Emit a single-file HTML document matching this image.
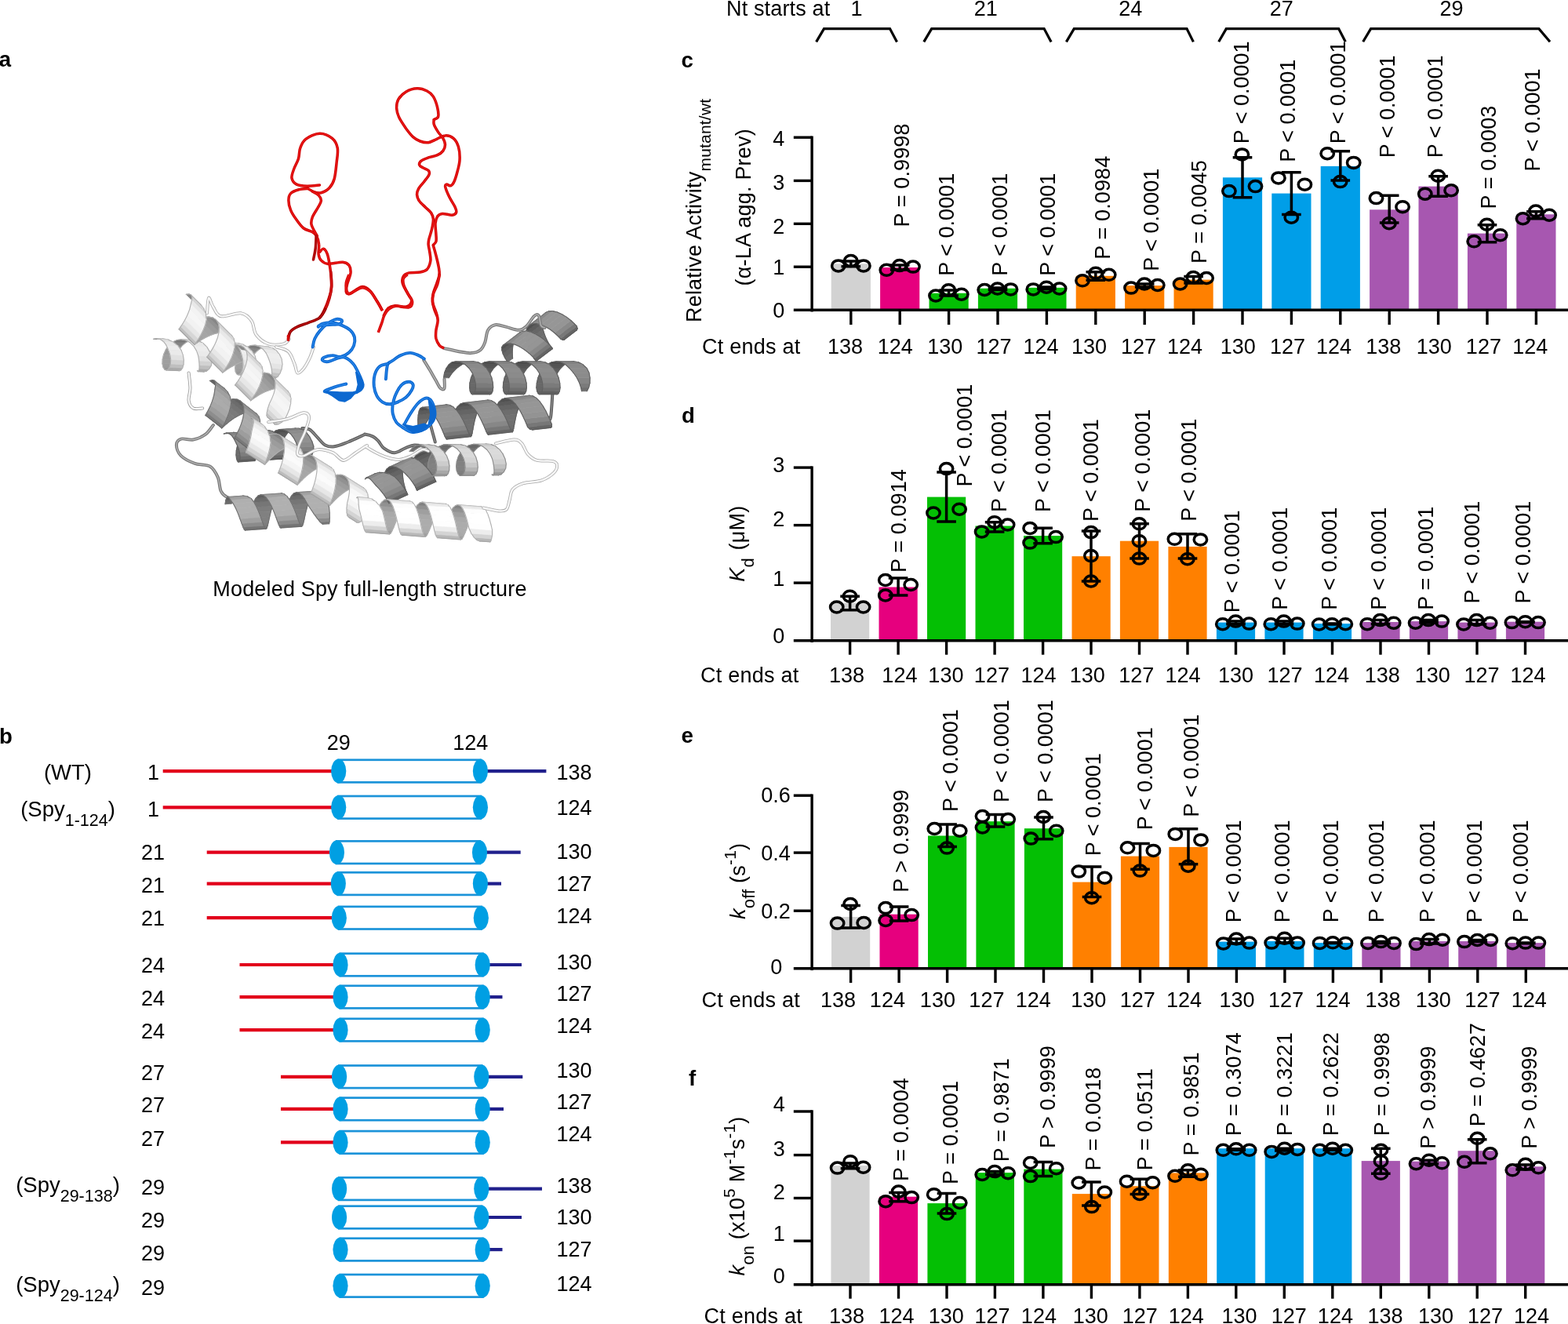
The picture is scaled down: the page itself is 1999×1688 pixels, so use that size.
<!DOCTYPE html>
<html lang="en">
<head>
<meta charset="utf-8">
<title>Spy truncation analysis</title>
<style>
html,body{margin:0;padding:0;background:#fff;}
body{width:1999px;height:1688px;overflow:hidden;}
svg{display:block;font-family:'Liberation Sans', sans-serif;fill:#000;}
</style>
</head>
<body>
<svg width="1999" height="1688" viewBox="0 0 1999 1688">
<rect width="1999" height="1688" fill="#fff"/>
<g id="protein">
<path d="M385.2 545.9C386.8 546.2 391.7 545.9 395.0 547.8C398.2 549.8 401.5 554.4 404.7 557.6C408.0 560.9 410.9 565.4 414.5 567.4C418.1 569.3 421.4 570.0 426.2 569.3C431.1 568.7 437.6 565.9 443.8 563.5C450.0 561.0 459.7 556.3 463.4 554.7C467.0 553.0 463.8 553.4 465.9 553.7C467.9 554.0 472.9 555.2 475.6 556.6C478.4 558.1 480.2 560.1 482.5 562.5C484.8 564.9 485.9 568.8 489.3 571.3C492.7 573.7 498.4 577.2 503.0 577.2C507.6 577.2 512.4 572.9 516.7 571.3C520.9 569.7 524.2 567.7 528.4 567.4C532.6 567.1 539.8 569.0 542.1 569.3" fill="none" stroke="#5e5e5e" stroke-width="4" stroke-linecap="round" stroke-linejoin="round"/>
<path d="M385.2 545.9C386.8 546.2 391.7 545.9 395.0 547.8C398.2 549.8 401.5 554.4 404.7 557.6C408.0 560.9 410.9 565.4 414.5 567.4C418.1 569.3 421.4 570.0 426.2 569.3C431.1 568.7 437.6 565.9 443.8 563.5C450.0 561.0 459.7 556.3 463.4 554.7C467.0 553.0 463.8 553.4 465.9 553.7C467.9 554.0 472.9 555.2 475.6 556.6C478.4 558.1 480.2 560.1 482.5 562.5C484.8 564.9 485.9 568.8 489.3 571.3C492.7 573.7 498.4 577.2 503.0 577.2C507.6 577.2 512.4 572.9 516.7 571.3C520.9 569.7 524.2 567.7 528.4 567.4C532.6 567.1 539.8 569.0 542.1 569.3" fill="none" stroke="#8c8c8c" stroke-width="1.36" stroke-linecap="round" stroke-linejoin="round"/>
<path d="M271.9 542.0C270.2 543.9 266.3 550.6 262.1 553.7C257.8 556.8 251.7 559.6 246.4 560.5C241.2 561.5 234.4 558.4 230.8 559.6C227.2 560.7 224.9 563.8 224.9 567.4C224.9 571.0 226.9 577.2 230.8 581.1C234.7 585.0 242.2 588.6 248.4 590.8C254.6 593.1 263.1 591.8 267.9 594.7C272.8 597.7 275.4 603.2 277.7 608.4C280.0 613.6 279.7 621.8 281.6 626.0C283.6 630.2 285.5 631.9 289.4 633.8C293.3 635.8 302.5 637.1 305.1 637.7" fill="none" stroke="#7c7c7c" stroke-width="4" stroke-linecap="round" stroke-linejoin="round"/>
<path d="M271.9 542.0C270.2 543.9 266.3 550.6 262.1 553.7C257.8 556.8 251.7 559.6 246.4 560.5C241.2 561.5 234.4 558.4 230.8 559.6C227.2 560.7 224.9 563.8 224.9 567.4C224.9 571.0 226.9 577.2 230.8 581.1C234.7 585.0 242.2 588.6 248.4 590.8C254.6 593.1 263.1 591.8 267.9 594.7C272.8 597.7 275.4 603.2 277.7 608.4C280.0 613.6 279.7 621.8 281.6 626.0C283.6 630.2 285.5 631.9 289.4 633.8C293.3 635.8 302.5 637.1 305.1 637.7" fill="none" stroke="#b4b4b4" stroke-width="1.36" stroke-linecap="round" stroke-linejoin="round"/>
<path d="M240.6 475.5C240.9 478.8 242.5 489.2 242.5 495.1C242.5 500.9 239.9 506.5 240.6 510.7C241.2 514.9 243.5 518.9 246.4 520.5C249.4 522.1 256.2 520.5 258.2 520.5" fill="none" stroke="#9a9a9a" stroke-width="4" stroke-linecap="round" stroke-linejoin="round"/>
<path d="M240.6 475.5C240.9 478.8 242.5 489.2 242.5 495.1C242.5 500.9 239.9 506.5 240.6 510.7C241.2 514.9 243.5 518.9 246.4 520.5C249.4 522.1 256.2 520.5 258.2 520.5" fill="none" stroke="#f6f6f6" stroke-width="2.40" stroke-linecap="round" stroke-linejoin="round"/>
<path d="M548.9 542.0C549.9 545.6 553.8 559.9 554.8 563.5" fill="none" stroke="#5e5e5e" stroke-width="4" stroke-linecap="round" stroke-linejoin="round"/>
<path d="M548.9 542.0C549.9 545.6 553.8 559.9 554.8 563.5" fill="none" stroke="#8c8c8c" stroke-width="1.36" stroke-linecap="round" stroke-linejoin="round"/>
<path d="M704.3 502.9C704.1 505.5 703.8 513.3 703.3 518.5C702.8 523.7 702.8 530.7 701.4 534.2C699.9 537.6 697.3 538.7 694.5 539.0C691.7 539.4 686.4 536.6 684.7 536.1" fill="none" stroke="#5e5e5e" stroke-width="4" stroke-linecap="round" stroke-linejoin="round"/>
<path d="M704.3 502.9C704.1 505.5 703.8 513.3 703.3 518.5C702.8 523.7 702.8 530.7 701.4 534.2C699.9 537.6 697.3 538.7 694.5 539.0C691.7 539.4 686.4 536.6 684.7 536.1" fill="none" stroke="#8c8c8c" stroke-width="1.36" stroke-linecap="round" stroke-linejoin="round"/>
<path d="M384.0 583.6L393.2 583.0L390.3 582.3L384.2 582.7Z" fill="#5b5b5b" stroke="#5b5b5b" stroke-width="0.7"/><path d="M384.0 583.6L384.2 582.7M393.2 583.0L390.3 582.3" stroke="#606060" stroke-width="1.1" fill="none" stroke-linecap="round"/>
<path d="M340.5 563.3L360.9 562.0L363.6 556.1L343.2 557.5Z" fill="#626262" stroke="#626262" stroke-width="0.7"/><path d="M340.5 563.3L343.2 557.5M360.9 562.0L363.6 556.1" stroke="#606060" stroke-width="1.1" fill="none" stroke-linecap="round"/>
<path d="M338.9 569.5L359.2 568.1L360.9 562.0L340.5 563.3Z" fill="#686868" stroke="#686868" stroke-width="0.7"/><path d="M338.9 569.5L340.5 563.3M359.2 568.1L360.9 562.0" stroke="#606060" stroke-width="1.1" fill="none" stroke-linecap="round"/>
<path d="M343.2 557.5L363.6 556.1L367.2 551.3L346.9 552.6Z" fill="#5a5a5a" stroke="#5a5a5a" stroke-width="0.7"/><path d="M343.2 557.5L346.9 552.6M363.6 556.1L367.2 551.3" stroke="#606060" stroke-width="1.1" fill="none" stroke-linecap="round"/>
<path d="M338.2 575.4L358.5 574.1L359.2 568.1L338.9 569.5Z" fill="#6b6b6b" stroke="#6b6b6b" stroke-width="0.7"/><path d="M338.2 575.4L338.9 569.5M358.5 574.1L359.2 568.1" stroke="#606060" stroke-width="1.1" fill="none" stroke-linecap="round"/>
<path d="M688.5 475.3L710.7 475.3L714.7 469.5L692.5 469.5Z" fill="#5d5d5d" stroke="#5d5d5d" stroke-width="0.7"/><path d="M688.5 475.3L692.5 469.5M710.7 475.3L714.7 469.5" stroke="#606060" stroke-width="1.1" fill="none" stroke-linecap="round"/>
<path d="M685.8 481.8L707.9 481.8L710.7 475.3L688.5 475.3Z" fill="#646464" stroke="#646464" stroke-width="0.7"/><path d="M685.8 481.8L688.5 475.3M707.9 481.8L710.7 475.3" stroke="#606060" stroke-width="1.1" fill="none" stroke-linecap="round"/>
<path d="M383.6 582.7L395.9 581.8L393.2 583.0L384.0 583.6Z" fill="#5c5c5c" stroke="#5c5c5c" stroke-width="0.7"/><path d="M383.6 582.7L384.0 583.6M395.9 581.8L393.2 583.0" stroke="#606060" stroke-width="1.1" fill="none" stroke-linecap="round"/>
<path d="M692.5 469.5L714.7 469.5L719.6 464.8L697.4 464.8Z" fill="#555555" stroke="#555555" stroke-width="0.7"/><path d="M692.5 469.5L697.4 464.8M714.7 469.5L719.6 464.8" stroke="#606060" stroke-width="1.1" fill="none" stroke-linecap="round"/>
<path d="M684.3 488.3L706.4 488.3L707.9 481.8L685.8 481.8Z" fill="#686868" stroke="#686868" stroke-width="0.7"/><path d="M684.3 488.3L685.8 481.8M706.4 488.3L707.9 481.8" stroke="#606060" stroke-width="1.1" fill="none" stroke-linecap="round"/>
<path d="M346.9 552.6L367.2 551.3L371.6 547.8L351.3 549.2Z" fill="#4f4f4f" stroke="#4f4f4f" stroke-width="0.7"/><path d="M346.9 552.6L351.3 549.2M367.2 551.3L371.6 547.8" stroke="#606060" stroke-width="1.1" fill="none" stroke-linecap="round"/>
<path d="M338.4 580.5L358.7 579.1L358.5 574.1L338.2 575.4Z" fill="#6b6b6b" stroke="#6b6b6b" stroke-width="0.7"/><path d="M338.4 580.5L338.2 575.4M358.7 579.1L358.5 574.1" stroke="#606060" stroke-width="1.1" fill="none" stroke-linecap="round"/>
<path d="M697.4 464.8L719.6 464.8L725.3 461.8L703.1 461.8Z" fill="#4c4c4c" stroke="#4c4c4c" stroke-width="0.7"/><path d="M697.4 464.8L703.1 461.8M719.6 464.8L725.3 461.8" stroke="#606060" stroke-width="1.1" fill="none" stroke-linecap="round"/>
<path d="M683.9 494.1L706.1 494.1L706.4 488.3L684.3 488.3Z" fill="#696969" stroke="#696969" stroke-width="0.7"/><path d="M683.9 494.1L684.3 488.3M706.1 494.1L706.4 488.3" stroke="#606060" stroke-width="1.1" fill="none" stroke-linecap="round"/>
<path d="M351.3 549.2L371.6 547.8L376.5 546.1L356.2 547.5Z" fill="#4a4a4a" stroke="#4a4a4a" stroke-width="0.7"/><path d="M351.3 549.2L356.2 547.5M371.6 547.8L376.5 546.1" stroke="#606060" stroke-width="1.1" fill="none" stroke-linecap="round"/>
<path d="M382.8 579.9L398.2 578.8L395.9 581.8L383.6 582.7Z" fill="#616161" stroke="#616161" stroke-width="0.7"/><path d="M382.8 579.9L383.6 582.7M398.2 578.8L395.9 581.8" stroke="#606060" stroke-width="1.1" fill="none" stroke-linecap="round"/>
<path d="M703.1 461.8L725.3 461.8L731.4 460.8L709.2 460.8Z" fill="#4a4a4a" stroke="#4a4a4a" stroke-width="0.7"/><path d="M703.1 461.8L709.2 460.8M725.3 461.8L731.4 460.8" stroke="#606060" stroke-width="1.1" fill="none" stroke-linecap="round"/>
<path d="M339.2 584.2L359.6 582.8L358.7 579.1L338.4 580.5Z" fill="#676767" stroke="#676767" stroke-width="0.7"/><path d="M339.2 584.2L338.4 580.5M359.6 582.8L358.7 579.1" stroke="#606060" stroke-width="1.1" fill="none" stroke-linecap="round"/>
<path d="M740.6 494.1L750.6 494.1L748.3 498.8L741.6 498.8Z" fill="#6e6e6e" stroke="#6e6e6e" stroke-width="0.7"/><path d="M740.6 494.1L741.6 498.8M750.6 494.1L748.3 498.8" stroke="#606060" stroke-width="1.1" fill="none" stroke-linecap="round"/>
<path d="M356.2 547.5L376.5 546.1L381.6 546.3L361.3 547.7Z" fill="#757575" stroke="#757575" stroke-width="0.7"/><path d="M356.2 547.5L361.3 547.7M376.5 546.1L381.6 546.3" stroke="#606060" stroke-width="1.1" fill="none" stroke-linecap="round"/>
<path d="M684.6 498.8L706.8 498.8L706.1 494.1L683.9 494.1Z" fill="#676767" stroke="#676767" stroke-width="0.7"/><path d="M684.6 498.8L683.9 494.1M706.8 498.8L706.1 494.1" stroke="#606060" stroke-width="1.1" fill="none" stroke-linecap="round"/>
<path d="M709.2 460.8L731.4 460.8L737.5 461.8L715.3 461.8Z" fill="#777777" stroke="#777777" stroke-width="0.7"/><path d="M709.2 460.8L715.3 461.8M731.4 460.8L737.5 461.8" stroke="#606060" stroke-width="1.1" fill="none" stroke-linecap="round"/>
<path d="M381.2 575.6L399.8 574.3L398.2 578.8L382.8 579.9Z" fill="#727272" stroke="#727272" stroke-width="0.7"/><path d="M381.2 575.6L382.8 579.9M399.8 574.3L398.2 578.8" stroke="#606060" stroke-width="1.1" fill="none" stroke-linecap="round"/>
<path d="M738.7 488.3L752.0 488.3L750.6 494.1L740.6 494.1Z" fill="#7b7b7b" stroke="#7b7b7b" stroke-width="0.7"/><path d="M738.7 488.3L740.6 494.1M752.0 488.3L750.6 494.1" stroke="#606060" stroke-width="1.1" fill="none" stroke-linecap="round"/>
<path d="M340.4 586.2L360.8 584.9L359.6 582.8L339.2 584.2Z" fill="#616161" stroke="#616161" stroke-width="0.7"/><path d="M340.4 586.2L339.2 584.2M360.8 584.9L359.6 582.8" stroke="#606060" stroke-width="1.1" fill="none" stroke-linecap="round"/>
<path d="M361.3 547.7L381.6 546.3L386.6 548.4L366.3 549.8Z" fill="#828282" stroke="#828282" stroke-width="0.7"/><path d="M361.3 547.7L366.3 549.8M381.6 546.3L386.6 548.4" stroke="#606060" stroke-width="1.1" fill="none" stroke-linecap="round"/>
<path d="M715.3 461.8L737.5 461.8L743.2 464.8L721.0 464.8Z" fill="#828282" stroke="#828282" stroke-width="0.7"/><path d="M715.3 461.8L721.0 464.8M737.5 461.8L743.2 464.8" stroke="#606060" stroke-width="1.1" fill="none" stroke-linecap="round"/>
<path d="M686.1 501.8L708.3 501.8L706.8 498.8L684.6 498.8Z" fill="#626262" stroke="#626262" stroke-width="0.7"/><path d="M686.1 501.8L684.6 498.8M708.3 501.8L706.8 498.8" stroke="#606060" stroke-width="1.1" fill="none" stroke-linecap="round"/>
<path d="M379.4 570.2L399.8 568.9L399.8 574.3L381.2 575.6Z" fill="#808080" stroke="#808080" stroke-width="0.7"/><path d="M379.4 570.2L381.2 575.6M399.8 568.9L399.8 574.3" stroke="#606060" stroke-width="1.1" fill="none" stroke-linecap="round"/>
<path d="M735.5 481.8L752.1 481.8L752.0 488.3L738.7 488.3Z" fill="#858585" stroke="#858585" stroke-width="0.7"/><path d="M735.5 481.8L738.7 488.3M752.1 481.8L752.0 488.3" stroke="#606060" stroke-width="1.1" fill="none" stroke-linecap="round"/>
<path d="M721.0 464.8L743.2 464.8L748.2 469.5L726.0 469.5Z" fill="#8a8a8a" stroke="#8a8a8a" stroke-width="0.7"/><path d="M721.0 464.8L726.0 469.5M743.2 464.8L748.2 469.5" stroke="#606060" stroke-width="1.1" fill="none" stroke-linecap="round"/>
<path d="M366.3 549.8L386.6 548.4L391.2 552.2L370.8 553.5Z" fill="#8c8c8c" stroke="#8c8c8c" stroke-width="0.7"/><path d="M366.3 549.8L370.8 553.5M386.6 548.4L391.2 552.2" stroke="#606060" stroke-width="1.1" fill="none" stroke-linecap="round"/>
<path d="M731.1 475.3L751.0 475.3L752.1 481.8L735.5 481.8Z" fill="#8b8b8b" stroke="#8b8b8b" stroke-width="0.7"/><path d="M731.1 475.3L735.5 481.8M751.0 475.3L752.1 481.8" stroke="#606060" stroke-width="1.1" fill="none" stroke-linecap="round"/>
<path d="M726.0 469.5L748.2 469.5L751.0 475.3L731.1 475.3Z" fill="#8d8d8d" stroke="#8d8d8d" stroke-width="0.7"/><path d="M726.0 469.5L731.1 475.3M748.2 469.5L751.0 475.3" stroke="#606060" stroke-width="1.1" fill="none" stroke-linecap="round"/>
<path d="M377.5 564.3L397.9 563.0L399.8 568.9L379.4 570.2Z" fill="#8b8b8b" stroke="#8b8b8b" stroke-width="0.7"/><path d="M377.5 564.3L379.4 570.2M397.9 563.0L399.8 568.9" stroke="#606060" stroke-width="1.1" fill="none" stroke-linecap="round"/>
<path d="M370.8 553.5L391.2 552.2L395.0 557.2L374.6 558.6Z" fill="#919191" stroke="#919191" stroke-width="0.7"/><path d="M370.8 553.5L374.6 558.6M391.2 552.2L395.0 557.2" stroke="#606060" stroke-width="1.1" fill="none" stroke-linecap="round"/>
<path d="M374.6 558.6L395.0 557.2L397.9 563.0L377.5 564.3Z" fill="#919191" stroke="#919191" stroke-width="0.7"/><path d="M374.6 558.6L377.5 564.3M395.0 557.2L397.9 563.0" stroke="#606060" stroke-width="1.1" fill="none" stroke-linecap="round"/>
<path d="M341.7 586.3L362.1 585.0L360.8 584.9L340.4 586.2Z" fill="#585858" stroke="#585858" stroke-width="0.7"/><path d="M341.7 586.3L340.4 586.2M362.1 585.0L360.8 584.9" stroke="#606060" stroke-width="1.1" fill="none" stroke-linecap="round"/>
<path d="M302.6 568.2L323.0 566.8L325.3 560.8L304.9 562.2Z" fill="#656565" stroke="#656565" stroke-width="0.7"/><path d="M302.6 568.2L304.9 562.2M323.0 566.8L325.3 560.8" stroke="#606060" stroke-width="1.1" fill="none" stroke-linecap="round"/>
<path d="M301.3 574.3L321.7 573.0L323.0 566.8L302.6 568.2Z" fill="#6a6a6a" stroke="#6a6a6a" stroke-width="0.7"/><path d="M301.3 574.3L302.6 568.2M321.7 573.0L323.0 566.8" stroke="#606060" stroke-width="1.1" fill="none" stroke-linecap="round"/>
<path d="M304.9 562.2L325.3 560.8L328.6 555.5L308.2 556.9Z" fill="#5d5d5d" stroke="#5d5d5d" stroke-width="0.7"/><path d="M304.9 562.2L308.2 556.9M325.3 560.8L328.6 555.5" stroke="#606060" stroke-width="1.1" fill="none" stroke-linecap="round"/>
<path d="M687.9 502.8L710.1 502.8L708.3 501.8L686.1 501.8Z" fill="#5b5b5b" stroke="#5b5b5b" stroke-width="0.7"/><path d="M687.9 502.8L686.1 501.8M710.1 502.8L708.3 501.8" stroke="#606060" stroke-width="1.1" fill="none" stroke-linecap="round"/>
<path d="M301.0 580.0L321.3 578.6L321.7 573.0L301.3 574.3Z" fill="#6c6c6c" stroke="#6c6c6c" stroke-width="0.7"/><path d="M301.0 580.0L301.3 574.3M321.3 578.6L321.7 573.0" stroke="#606060" stroke-width="1.1" fill="none" stroke-linecap="round"/>
<path d="M308.2 556.9L328.6 555.5L332.7 551.4L312.4 552.8Z" fill="#535353" stroke="#535353" stroke-width="0.7"/><path d="M308.2 556.9L312.4 552.8M328.6 555.5L332.7 551.4" stroke="#606060" stroke-width="1.1" fill="none" stroke-linecap="round"/>
<path d="M342.8 584.5L363.1 583.1L362.1 585.0L341.7 586.3Z" fill="#5c5c5c" stroke="#5c5c5c" stroke-width="0.7"/><path d="M342.8 584.5L341.7 586.3M363.1 583.1L362.1 585.0" stroke="#606060" stroke-width="1.1" fill="none" stroke-linecap="round"/>
<path d="M312.4 552.8L332.7 551.4L337.5 549.0L317.1 550.4Z" fill="#4a4a4a" stroke="#4a4a4a" stroke-width="0.7"/><path d="M312.4 552.8L317.1 550.4M332.7 551.4L337.5 549.0" stroke="#606060" stroke-width="1.1" fill="none" stroke-linecap="round"/>
<path d="M301.5 584.6L321.8 583.2L321.3 578.6L301.0 580.0Z" fill="#6a6a6a" stroke="#6a6a6a" stroke-width="0.7"/><path d="M301.5 584.6L301.0 580.0M321.8 583.2L321.3 578.6" stroke="#606060" stroke-width="1.1" fill="none" stroke-linecap="round"/>
<path d="M689.7 501.8L711.9 501.8L710.1 502.8L687.9 502.8Z" fill="#5c5c5c" stroke="#5c5c5c" stroke-width="0.7"/><path d="M689.7 501.8L687.9 502.8M711.9 501.8L710.1 502.8" stroke="#606060" stroke-width="1.1" fill="none" stroke-linecap="round"/>
<path d="M628.2 605.9L635.6 605.8L631.9 604.9L627.0 605.0Z" fill="#757575" stroke="#757575" stroke-width="0.7"/><path d="M628.2 605.9L627.0 605.0M635.6 605.8L631.9 604.9" stroke="#8c8c8c" stroke-width="1.1" fill="none" stroke-linecap="round"/>
<path d="M317.1 550.4L337.5 549.0L342.5 548.5L322.2 549.9Z" fill="#4a4a4a" stroke="#4a4a4a" stroke-width="0.7"/><path d="M317.1 550.4L322.2 549.9M337.5 549.0L342.5 548.5" stroke="#606060" stroke-width="1.1" fill="none" stroke-linecap="round"/>
<path d="M685.3 543.1L699.1 541.5L697.7 536.8L688.5 537.8Z" fill="#6d6d6d" stroke="#6d6d6d" stroke-width="0.7"/><path d="M685.3 543.1L688.5 537.8M699.1 541.5L697.7 536.8" stroke="#606060" stroke-width="1.1" fill="none" stroke-linecap="round"/>
<path d="M343.3 581.0L363.6 579.6L363.1 583.1L342.8 584.5Z" fill="#686868" stroke="#686868" stroke-width="0.7"/><path d="M343.3 581.0L342.8 584.5M363.6 579.6L363.1 583.1" stroke="#606060" stroke-width="1.1" fill="none" stroke-linecap="round"/>
<path d="M302.5 587.7L322.9 586.3L321.8 583.2L301.5 584.6Z" fill="#656565" stroke="#656565" stroke-width="0.7"/><path d="M302.5 587.7L301.5 584.6M322.9 586.3L321.8 583.2" stroke="#606060" stroke-width="1.1" fill="none" stroke-linecap="round"/>
<path d="M645.9 475.3L668.0 475.3L672.0 469.5L649.8 469.5Z" fill="#5d5d5d" stroke="#5d5d5d" stroke-width="0.7"/><path d="M645.9 475.3L649.8 469.5M668.0 475.3L672.0 469.5" stroke="#606060" stroke-width="1.1" fill="none" stroke-linecap="round"/>
<path d="M643.1 481.8L665.3 481.8L668.0 475.3L645.9 475.3Z" fill="#646464" stroke="#646464" stroke-width="0.7"/><path d="M643.1 481.8L645.9 475.3M665.3 481.8L668.0 475.3" stroke="#606060" stroke-width="1.1" fill="none" stroke-linecap="round"/>
<path d="M649.8 469.5L672.0 469.5L677.0 464.8L654.8 464.8Z" fill="#555555" stroke="#555555" stroke-width="0.7"/><path d="M649.8 469.5L654.8 464.8M672.0 469.5L677.0 464.8" stroke="#606060" stroke-width="1.1" fill="none" stroke-linecap="round"/>
<path d="M641.6 488.3L663.8 488.3L665.3 481.8L643.1 481.8Z" fill="#686868" stroke="#686868" stroke-width="0.7"/><path d="M641.6 488.3L643.1 481.8M663.8 488.3L665.3 481.8" stroke="#606060" stroke-width="1.1" fill="none" stroke-linecap="round"/>
<path d="M322.2 549.9L342.5 548.5L347.6 549.9L327.2 551.3Z" fill="#7e7e7e" stroke="#7e7e7e" stroke-width="0.7"/><path d="M322.2 549.9L327.2 551.3M342.5 548.5L347.6 549.9" stroke="#606060" stroke-width="1.1" fill="none" stroke-linecap="round"/>
<path d="M691.2 498.8L713.4 498.8L711.9 501.8L689.7 501.8Z" fill="#5f5f5f" stroke="#5f5f5f" stroke-width="0.7"/><path d="M691.2 498.8L689.7 501.8M713.4 498.8L711.9 501.8" stroke="#606060" stroke-width="1.1" fill="none" stroke-linecap="round"/>
<path d="M629.4 604.9L639.2 604.7L635.6 605.8L628.2 605.9Z" fill="#969696" stroke="#969696" stroke-width="0.7"/><path d="M629.4 604.9L628.2 605.9M639.2 604.7L635.6 605.8" stroke="#8c8c8c" stroke-width="1.1" fill="none" stroke-linecap="round"/>
<path d="M343.0 576.2L363.3 574.8L363.6 579.6L343.3 581.0Z" fill="#787878" stroke="#787878" stroke-width="0.7"/><path d="M343.0 576.2L343.3 581.0M363.3 574.8L363.6 579.6" stroke="#606060" stroke-width="1.1" fill="none" stroke-linecap="round"/>
<path d="M654.8 464.8L677.0 464.8L682.7 461.8L660.5 461.8Z" fill="#4c4c4c" stroke="#4c4c4c" stroke-width="0.7"/><path d="M654.8 464.8L660.5 461.8M677.0 464.8L682.7 461.8" stroke="#606060" stroke-width="1.1" fill="none" stroke-linecap="round"/>
<path d="M627.7 531.5L658.5 528.1L660.7 521.0L629.9 524.5Z" fill="#6d6d6d" stroke="#6d6d6d" stroke-width="0.7"/><path d="M627.7 531.5L629.9 524.5M658.5 528.1L660.7 521.0" stroke="#606060" stroke-width="1.1" fill="none" stroke-linecap="round"/>
<path d="M682.2 546.6L700.7 544.5L699.1 541.5L685.3 543.1Z" fill="#666666" stroke="#666666" stroke-width="0.7"/><path d="M682.2 546.6L685.3 543.1M700.7 544.5L699.1 541.5" stroke="#606060" stroke-width="1.1" fill="none" stroke-linecap="round"/>
<path d="M626.1 538.6L656.9 535.1L658.5 528.1L627.7 531.5Z" fill="#707070" stroke="#707070" stroke-width="0.7"/><path d="M626.1 538.6L627.7 531.5M656.9 535.1L658.5 528.1" stroke="#606060" stroke-width="1.1" fill="none" stroke-linecap="round"/>
<path d="M641.3 494.1L663.5 494.1L663.8 488.3L641.6 488.3Z" fill="#696969" stroke="#696969" stroke-width="0.7"/><path d="M641.3 494.1L641.6 488.3M663.5 494.1L663.8 488.3" stroke="#606060" stroke-width="1.1" fill="none" stroke-linecap="round"/>
<path d="M302.2 457.6L319.4 459.6L322.4 453.7L305.2 451.7Z" fill="#9a9a9a" stroke="#9a9a9a" stroke-width="0.7"/><path d="M302.2 457.6L305.2 451.7M319.4 459.6L322.4 453.7" stroke="#b0b0b0" stroke-width="1.1" fill="none" stroke-linecap="round"/>
<path d="M629.9 524.5L660.7 521.0L663.4 514.6L632.6 518.0Z" fill="#656565" stroke="#656565" stroke-width="0.7"/><path d="M629.9 524.5L632.6 518.0M660.7 521.0L663.4 514.6" stroke="#606060" stroke-width="1.1" fill="none" stroke-linecap="round"/>
<path d="M327.2 551.3L347.6 549.9L352.3 553.1L332.0 554.4Z" fill="#898989" stroke="#898989" stroke-width="0.7"/><path d="M327.2 551.3L332.0 554.4M347.6 549.9L352.3 553.1" stroke="#606060" stroke-width="1.1" fill="none" stroke-linecap="round"/>
<path d="M305.2 451.7L322.4 453.7L326.5 448.6L309.3 446.5Z" fill="#929292" stroke="#929292" stroke-width="0.7"/><path d="M305.2 451.7L309.3 446.5M322.4 453.7L326.5 448.6" stroke="#b0b0b0" stroke-width="1.1" fill="none" stroke-linecap="round"/>
<path d="M303.8 589.0L324.2 587.6L322.9 586.3L302.5 587.7Z" fill="#5d5d5d" stroke="#5d5d5d" stroke-width="0.7"/><path d="M303.8 589.0L302.5 587.7M324.2 587.6L322.9 586.3" stroke="#606060" stroke-width="1.1" fill="none" stroke-linecap="round"/>
<path d="M300.4 463.6L317.6 465.6L319.4 459.6L302.2 457.6Z" fill="#9f9f9f" stroke="#9f9f9f" stroke-width="0.7"/><path d="M300.4 463.6L302.2 457.6M317.6 465.6L319.4 459.6" stroke="#b0b0b0" stroke-width="1.1" fill="none" stroke-linecap="round"/>
<path d="M341.7 570.5L362.0 569.1L363.3 574.8L343.0 576.2Z" fill="#858585" stroke="#858585" stroke-width="0.7"/><path d="M341.7 570.5L343.0 576.2M362.0 569.1L363.3 574.8" stroke="#606060" stroke-width="1.1" fill="none" stroke-linecap="round"/>
<path d="M364.3 650.6L390.9 648.9L392.9 641.9L366.3 643.7Z" fill="#7d7d7d" stroke="#7d7d7d" stroke-width="0.7"/><path d="M364.3 650.6L366.3 643.7M390.9 648.9L392.9 641.9" stroke="#707070" stroke-width="1.1" fill="none" stroke-linecap="round"/>
<path d="M660.5 461.8L682.7 461.8L688.8 460.8L666.6 460.8Z" fill="#4a4a4a" stroke="#4a4a4a" stroke-width="0.7"/><path d="M660.5 461.8L666.6 460.8M682.7 461.8L688.8 460.8" stroke="#606060" stroke-width="1.1" fill="none" stroke-linecap="round"/>
<path d="M309.3 446.5L326.5 448.6L331.4 444.7L314.2 442.7Z" fill="#878787" stroke="#878787" stroke-width="0.7"/><path d="M309.3 446.5L314.2 442.7M326.5 448.6L331.4 444.7" stroke="#b0b0b0" stroke-width="1.1" fill="none" stroke-linecap="round"/>
<path d="M362.7 657.5L389.2 655.8L390.9 648.9L364.3 650.6Z" fill="#808080" stroke="#808080" stroke-width="0.7"/><path d="M362.7 657.5L364.3 650.6M389.2 655.8L390.9 648.9" stroke="#707070" stroke-width="1.1" fill="none" stroke-linecap="round"/>
<path d="M624.9 544.9L655.7 541.4L656.9 535.1L626.1 538.6Z" fill="#707070" stroke="#707070" stroke-width="0.7"/><path d="M624.9 544.9L626.1 538.6M655.7 541.4L656.9 535.1" stroke="#606060" stroke-width="1.1" fill="none" stroke-linecap="round"/>
<path d="M332.0 554.4L352.3 553.1L356.5 557.6L336.1 559.0Z" fill="#909090" stroke="#909090" stroke-width="0.7"/><path d="M332.0 554.4L336.1 559.0M352.3 553.1L356.5 557.6" stroke="#606060" stroke-width="1.1" fill="none" stroke-linecap="round"/>
<path d="M691.9 494.1L714.1 494.1L713.4 498.8L691.2 498.8Z" fill="#6e6e6e" stroke="#6e6e6e" stroke-width="0.7"/><path d="M691.9 494.1L691.2 498.8M714.1 494.1L713.4 498.8" stroke="#606060" stroke-width="1.1" fill="none" stroke-linecap="round"/>
<path d="M366.3 643.7L392.9 641.9L395.3 635.6L368.7 637.4Z" fill="#767676" stroke="#767676" stroke-width="0.7"/><path d="M366.3 643.7L368.7 637.4M392.9 641.9L395.3 635.6" stroke="#707070" stroke-width="1.1" fill="none" stroke-linecap="round"/>
<path d="M632.6 518.0L663.4 514.6L666.7 509.3L635.9 512.7Z" fill="#5b5b5b" stroke="#5b5b5b" stroke-width="0.7"/><path d="M632.6 518.0L635.9 512.7M663.4 514.6L666.7 509.3" stroke="#606060" stroke-width="1.1" fill="none" stroke-linecap="round"/>
<path d="M339.4 564.6L359.7 563.2L362.0 569.1L341.7 570.5Z" fill="#8e8e8e" stroke="#8e8e8e" stroke-width="0.7"/><path d="M339.4 564.6L341.7 570.5M359.7 563.2L362.0 569.1" stroke="#606060" stroke-width="1.1" fill="none" stroke-linecap="round"/>
<path d="M630.1 601.9L642.3 601.7L639.2 604.7L629.4 604.9Z" fill="#989898" stroke="#989898" stroke-width="0.7"/><path d="M630.1 601.9L629.4 604.9M642.3 601.7L639.2 604.7" stroke="#8c8c8c" stroke-width="1.1" fill="none" stroke-linecap="round"/>
<path d="M584.3 582.1L600.5 581.8L603.9 575.9L587.7 576.1Z" fill="#787878" stroke="#787878" stroke-width="0.7"/><path d="M584.3 582.1L587.7 576.1M600.5 581.8L603.9 575.9" stroke="#8c8c8c" stroke-width="1.1" fill="none" stroke-linecap="round"/>
<path d="M336.1 559.0L356.5 557.6L359.7 563.2L339.4 564.6Z" fill="#929292" stroke="#929292" stroke-width="0.7"/><path d="M336.1 559.0L339.4 564.6M356.5 557.6L359.7 563.2" stroke="#606060" stroke-width="1.1" fill="none" stroke-linecap="round"/>
<path d="M642.0 498.8L664.2 498.8L663.5 494.1L641.3 494.1Z" fill="#676767" stroke="#676767" stroke-width="0.7"/><path d="M642.0 498.8L641.3 494.1M664.2 498.8L663.5 494.1" stroke="#606060" stroke-width="1.1" fill="none" stroke-linecap="round"/>
<path d="M299.7 469.1L317.0 471.1L317.6 465.6L300.4 463.6Z" fill="#a0a0a0" stroke="#a0a0a0" stroke-width="0.7"/><path d="M299.7 469.1L300.4 463.6M317.0 471.1L317.6 465.6" stroke="#b0b0b0" stroke-width="1.1" fill="none" stroke-linecap="round"/>
<path d="M582.3 588.4L598.5 588.2L600.5 581.8L584.3 582.1Z" fill="#7e7e7e" stroke="#7e7e7e" stroke-width="0.7"/><path d="M582.3 588.4L584.3 582.1M598.5 588.2L600.5 581.8" stroke="#8c8c8c" stroke-width="1.1" fill="none" stroke-linecap="round"/>
<path d="M587.7 576.1L603.9 575.9L608.5 571.0L592.3 571.2Z" fill="#707070" stroke="#707070" stroke-width="0.7"/><path d="M587.7 576.1L592.3 571.2M603.9 575.9L608.5 571.0" stroke="#8c8c8c" stroke-width="1.1" fill="none" stroke-linecap="round"/>
<path d="M361.3 663.8L387.9 662.0L389.2 655.8L362.7 657.5Z" fill="#808080" stroke="#808080" stroke-width="0.7"/><path d="M361.3 663.8L362.7 657.5M387.9 662.0L389.2 655.8" stroke="#707070" stroke-width="1.1" fill="none" stroke-linecap="round"/>
<path d="M314.2 442.7L331.4 444.7L336.9 442.5L319.6 440.5Z" fill="#7a7a7a" stroke="#7a7a7a" stroke-width="0.7"/><path d="M314.2 442.7L319.6 440.5M331.4 444.7L336.9 442.5" stroke="#b0b0b0" stroke-width="1.1" fill="none" stroke-linecap="round"/>
<path d="M346.5 479.1L354.3 480.0L350.9 482.4L345.8 481.8Z" fill="#acacac" stroke="#acacac" stroke-width="0.7"/><path d="M346.5 479.1L345.8 481.8M354.3 480.0L350.9 482.4" stroke="#b0b0b0" stroke-width="1.1" fill="none" stroke-linecap="round"/>
<path d="M666.6 460.8L688.8 460.8L694.9 461.8L672.7 461.8Z" fill="#777777" stroke="#777777" stroke-width="0.7"/><path d="M666.6 460.8L672.7 461.8M688.8 460.8L694.9 461.8" stroke="#606060" stroke-width="1.1" fill="none" stroke-linecap="round"/>
<path d="M679.1 548.0L702.2 545.4L700.7 544.5L682.2 546.6Z" fill="#5c5c5c" stroke="#5c5c5c" stroke-width="0.7"/><path d="M679.1 548.0L682.2 546.6M702.2 545.4L700.7 544.5" stroke="#606060" stroke-width="1.1" fill="none" stroke-linecap="round"/>
<path d="M592.3 571.2L608.5 571.0L614.0 567.6L597.8 567.8Z" fill="#676767" stroke="#676767" stroke-width="0.7"/><path d="M592.3 571.2L597.8 567.8M608.5 571.0L614.0 567.6" stroke="#8c8c8c" stroke-width="1.1" fill="none" stroke-linecap="round"/>
<path d="M581.6 594.6L597.8 594.4L598.5 588.2L582.3 588.4Z" fill="#818181" stroke="#818181" stroke-width="0.7"/><path d="M581.6 594.6L582.3 588.4M597.8 594.4L598.5 588.2" stroke="#8c8c8c" stroke-width="1.1" fill="none" stroke-linecap="round"/>
<path d="M305.0 588.3L325.4 587.0L324.2 587.6L303.8 589.0Z" fill="#5c5c5c" stroke="#5c5c5c" stroke-width="0.7"/><path d="M305.0 588.3L303.8 589.0M325.4 587.0L324.2 587.6" stroke="#606060" stroke-width="1.1" fill="none" stroke-linecap="round"/>
<path d="M624.0 549.9L654.8 546.4L655.7 541.4L624.9 544.9Z" fill="#6d6d6d" stroke="#6d6d6d" stroke-width="0.7"/><path d="M624.0 549.9L624.9 544.9M654.8 546.4L655.7 541.4" stroke="#606060" stroke-width="1.1" fill="none" stroke-linecap="round"/>
<path d="M368.7 637.4L395.3 635.6L398.0 630.6L371.5 632.3Z" fill="#6b6b6b" stroke="#6b6b6b" stroke-width="0.7"/><path d="M368.7 637.4L371.5 632.3M395.3 635.6L398.0 630.6" stroke="#707070" stroke-width="1.1" fill="none" stroke-linecap="round"/>
<path d="M691.6 488.3L713.7 488.3L714.1 494.1L691.9 494.1Z" fill="#7b7b7b" stroke="#7b7b7b" stroke-width="0.7"/><path d="M691.6 488.3L691.9 494.1M713.7 488.3L714.1 494.1" stroke="#606060" stroke-width="1.1" fill="none" stroke-linecap="round"/>
<path d="M319.6 440.5L336.9 442.5L342.5 442.2L325.2 440.1Z" fill="#787878" stroke="#787878" stroke-width="0.7"/><path d="M319.6 440.5L325.2 440.1M336.9 442.5L342.5 442.2" stroke="#b0b0b0" stroke-width="1.1" fill="none" stroke-linecap="round"/>
<path d="M635.9 512.7L666.7 509.3L670.6 505.7L639.8 509.2Z" fill="#4f4f4f" stroke="#4f4f4f" stroke-width="0.7"/><path d="M635.9 512.7L639.8 509.2M666.7 509.3L670.6 505.7" stroke="#606060" stroke-width="1.1" fill="none" stroke-linecap="round"/>
<path d="M300.2 473.6L317.5 475.6L317.0 471.1L299.7 469.1Z" fill="#9d9d9d" stroke="#9d9d9d" stroke-width="0.7"/><path d="M300.2 473.6L299.7 469.1M317.5 475.6L317.0 471.1" stroke="#b0b0b0" stroke-width="1.1" fill="none" stroke-linecap="round"/>
<path d="M672.7 461.8L694.9 461.8L700.6 464.8L678.4 464.8Z" fill="#828282" stroke="#828282" stroke-width="0.7"/><path d="M672.7 461.8L678.4 464.8M694.9 461.8L700.6 464.8" stroke="#606060" stroke-width="1.1" fill="none" stroke-linecap="round"/>
<path d="M315.8 553.5L325.2 560.8L329.2 555.7L323.0 550.8Z" fill="#7c7c7c" stroke="#7c7c7c" stroke-width="0.7"/><path d="M315.8 553.5L323.0 550.8M325.2 560.8L329.2 555.7" stroke="#707070" stroke-width="1.1" fill="none" stroke-linecap="round"/>
<path d="M360.2 668.7L386.7 667.0L387.9 662.0L361.3 663.8Z" fill="#7e7e7e" stroke="#7e7e7e" stroke-width="0.7"/><path d="M360.2 668.7L361.3 663.8M386.7 667.0L387.9 662.0" stroke="#707070" stroke-width="1.1" fill="none" stroke-linecap="round"/>
<path d="M597.8 567.8L614.0 567.6L620.0 566.1L603.8 566.3Z" fill="#646464" stroke="#646464" stroke-width="0.7"/><path d="M597.8 567.8L603.8 566.3M614.0 567.6L620.0 566.1" stroke="#8c8c8c" stroke-width="1.1" fill="none" stroke-linecap="round"/>
<path d="M629.9 597.3L644.7 597.1L642.3 601.7L630.1 601.9Z" fill="#aeaeae" stroke="#aeaeae" stroke-width="0.7"/><path d="M629.9 597.3L630.1 601.9M644.7 597.1L642.3 601.7" stroke="#8c8c8c" stroke-width="1.1" fill="none" stroke-linecap="round"/>
<path d="M720.0 427.7L729.4 420.6L725.3 417.8L719.1 422.6Z" fill="#6e6e6e" stroke="#6e6e6e" stroke-width="0.7"/><path d="M720.0 427.7L719.1 422.6M729.4 420.6L725.3 417.8" stroke="#606060" stroke-width="1.1" fill="none" stroke-linecap="round"/>
<path d="M318.8 653.6L345.4 651.9L347.4 644.9L320.8 646.7Z" fill="#7d7d7d" stroke="#7d7d7d" stroke-width="0.7"/><path d="M318.8 653.6L320.8 646.7M345.4 651.9L347.4 644.9" stroke="#707070" stroke-width="1.1" fill="none" stroke-linecap="round"/>
<path d="M317.2 660.5L343.7 658.8L345.4 651.9L318.8 653.6Z" fill="#808080" stroke="#808080" stroke-width="0.7"/><path d="M317.2 660.5L318.8 653.6M343.7 658.8L345.4 651.9" stroke="#707070" stroke-width="1.1" fill="none" stroke-linecap="round"/>
<path d="M582.2 600.0L598.4 599.7L597.8 594.4L581.6 594.6Z" fill="#828282" stroke="#828282" stroke-width="0.7"/><path d="M582.2 600.0L581.6 594.6M598.4 599.7L597.8 594.4" stroke="#8c8c8c" stroke-width="1.1" fill="none" stroke-linecap="round"/>
<path d="M643.4 501.8L665.6 501.8L664.2 498.8L642.0 498.8Z" fill="#626262" stroke="#626262" stroke-width="0.7"/><path d="M643.4 501.8L642.0 498.8M665.6 501.8L664.2 498.8" stroke="#606060" stroke-width="1.1" fill="none" stroke-linecap="round"/>
<path d="M346.7 474.6L357.1 475.8L354.3 480.0L346.5 479.1Z" fill="#c2c2c2" stroke="#c2c2c2" stroke-width="0.7"/><path d="M346.7 474.6L346.5 479.1M357.1 475.8L354.3 480.0" stroke="#b0b0b0" stroke-width="1.1" fill="none" stroke-linecap="round"/>
<path d="M690.1 481.8L712.2 481.8L713.7 488.3L691.6 488.3Z" fill="#858585" stroke="#858585" stroke-width="0.7"/><path d="M690.1 481.8L691.6 488.3M712.2 481.8L713.7 488.3" stroke="#606060" stroke-width="1.1" fill="none" stroke-linecap="round"/>
<path d="M320.8 646.7L347.4 644.9L349.8 638.6L323.2 640.4Z" fill="#767676" stroke="#767676" stroke-width="0.7"/><path d="M320.8 646.7L323.2 640.4M347.4 644.9L349.8 638.6" stroke="#707070" stroke-width="1.1" fill="none" stroke-linecap="round"/>
<path d="M252.4 473.7L259.9 474.0L256.5 472.9L251.5 472.7Z" fill="#8e8e8e" stroke="#8e8e8e" stroke-width="0.7"/><path d="M252.4 473.7L251.5 472.7M259.9 474.0L256.5 472.9" stroke="#b0b0b0" stroke-width="1.1" fill="none" stroke-linecap="round"/>
<path d="M678.4 464.8L700.6 464.8L705.5 469.5L683.3 469.5Z" fill="#8a8a8a" stroke="#8a8a8a" stroke-width="0.7"/><path d="M678.4 464.8L683.3 469.5M700.6 464.8L705.5 469.5" stroke="#606060" stroke-width="1.1" fill="none" stroke-linecap="round"/>
<path d="M309.6 556.0L322.1 565.8L325.2 560.8L315.8 553.5Z" fill="#7a7a7a" stroke="#7a7a7a" stroke-width="0.7"/><path d="M309.6 556.0L315.8 553.5M322.1 565.8L325.2 560.8" stroke="#707070" stroke-width="1.1" fill="none" stroke-linecap="round"/>
<path d="M325.2 440.1L342.5 442.2L347.8 443.8L330.6 441.7Z" fill="#cecece" stroke="#cecece" stroke-width="0.7"/><path d="M325.2 440.1L330.6 441.7M342.5 442.2L347.8 443.8" stroke="#b0b0b0" stroke-width="1.1" fill="none" stroke-linecap="round"/>
<path d="M603.8 566.3L620.0 566.1L626.2 566.6L610.0 566.8Z" fill="#bababa" stroke="#bababa" stroke-width="0.7"/><path d="M603.8 566.3L610.0 566.8M620.0 566.1L626.2 566.6" stroke="#8c8c8c" stroke-width="1.1" fill="none" stroke-linecap="round"/>
<path d="M371.5 632.3L398.0 630.6L401.1 627.2L374.6 629.0Z" fill="#5e5e5e" stroke="#5e5e5e" stroke-width="0.7"/><path d="M371.5 632.3L374.6 629.0M398.0 630.6L401.1 627.2" stroke="#707070" stroke-width="1.1" fill="none" stroke-linecap="round"/>
<path d="M315.8 666.8L342.4 665.0L343.7 658.8L317.2 660.5Z" fill="#808080" stroke="#808080" stroke-width="0.7"/><path d="M315.8 666.8L317.2 660.5M342.4 665.0L343.7 658.8" stroke="#707070" stroke-width="1.1" fill="none" stroke-linecap="round"/>
<path d="M687.3 475.3L709.5 475.3L712.2 481.8L690.1 481.8Z" fill="#8b8b8b" stroke="#8b8b8b" stroke-width="0.7"/><path d="M687.3 475.3L690.1 481.8M709.5 475.3L712.2 481.8" stroke="#606060" stroke-width="1.1" fill="none" stroke-linecap="round"/>
<path d="M683.3 469.5L705.5 469.5L709.5 475.3L687.3 475.3Z" fill="#8d8d8d" stroke="#8d8d8d" stroke-width="0.7"/><path d="M683.3 469.5L687.3 475.3M705.5 469.5L709.5 475.3" stroke="#606060" stroke-width="1.1" fill="none" stroke-linecap="round"/>
<path d="M574.9 537.4L605.7 534.0L607.9 526.9L577.1 530.3Z" fill="#6d6d6d" stroke="#6d6d6d" stroke-width="0.7"/><path d="M574.9 537.4L577.1 530.3M605.7 534.0L607.9 526.9" stroke="#606060" stroke-width="1.1" fill="none" stroke-linecap="round"/>
<path d="M305.9 585.9L326.3 584.5L325.4 587.0L305.0 588.3Z" fill="#5d5d5d" stroke="#5d5d5d" stroke-width="0.7"/><path d="M305.9 585.9L305.0 588.3M326.3 584.5L325.4 587.0" stroke="#606060" stroke-width="1.1" fill="none" stroke-linecap="round"/>
<path d="M623.3 553.1L654.0 549.7L654.8 546.4L624.0 549.9Z" fill="#666666" stroke="#666666" stroke-width="0.7"/><path d="M623.3 553.1L624.0 549.9M654.0 549.7L654.8 546.4" stroke="#606060" stroke-width="1.1" fill="none" stroke-linecap="round"/>
<path d="M675.7 547.3L703.4 544.2L702.2 545.4L679.1 548.0Z" fill="#5c5c5c" stroke="#5c5c5c" stroke-width="0.7"/><path d="M675.7 547.3L679.1 548.0M703.4 544.2L702.2 545.4" stroke="#606060" stroke-width="1.1" fill="none" stroke-linecap="round"/>
<path d="M629.1 591.5L645.3 591.3L644.7 597.1L629.9 597.3Z" fill="#c1c1c1" stroke="#c1c1c1" stroke-width="0.7"/><path d="M629.1 591.5L629.9 597.3M645.3 591.3L644.7 597.1" stroke="#8c8c8c" stroke-width="1.1" fill="none" stroke-linecap="round"/>
<path d="M573.3 544.4L604.1 541.0L605.7 534.0L574.9 537.4Z" fill="#707070" stroke="#707070" stroke-width="0.7"/><path d="M573.3 544.4L574.9 537.4M604.1 541.0L605.7 534.0" stroke="#606060" stroke-width="1.1" fill="none" stroke-linecap="round"/>
<path d="M639.8 509.2L670.6 505.7L674.8 504.2L644.0 507.6Z" fill="#4a4a4a" stroke="#4a4a4a" stroke-width="0.7"/><path d="M639.8 509.2L644.0 507.6M670.6 505.7L674.8 504.2" stroke="#606060" stroke-width="1.1" fill="none" stroke-linecap="round"/>
<path d="M301.6 476.6L318.8 478.7L317.5 475.6L300.2 473.6Z" fill="#979797" stroke="#979797" stroke-width="0.7"/><path d="M301.6 476.6L300.2 473.6M318.8 478.7L317.5 475.6" stroke="#b0b0b0" stroke-width="1.1" fill="none" stroke-linecap="round"/>
<path d="M577.1 530.3L607.9 526.9L610.6 520.4L579.8 523.8Z" fill="#656565" stroke="#656565" stroke-width="0.7"/><path d="M577.1 530.3L579.8 523.8M607.9 526.9L610.6 520.4" stroke="#606060" stroke-width="1.1" fill="none" stroke-linecap="round"/>
<path d="M323.2 640.4L349.8 638.6L352.5 633.6L326.0 635.3Z" fill="#6b6b6b" stroke="#6b6b6b" stroke-width="0.7"/><path d="M323.2 640.4L326.0 635.3M349.8 638.6L352.5 633.6" stroke="#707070" stroke-width="1.1" fill="none" stroke-linecap="round"/>
<path d="M285.2 553.1L291.3 552.7L297.8 551.4L288.6 552.0Z" fill="#4a4a4a" stroke="#4a4a4a" stroke-width="0.7"/><path d="M285.2 553.1L288.6 552.0M291.3 552.7L297.8 551.4" stroke="#606060" stroke-width="1.1" fill="none" stroke-linecap="round"/>
<path d="M610.0 566.8L626.2 566.6L632.0 569.1L615.8 569.3Z" fill="#cbcbcb" stroke="#cbcbcb" stroke-width="0.7"/><path d="M610.0 566.8L615.8 569.3M626.2 566.6L632.0 569.1" stroke="#8c8c8c" stroke-width="1.1" fill="none" stroke-linecap="round"/>
<path d="M359.1 671.9L385.7 670.2L386.7 667.0L360.2 668.7Z" fill="#767676" stroke="#767676" stroke-width="0.7"/><path d="M359.1 671.9L360.2 668.7M385.7 670.2L386.7 667.0" stroke="#707070" stroke-width="1.1" fill="none" stroke-linecap="round"/>
<path d="M330.6 441.7L347.8 443.8L352.6 447.2L335.3 445.2Z" fill="#dedede" stroke="#dedede" stroke-width="0.7"/><path d="M330.6 441.7L335.3 445.2M347.8 443.8L352.6 447.2" stroke="#b0b0b0" stroke-width="1.1" fill="none" stroke-linecap="round"/>
<path d="M346.1 468.9L359.1 470.5L357.1 475.8L346.7 474.6Z" fill="#d5d5d5" stroke="#d5d5d5" stroke-width="0.7"/><path d="M346.1 468.9L346.7 474.6M359.1 470.5L357.1 475.8" stroke="#b0b0b0" stroke-width="1.1" fill="none" stroke-linecap="round"/>
<path d="M583.8 603.9L599.9 603.7L598.4 599.7L582.2 600.0Z" fill="#7f7f7f" stroke="#7f7f7f" stroke-width="0.7"/><path d="M583.8 603.9L582.2 600.0M599.9 603.7L598.4 599.7" stroke="#8c8c8c" stroke-width="1.1" fill="none" stroke-linecap="round"/>
<path d="M720.2 431.3L732.7 421.8L729.4 420.6L720.0 427.7Z" fill="#676767" stroke="#676767" stroke-width="0.7"/><path d="M720.2 431.3L720.0 427.7M732.7 421.8L729.4 420.6" stroke="#606060" stroke-width="1.1" fill="none" stroke-linecap="round"/>
<path d="M304.5 557.9L320.1 570.2L322.1 565.8L309.6 556.0Z" fill="#767676" stroke="#767676" stroke-width="0.7"/><path d="M304.5 557.9L309.6 556.0M320.1 570.2L322.1 565.8" stroke="#707070" stroke-width="1.1" fill="none" stroke-linecap="round"/>
<path d="M572.1 550.7L602.9 547.3L604.1 541.0L573.3 544.4Z" fill="#707070" stroke="#707070" stroke-width="0.7"/><path d="M572.1 550.7L573.3 544.4M602.9 547.3L604.1 541.0" stroke="#606060" stroke-width="1.1" fill="none" stroke-linecap="round"/>
<path d="M627.7 585.2L643.9 585.0L645.3 591.3L629.1 591.5Z" fill="#d0d0d0" stroke="#d0d0d0" stroke-width="0.7"/><path d="M627.7 585.2L629.1 591.5M643.9 585.0L645.3 591.3" stroke="#8c8c8c" stroke-width="1.1" fill="none" stroke-linecap="round"/>
<path d="M314.7 671.7L341.2 670.0L342.4 665.0L315.8 666.8Z" fill="#7e7e7e" stroke="#7e7e7e" stroke-width="0.7"/><path d="M314.7 671.7L315.8 666.8M341.2 670.0L342.4 665.0" stroke="#707070" stroke-width="1.1" fill="none" stroke-linecap="round"/>
<path d="M645.2 502.8L667.4 502.8L665.6 501.8L643.4 501.8Z" fill="#5b5b5b" stroke="#5b5b5b" stroke-width="0.7"/><path d="M645.2 502.8L643.4 501.8M667.4 502.8L665.6 501.8" stroke="#606060" stroke-width="1.1" fill="none" stroke-linecap="round"/>
<path d="M615.8 569.3L632.0 569.1L637.1 573.3L620.9 573.5Z" fill="#d6d6d6" stroke="#d6d6d6" stroke-width="0.7"/><path d="M615.8 569.3L620.9 573.5M632.0 569.1L637.1 573.3" stroke="#8c8c8c" stroke-width="1.1" fill="none" stroke-linecap="round"/>
<path d="M579.8 523.8L610.6 520.4L613.9 515.2L583.1 518.6Z" fill="#5b5b5b" stroke="#5b5b5b" stroke-width="0.7"/><path d="M579.8 523.8L583.1 518.6M610.6 520.4L613.9 515.2" stroke="#606060" stroke-width="1.1" fill="none" stroke-linecap="round"/>
<path d="M673.3 442.1L694.1 426.2L692.1 419.5L671.3 435.4Z" fill="#6d6d6d" stroke="#6d6d6d" stroke-width="0.7"/><path d="M673.3 442.1L671.3 435.4M694.1 426.2L692.1 419.5" stroke="#606060" stroke-width="1.1" fill="none" stroke-linecap="round"/>
<path d="M253.5 472.8L263.4 473.2L259.9 474.0L252.4 473.7Z" fill="#a8a8a8" stroke="#a8a8a8" stroke-width="0.7"/><path d="M253.5 472.8L252.4 473.7M263.4 473.2L259.9 474.0" stroke="#b0b0b0" stroke-width="1.1" fill="none" stroke-linecap="round"/>
<path d="M335.3 445.2L352.6 447.2L356.5 452.1L339.2 450.1Z" fill="#eaeaea" stroke="#eaeaea" stroke-width="0.7"/><path d="M335.3 445.2L339.2 450.1M352.6 447.2L356.5 452.1" stroke="#b0b0b0" stroke-width="1.1" fill="none" stroke-linecap="round"/>
<path d="M344.4 462.5L360.0 464.3L359.1 470.5L346.1 468.9Z" fill="#e4e4e4" stroke="#e4e4e4" stroke-width="0.7"/><path d="M344.4 462.5L346.1 468.9M360.0 464.3L359.1 470.5" stroke="#b0b0b0" stroke-width="1.1" fill="none" stroke-linecap="round"/>
<path d="M624.9 579.0L641.1 578.8L643.9 585.0L627.7 585.2Z" fill="#d9d9d9" stroke="#d9d9d9" stroke-width="0.7"/><path d="M624.9 579.0L627.7 585.2M641.1 578.8L643.9 585.0" stroke="#8c8c8c" stroke-width="1.1" fill="none" stroke-linecap="round"/>
<path d="M374.6 629.0L401.1 627.2L404.5 625.9L377.9 627.7Z" fill="#585858" stroke="#585858" stroke-width="0.7"/><path d="M374.6 629.0L377.9 627.7M401.1 627.2L404.5 625.9" stroke="#707070" stroke-width="1.1" fill="none" stroke-linecap="round"/>
<path d="M620.9 573.5L637.1 573.3L641.1 578.8L624.9 579.0Z" fill="#dbdbdb" stroke="#dbdbdb" stroke-width="0.7"/><path d="M620.9 573.5L624.9 579.0M637.1 573.3L641.1 578.8" stroke="#8c8c8c" stroke-width="1.1" fill="none" stroke-linecap="round"/>
<path d="M675.9 448.3L696.7 432.4L694.1 426.2L673.3 442.1Z" fill="#707070" stroke="#707070" stroke-width="0.7"/><path d="M675.9 448.3L673.3 442.1M696.7 432.4L694.1 426.2" stroke="#606060" stroke-width="1.1" fill="none" stroke-linecap="round"/>
<path d="M306.1 581.8L326.5 580.4L326.3 584.5L305.9 585.9Z" fill="#6e6e6e" stroke="#6e6e6e" stroke-width="0.7"/><path d="M306.1 581.8L305.9 585.9M326.5 580.4L326.3 584.5" stroke="#606060" stroke-width="1.1" fill="none" stroke-linecap="round"/>
<path d="M318.2 479.7L338.0 499.5L344.7 497.0L324.8 477.2Z" fill="#a3a3a3" stroke="#a3a3a3" stroke-width="0.7"/><path d="M318.2 479.7L324.8 477.2M338.0 499.5L344.7 497.0" stroke="#b0b0b0" stroke-width="1.1" fill="none" stroke-linecap="round"/>
<path d="M671.3 435.4L692.1 419.5L691.1 412.9L670.3 428.9Z" fill="#666666" stroke="#666666" stroke-width="0.7"/><path d="M671.3 435.4L670.3 428.9M692.1 419.5L691.1 412.9" stroke="#606060" stroke-width="1.1" fill="none" stroke-linecap="round"/>
<path d="M525.8 604.9L549.8 593.8L549.2 587.0L525.2 598.0Z" fill="#6d6d6d" stroke="#6d6d6d" stroke-width="0.7"/><path d="M525.8 604.9L525.2 598.0M549.8 593.8L549.2 587.0" stroke="#606060" stroke-width="1.1" fill="none" stroke-linecap="round"/>
<path d="M288.6 552.0L297.8 551.4L304.5 551.9L292.2 552.7Z" fill="#787878" stroke="#787878" stroke-width="0.7"/><path d="M288.6 552.0L292.2 552.7M297.8 551.4L304.5 551.9" stroke="#606060" stroke-width="1.1" fill="none" stroke-linecap="round"/>
<path d="M339.2 450.1L356.5 452.1L359.2 458.0L342.0 456.0Z" fill="#eeeeee" stroke="#eeeeee" stroke-width="0.7"/><path d="M339.2 450.1L342.0 456.0M356.5 452.1L359.2 458.0" stroke="#b0b0b0" stroke-width="1.1" fill="none" stroke-linecap="round"/>
<path d="M342.0 456.0L359.2 458.0L360.0 464.3L344.4 462.5Z" fill="#ececec" stroke="#ececec" stroke-width="0.7"/><path d="M342.0 456.0L344.4 462.5M359.2 458.0L360.0 464.3" stroke="#b0b0b0" stroke-width="1.1" fill="none" stroke-linecap="round"/>
<path d="M527.0 611.5L551.0 600.4L549.8 593.8L525.8 604.9Z" fill="#707070" stroke="#707070" stroke-width="0.7"/><path d="M527.0 611.5L525.8 604.9M551.0 600.4L549.8 593.8" stroke="#606060" stroke-width="1.1" fill="none" stroke-linecap="round"/>
<path d="M324.8 477.2L344.7 497.0L351.3 495.3L331.5 475.6Z" fill="#9c9c9c" stroke="#9c9c9c" stroke-width="0.7"/><path d="M324.8 477.2L331.5 475.6M344.7 497.0L351.3 495.3" stroke="#b0b0b0" stroke-width="1.1" fill="none" stroke-linecap="round"/>
<path d="M312.0 482.8L331.9 502.6L338.0 499.5L318.2 479.7Z" fill="#a5a5a5" stroke="#a5a5a5" stroke-width="0.7"/><path d="M312.0 482.8L318.2 479.7M331.9 502.6L338.0 499.5" stroke="#b0b0b0" stroke-width="1.1" fill="none" stroke-linecap="round"/>
<path d="M644.0 507.6L674.8 504.2L679.2 504.8L648.4 508.2Z" fill="#7a7a7a" stroke="#7a7a7a" stroke-width="0.7"/><path d="M644.0 507.6L648.4 508.2M674.8 504.2L679.2 504.8" stroke="#606060" stroke-width="1.1" fill="none" stroke-linecap="round"/>
<path d="M525.2 598.0L549.2 587.0L549.4 580.4L525.4 591.5Z" fill="#656565" stroke="#656565" stroke-width="0.7"/><path d="M525.2 598.0L525.4 591.5M549.2 587.0L549.4 580.4" stroke="#606060" stroke-width="1.1" fill="none" stroke-linecap="round"/>
<path d="M326.0 635.3L352.5 633.6L355.6 630.2L329.1 632.0Z" fill="#5e5e5e" stroke="#5e5e5e" stroke-width="0.7"/><path d="M326.0 635.3L329.1 632.0M352.5 633.6L355.6 630.2" stroke="#707070" stroke-width="1.1" fill="none" stroke-linecap="round"/>
<path d="M622.4 554.3L653.2 550.8L654.0 549.7L623.3 553.1Z" fill="#5c5c5c" stroke="#5c5c5c" stroke-width="0.7"/><path d="M622.4 554.3L623.3 553.1M653.2 550.8L654.0 549.7" stroke="#606060" stroke-width="1.1" fill="none" stroke-linecap="round"/>
<path d="M303.5 477.8L320.8 479.9L318.8 478.7L301.6 476.6Z" fill="#8e8e8e" stroke="#8e8e8e" stroke-width="0.7"/><path d="M303.5 477.8L301.6 476.6M320.8 479.9L318.8 478.7" stroke="#b0b0b0" stroke-width="1.1" fill="none" stroke-linecap="round"/>
<path d="M341.0 532.0L349.9 540.9L349.3 538.9L343.4 533.0Z" fill="#868686" stroke="#868686" stroke-width="0.7"/><path d="M341.0 532.0L343.4 533.0M349.9 540.9L349.3 538.9" stroke="#b0b0b0" stroke-width="1.1" fill="none" stroke-linecap="round"/>
<path d="M672.7 544.5L703.5 541.0L703.4 544.2L675.7 547.3Z" fill="#656565" stroke="#656565" stroke-width="0.7"/><path d="M672.7 544.5L675.7 547.3M703.5 541.0L703.4 544.2" stroke="#606060" stroke-width="1.1" fill="none" stroke-linecap="round"/>
<path d="M586.0 606.1L602.2 605.9L599.9 603.7L583.8 603.9Z" fill="#7a7a7a" stroke="#7a7a7a" stroke-width="0.7"/><path d="M586.0 606.1L583.8 603.9M602.2 605.9L599.9 603.7" stroke="#8c8c8c" stroke-width="1.1" fill="none" stroke-linecap="round"/>
<path d="M571.2 555.7L602.0 552.3L602.9 547.3L572.1 550.7Z" fill="#6d6d6d" stroke="#6d6d6d" stroke-width="0.7"/><path d="M571.2 555.7L572.1 550.7M602.0 552.3L602.9 547.3" stroke="#606060" stroke-width="1.1" fill="none" stroke-linecap="round"/>
<path d="M678.6 453.5L699.4 437.6L696.7 432.4L675.9 448.3Z" fill="#707070" stroke="#707070" stroke-width="0.7"/><path d="M678.6 453.5L675.9 448.3M699.4 437.6L696.7 432.4" stroke="#606060" stroke-width="1.1" fill="none" stroke-linecap="round"/>
<path d="M670.3 428.9L691.1 412.9L691.2 407.0L670.4 422.9Z" fill="#5c5c5c" stroke="#5c5c5c" stroke-width="0.7"/><path d="M670.3 428.9L670.4 422.9M691.1 412.9L691.2 407.0" stroke="#606060" stroke-width="1.1" fill="none" stroke-linecap="round"/>
<path d="M358.0 673.1L384.6 671.3L385.7 670.2L359.1 671.9Z" fill="#6b6b6b" stroke="#6b6b6b" stroke-width="0.7"/><path d="M358.0 673.1L359.1 671.9M384.6 671.3L385.7 670.2" stroke="#707070" stroke-width="1.1" fill="none" stroke-linecap="round"/>
<path d="M300.7 558.8L319.5 573.5L320.1 570.2L304.5 557.9Z" fill="#6e6e6e" stroke="#6e6e6e" stroke-width="0.7"/><path d="M300.7 558.8L304.5 557.9M319.5 573.5L320.1 570.2" stroke="#707070" stroke-width="1.1" fill="none" stroke-linecap="round"/>
<path d="M719.5 433.2L735.1 421.3L732.7 421.8L720.2 431.3Z" fill="#5d5d5d" stroke="#5d5d5d" stroke-width="0.7"/><path d="M719.5 433.2L720.2 431.3M735.1 421.3L732.7 421.8" stroke="#606060" stroke-width="1.1" fill="none" stroke-linecap="round"/>
<path d="M528.5 617.2L552.6 606.1L551.0 600.4L527.0 611.5Z" fill="#707070" stroke="#707070" stroke-width="0.7"/><path d="M528.5 617.2L527.0 611.5M552.6 606.1L551.0 600.4" stroke="#606060" stroke-width="1.1" fill="none" stroke-linecap="round"/>
<path d="M331.5 475.6L351.3 495.3L357.6 495.0L337.7 475.2Z" fill="#929292" stroke="#929292" stroke-width="0.7"/><path d="M331.5 475.6L337.7 475.2M351.3 495.3L357.6 495.0" stroke="#b0b0b0" stroke-width="1.1" fill="none" stroke-linecap="round"/>
<path d="M583.1 518.6L613.9 515.2L617.8 511.6L587.0 515.0Z" fill="#4f4f4f" stroke="#4f4f4f" stroke-width="0.7"/><path d="M583.1 518.6L587.0 515.0M613.9 515.2L617.8 511.6" stroke="#606060" stroke-width="1.1" fill="none" stroke-linecap="round"/>
<path d="M211.3 445.8L227.9 446.5L231.8 441.1L215.2 440.4Z" fill="#909090" stroke="#909090" stroke-width="0.7"/><path d="M211.3 445.8L215.2 440.4M227.9 446.5L231.8 441.1" stroke="#b0b0b0" stroke-width="1.1" fill="none" stroke-linecap="round"/>
<path d="M208.6 451.9L225.2 452.6L227.9 446.5L211.3 445.8Z" fill="#999999" stroke="#999999" stroke-width="0.7"/><path d="M208.6 451.9L211.3 445.8M225.2 452.6L227.9 446.5" stroke="#b0b0b0" stroke-width="1.1" fill="none" stroke-linecap="round"/>
<path d="M306.9 485.9L326.8 505.7L331.9 502.6L312.0 482.8Z" fill="#a3a3a3" stroke="#a3a3a3" stroke-width="0.7"/><path d="M306.9 485.9L312.0 482.8M326.8 505.7L331.9 502.6" stroke="#b0b0b0" stroke-width="1.1" fill="none" stroke-linecap="round"/>
<path d="M292.2 552.7L304.5 551.9L311.0 554.3L295.5 555.4Z" fill="#858585" stroke="#858585" stroke-width="0.7"/><path d="M292.2 552.7L295.5 555.4M304.5 551.9L311.0 554.3" stroke="#606060" stroke-width="1.1" fill="none" stroke-linecap="round"/>
<path d="M287.0 642.8L295.0 642.2L299.7 637.0L287.8 637.8Z" fill="#6b6b6b" stroke="#6b6b6b" stroke-width="0.7"/><path d="M287.0 642.8L287.8 637.8M295.0 642.2L299.7 637.0" stroke="#707070" stroke-width="1.1" fill="none" stroke-linecap="round"/>
<path d="M313.6 674.9L340.2 673.2L341.2 670.0L314.7 671.7Z" fill="#767676" stroke="#767676" stroke-width="0.7"/><path d="M313.6 674.9L314.7 671.7M340.2 673.2L341.2 670.0" stroke="#707070" stroke-width="1.1" fill="none" stroke-linecap="round"/>
<path d="M525.4 591.5L549.4 580.4L550.7 574.7L526.6 585.8Z" fill="#5b5b5b" stroke="#5b5b5b" stroke-width="0.7"/><path d="M525.4 591.5L526.6 585.8M549.4 580.4L550.7 574.7" stroke="#606060" stroke-width="1.1" fill="none" stroke-linecap="round"/>
<path d="M305.4 576.5L325.8 575.2L326.5 580.4L306.1 581.8Z" fill="#7d7d7d" stroke="#7d7d7d" stroke-width="0.7"/><path d="M305.4 576.5L306.1 581.8M325.8 575.2L326.5 580.4" stroke="#606060" stroke-width="1.1" fill="none" stroke-linecap="round"/>
<path d="M412.1 614.4L436.2 629.5L442.0 625.5L417.9 610.4Z" fill="#a4a4a4" stroke="#a4a4a4" stroke-width="0.7"/><path d="M412.1 614.4L417.9 610.4M436.2 629.5L442.0 625.5" stroke="#b0b0b0" stroke-width="1.1" fill="none" stroke-linecap="round"/>
<path d="M215.2 440.4L231.8 441.1L236.7 436.8L220.1 436.1Z" fill="#858585" stroke="#858585" stroke-width="0.7"/><path d="M215.2 440.4L220.1 436.1M231.8 441.1L236.7 436.8" stroke="#b0b0b0" stroke-width="1.1" fill="none" stroke-linecap="round"/>
<path d="M254.2 470.0L266.6 470.5L263.4 473.2L253.5 472.8Z" fill="#aaaaaa" stroke="#aaaaaa" stroke-width="0.7"/><path d="M254.2 470.0L253.5 472.8M266.6 470.5L263.4 473.2" stroke="#b0b0b0" stroke-width="1.1" fill="none" stroke-linecap="round"/>
<path d="M647.1 501.8L669.3 501.8L667.4 502.8L645.2 502.8Z" fill="#5c5c5c" stroke="#5c5c5c" stroke-width="0.7"/><path d="M647.1 501.8L645.2 502.8M669.3 501.8L667.4 502.8" stroke="#606060" stroke-width="1.1" fill="none" stroke-linecap="round"/>
<path d="M207.2 458.0L223.8 458.7L225.2 452.6L208.6 451.9Z" fill="#9e9e9e" stroke="#9e9e9e" stroke-width="0.7"/><path d="M207.2 458.0L208.6 451.9M223.8 458.7L225.2 452.6" stroke="#b0b0b0" stroke-width="1.1" fill="none" stroke-linecap="round"/>
<path d="M406.9 618.8L430.9 633.9L436.2 629.5L412.1 614.4Z" fill="#a7a7a7" stroke="#a7a7a7" stroke-width="0.7"/><path d="M406.9 618.8L412.1 614.4M430.9 633.9L436.2 629.5" stroke="#b0b0b0" stroke-width="1.1" fill="none" stroke-linecap="round"/>
<path d="M278.7 516.1L299.5 532.4L305.6 529.0L284.8 512.7Z" fill="#7a7a7a" stroke="#7a7a7a" stroke-width="0.7"/><path d="M278.7 516.1L284.8 512.7M299.5 532.4L305.6 529.0" stroke="#707070" stroke-width="1.1" fill="none" stroke-linecap="round"/>
<path d="M417.9 610.4L442.0 625.5L448.0 622.4L423.9 607.3Z" fill="#9c9c9c" stroke="#9c9c9c" stroke-width="0.7"/><path d="M417.9 610.4L423.9 607.3M442.0 625.5L448.0 622.4" stroke="#b0b0b0" stroke-width="1.1" fill="none" stroke-linecap="round"/>
<path d="M377.9 627.7L404.5 625.9L407.9 626.8L381.4 628.5Z" fill="#8d8d8d" stroke="#8d8d8d" stroke-width="0.7"/><path d="M377.9 627.7L381.4 628.5M404.5 625.9L407.9 626.8" stroke="#707070" stroke-width="1.1" fill="none" stroke-linecap="round"/>
<path d="M273.1 520.0L293.9 536.3L299.5 532.4L278.7 516.1Z" fill="#7c7c7c" stroke="#7c7c7c" stroke-width="0.7"/><path d="M273.1 520.0L278.7 516.1M293.9 536.3L299.5 532.4" stroke="#707070" stroke-width="1.1" fill="none" stroke-linecap="round"/>
<path d="M295.5 555.4L311.0 554.3L316.9 558.3L298.3 559.5Z" fill="#8e8e8e" stroke="#8e8e8e" stroke-width="0.7"/><path d="M295.5 555.4L298.3 559.5M311.0 554.3L316.9 558.3" stroke="#606060" stroke-width="1.1" fill="none" stroke-linecap="round"/>
<path d="M681.1 457.5L701.9 441.6L699.4 437.6L678.6 453.5Z" fill="#6e6e6e" stroke="#6e6e6e" stroke-width="0.7"/><path d="M681.1 457.5L678.6 453.5M701.9 441.6L699.4 437.6" stroke="#606060" stroke-width="1.1" fill="none" stroke-linecap="round"/>
<path d="M648.4 508.2L679.2 504.8L683.7 507.4L653.0 510.8Z" fill="#898989" stroke="#898989" stroke-width="0.7"/><path d="M648.4 508.2L653.0 510.8M679.2 504.8L683.7 507.4" stroke="#606060" stroke-width="1.1" fill="none" stroke-linecap="round"/>
<path d="M284.8 512.7L305.6 529.0L311.9 526.4L291.0 510.1Z" fill="#747474" stroke="#747474" stroke-width="0.7"/><path d="M284.8 512.7L291.0 510.1M305.6 529.0L311.9 526.4" stroke="#707070" stroke-width="1.1" fill="none" stroke-linecap="round"/>
<path d="M670.4 422.9L691.2 407.0L692.7 402.1L671.9 418.0Z" fill="#505050" stroke="#505050" stroke-width="0.7"/><path d="M670.4 422.9L671.9 418.0M691.2 407.0L692.7 402.1" stroke="#606060" stroke-width="1.1" fill="none" stroke-linecap="round"/>
<path d="M220.1 436.1L236.7 436.8L242.2 434.2L225.6 433.5Z" fill="#797979" stroke="#797979" stroke-width="0.7"/><path d="M220.1 436.1L225.6 433.5M236.7 436.8L242.2 434.2" stroke="#b0b0b0" stroke-width="1.1" fill="none" stroke-linecap="round"/>
<path d="M303.8 570.7L324.1 569.3L325.8 575.2L305.4 576.5Z" fill="#898989" stroke="#898989" stroke-width="0.7"/><path d="M303.8 570.7L305.4 576.5M324.1 569.3L325.8 575.2" stroke="#606060" stroke-width="1.1" fill="none" stroke-linecap="round"/>
<path d="M329.1 632.0L355.6 630.2L359.0 628.9L332.4 630.7Z" fill="#585858" stroke="#585858" stroke-width="0.7"/><path d="M329.1 632.0L332.4 630.7M355.6 630.2L359.0 628.9" stroke="#707070" stroke-width="1.1" fill="none" stroke-linecap="round"/>
<path d="M337.7 475.2L357.6 495.0L362.9 496.1L343.1 476.3Z" fill="#868686" stroke="#868686" stroke-width="0.7"/><path d="M337.7 475.2L343.1 476.3M357.6 495.0L362.9 496.1" stroke="#b0b0b0" stroke-width="1.1" fill="none" stroke-linecap="round"/>
<path d="M530.0 621.6L554.1 610.6L552.6 606.1L528.5 617.2Z" fill="#6e6e6e" stroke="#6e6e6e" stroke-width="0.7"/><path d="M530.0 621.6L528.5 617.2M554.1 610.6L552.6 606.1" stroke="#606060" stroke-width="1.1" fill="none" stroke-linecap="round"/>
<path d="M305.7 477.1L323.0 479.1L320.8 479.9L303.5 477.8Z" fill="#a8a8a8" stroke="#a8a8a8" stroke-width="0.7"/><path d="M305.7 477.1L303.5 477.8M323.0 479.1L320.8 479.9" stroke="#b0b0b0" stroke-width="1.1" fill="none" stroke-linecap="round"/>
<path d="M670.8 539.8L701.5 536.4L703.5 541.0L672.7 544.5Z" fill="#777777" stroke="#777777" stroke-width="0.7"/><path d="M670.8 539.8L672.7 544.5M701.5 536.4L703.5 541.0" stroke="#606060" stroke-width="1.1" fill="none" stroke-linecap="round"/>
<path d="M532.9 542.0L542.1 541.0L546.6 533.7L532.7 535.2Z" fill="#6d6d6d" stroke="#6d6d6d" stroke-width="0.7"/><path d="M532.9 542.0L532.7 535.2M542.1 541.0L546.6 533.7" stroke="#606060" stroke-width="1.1" fill="none" stroke-linecap="round"/>
<path d="M303.0 488.6L322.9 508.4L326.8 505.7L306.9 485.9Z" fill="#9c9c9c" stroke="#9c9c9c" stroke-width="0.7"/><path d="M303.0 488.6L306.9 485.9M322.9 508.4L326.8 505.7" stroke="#b0b0b0" stroke-width="1.1" fill="none" stroke-linecap="round"/>
<path d="M207.0 463.6L223.6 464.3L223.8 458.7L207.2 458.0Z" fill="#9f9f9f" stroke="#9f9f9f" stroke-width="0.7"/><path d="M207.0 463.6L207.2 458.0M223.6 464.3L223.8 458.7" stroke="#b0b0b0" stroke-width="1.1" fill="none" stroke-linecap="round"/>
<path d="M570.5 558.9L601.2 555.5L602.0 552.3L571.2 555.7Z" fill="#666666" stroke="#666666" stroke-width="0.7"/><path d="M570.5 558.9L571.2 555.7M601.2 555.5L602.0 552.3" stroke="#606060" stroke-width="1.1" fill="none" stroke-linecap="round"/>
<path d="M402.5 622.9L426.5 638.1L430.9 633.9L406.9 618.8Z" fill="#a6a6a6" stroke="#a6a6a6" stroke-width="0.7"/><path d="M402.5 622.9L406.9 618.8M426.5 638.1L430.9 633.9" stroke="#b0b0b0" stroke-width="1.1" fill="none" stroke-linecap="round"/>
<path d="M298.3 559.5L316.9 558.3L321.4 563.5L301.1 564.9Z" fill="#929292" stroke="#929292" stroke-width="0.7"/><path d="M298.3 559.5L301.1 564.9M316.9 558.3L321.4 563.5" stroke="#606060" stroke-width="1.1" fill="none" stroke-linecap="round"/>
<path d="M526.6 585.8L550.7 574.7L551.7 570.9L530.1 580.9Z" fill="#4f4f4f" stroke="#4f4f4f" stroke-width="0.7"/><path d="M526.6 585.8L530.1 580.9M550.7 574.7L551.7 570.9" stroke="#606060" stroke-width="1.1" fill="none" stroke-linecap="round"/>
<path d="M588.5 606.3L604.6 606.1L602.2 605.9L586.0 606.1Z" fill="#727272" stroke="#727272" stroke-width="0.7"/><path d="M588.5 606.3L586.0 606.1M604.6 606.1L602.2 605.9" stroke="#8c8c8c" stroke-width="1.1" fill="none" stroke-linecap="round"/>
<path d="M444.4 659.5L455.2 666.3L454.2 664.5L447.0 659.9Z" fill="#8a8a8a" stroke="#8a8a8a" stroke-width="0.7"/><path d="M444.4 659.5L447.0 659.9M455.2 666.3L454.2 664.5" stroke="#b0b0b0" stroke-width="1.1" fill="none" stroke-linecap="round"/>
<path d="M301.1 564.9L321.4 563.5L324.1 569.3L303.8 570.7Z" fill="#909090" stroke="#909090" stroke-width="0.7"/><path d="M301.1 564.9L303.8 570.7M321.4 563.5L324.1 569.3" stroke="#606060" stroke-width="1.1" fill="none" stroke-linecap="round"/>
<path d="M423.9 607.3L448.0 622.4L453.8 620.5L429.7 605.4Z" fill="#919191" stroke="#919191" stroke-width="0.7"/><path d="M423.9 607.3L429.7 605.4M448.0 622.4L453.8 620.5" stroke="#b0b0b0" stroke-width="1.1" fill="none" stroke-linecap="round"/>
<path d="M340.0 529.7L352.0 541.5L349.9 540.9L341.0 532.0Z" fill="#a8a8a8" stroke="#a8a8a8" stroke-width="0.7"/><path d="M340.0 529.7L341.0 532.0M352.0 541.5L349.9 540.9" stroke="#b0b0b0" stroke-width="1.1" fill="none" stroke-linecap="round"/>
<path d="M621.4 553.3L652.2 549.9L653.2 550.8L622.4 554.3Z" fill="#5c5c5c" stroke="#5c5c5c" stroke-width="0.7"/><path d="M621.4 553.3L622.4 554.3M652.2 549.9L653.2 550.8" stroke="#606060" stroke-width="1.1" fill="none" stroke-linecap="round"/>
<path d="M287.8 637.8L299.7 637.0L304.8 633.6L288.9 634.6Z" fill="#5e5e5e" stroke="#5e5e5e" stroke-width="0.7"/><path d="M287.8 637.8L288.9 634.6M299.7 637.0L304.8 633.6" stroke="#707070" stroke-width="1.1" fill="none" stroke-linecap="round"/>
<path d="M587.0 515.0L617.8 511.6L622.0 510.0L591.2 513.5Z" fill="#4a4a4a" stroke="#4a4a4a" stroke-width="0.7"/><path d="M587.0 515.0L591.2 513.5M617.8 511.6L622.0 510.0" stroke="#606060" stroke-width="1.1" fill="none" stroke-linecap="round"/>
<path d="M408.2 665.6L420.1 664.8L419.6 667.9L411.6 668.5Z" fill="#747474" stroke="#747474" stroke-width="0.7"/><path d="M408.2 665.6L411.6 668.5M420.1 664.8L419.6 667.9" stroke="#707070" stroke-width="1.1" fill="none" stroke-linecap="round"/>
<path d="M268.4 523.7L289.2 540.1L293.9 536.3L273.1 520.0Z" fill="#7a7a7a" stroke="#7a7a7a" stroke-width="0.7"/><path d="M268.4 523.7L273.1 520.0M289.2 540.1L293.9 536.3" stroke="#707070" stroke-width="1.1" fill="none" stroke-linecap="round"/>
<path d="M603.2 475.3L625.4 475.3L629.3 469.5L607.1 469.5Z" fill="#5d5d5d" stroke="#5d5d5d" stroke-width="0.7"/><path d="M603.2 475.3L607.1 469.5M625.4 475.3L629.3 469.5" stroke="#606060" stroke-width="1.1" fill="none" stroke-linecap="round"/>
<path d="M600.4 481.8L622.6 481.8L625.4 475.3L603.2 475.3Z" fill="#646464" stroke="#646464" stroke-width="0.7"/><path d="M600.4 481.8L603.2 475.3M622.6 481.8L625.4 475.3" stroke="#606060" stroke-width="1.1" fill="none" stroke-linecap="round"/>
<path d="M532.7 535.2L546.6 533.7L551.6 527.0L533.2 529.0Z" fill="#656565" stroke="#656565" stroke-width="0.7"/><path d="M532.7 535.2L533.2 529.0M546.6 533.7L551.6 527.0" stroke="#606060" stroke-width="1.1" fill="none" stroke-linecap="round"/>
<path d="M291.0 510.1L311.9 526.4L317.8 525.2L296.9 508.8Z" fill="#6c6c6c" stroke="#6c6c6c" stroke-width="0.7"/><path d="M291.0 510.1L296.9 508.8M311.9 526.4L317.8 525.2" stroke="#707070" stroke-width="1.1" fill="none" stroke-linecap="round"/>
<path d="M298.9 558.6L319.7 574.9L319.5 573.5L300.7 558.8Z" fill="#646464" stroke="#646464" stroke-width="0.7"/><path d="M298.9 558.6L300.7 558.8M319.7 574.9L319.5 573.5" stroke="#707070" stroke-width="1.1" fill="none" stroke-linecap="round"/>
<path d="M225.6 433.5L242.2 434.2L248.1 433.5L231.5 432.8Z" fill="#787878" stroke="#787878" stroke-width="0.7"/><path d="M225.6 433.5L231.5 432.8M242.2 434.2L248.1 433.5" stroke="#b0b0b0" stroke-width="1.1" fill="none" stroke-linecap="round"/>
<path d="M717.4 433.5L736.2 419.1L735.1 421.3L719.5 433.2Z" fill="#5c5c5c" stroke="#5c5c5c" stroke-width="0.7"/><path d="M717.4 433.5L719.5 433.2M736.2 419.1L735.1 421.3" stroke="#606060" stroke-width="1.1" fill="none" stroke-linecap="round"/>
<path d="M356.8 672.1L383.4 670.3L384.6 671.3L358.0 673.1Z" fill="#686868" stroke="#686868" stroke-width="0.7"/><path d="M356.8 672.1L358.0 673.1M383.4 670.3L384.6 671.3" stroke="#707070" stroke-width="1.1" fill="none" stroke-linecap="round"/>
<path d="M254.2 465.5L269.2 466.1L266.6 470.5L254.2 470.0Z" fill="#bfbfbf" stroke="#bfbfbf" stroke-width="0.7"/><path d="M254.2 465.5L254.2 470.0M269.2 466.1L266.6 470.5" stroke="#b0b0b0" stroke-width="1.1" fill="none" stroke-linecap="round"/>
<path d="M607.1 469.5L629.3 469.5L634.3 464.8L612.1 464.8Z" fill="#555555" stroke="#555555" stroke-width="0.7"/><path d="M607.1 469.5L612.1 464.8M629.3 469.5L634.3 464.8" stroke="#606060" stroke-width="1.1" fill="none" stroke-linecap="round"/>
<path d="M312.5 676.1L339.1 674.3L340.2 673.2L313.6 674.9Z" fill="#6b6b6b" stroke="#6b6b6b" stroke-width="0.7"/><path d="M312.5 676.1L313.6 674.9M339.1 674.3L340.2 673.2" stroke="#707070" stroke-width="1.1" fill="none" stroke-linecap="round"/>
<path d="M598.9 488.3L621.1 488.3L622.6 481.8L600.4 481.8Z" fill="#686868" stroke="#686868" stroke-width="0.7"/><path d="M598.9 488.3L600.4 481.8M621.1 488.3L622.6 481.8" stroke="#606060" stroke-width="1.1" fill="none" stroke-linecap="round"/>
<path d="M653.0 510.8L683.7 507.4L688.1 511.8L657.3 515.2Z" fill="#949494" stroke="#949494" stroke-width="0.7"/><path d="M653.0 510.8L657.3 515.2M683.7 507.4L688.1 511.8" stroke="#606060" stroke-width="1.1" fill="none" stroke-linecap="round"/>
<path d="M648.5 498.8L670.7 498.8L669.3 501.8L647.1 501.8Z" fill="#5f5f5f" stroke="#5f5f5f" stroke-width="0.7"/><path d="M648.5 498.8L647.1 501.8M670.7 498.8L669.3 501.8" stroke="#606060" stroke-width="1.1" fill="none" stroke-linecap="round"/>
<path d="M381.4 628.5L407.9 626.8L411.4 629.7L384.9 631.4Z" fill="#a1a1a1" stroke="#a1a1a1" stroke-width="0.7"/><path d="M381.4 628.5L384.9 631.4M407.9 626.8L411.4 629.7" stroke="#707070" stroke-width="1.1" fill="none" stroke-linecap="round"/>
<path d="M671.9 418.0L692.7 402.1L695.5 398.6L674.7 414.5Z" fill="#4a4a4a" stroke="#4a4a4a" stroke-width="0.7"/><path d="M671.9 418.0L674.7 414.5M692.7 402.1L695.5 398.6" stroke="#606060" stroke-width="1.1" fill="none" stroke-linecap="round"/>
<path d="M343.1 476.3L362.9 496.1L367.1 498.8L347.2 479.0Z" fill="#787878" stroke="#787878" stroke-width="0.7"/><path d="M343.1 476.3L347.2 479.0M362.9 496.1L367.1 498.8" stroke="#b0b0b0" stroke-width="1.1" fill="none" stroke-linecap="round"/>
<path d="M682.9 459.9L703.7 444.0L701.9 441.6L681.1 457.5Z" fill="#676767" stroke="#676767" stroke-width="0.7"/><path d="M682.9 459.9L681.1 457.5M703.7 444.0L701.9 441.6" stroke="#606060" stroke-width="1.1" fill="none" stroke-linecap="round"/>
<path d="M668.2 533.9L699.0 530.5L701.5 536.4L670.8 539.8Z" fill="#878787" stroke="#878787" stroke-width="0.7"/><path d="M668.2 533.9L670.8 539.8M699.0 530.5L701.5 536.4" stroke="#606060" stroke-width="1.1" fill="none" stroke-linecap="round"/>
<path d="M207.9 468.0L224.5 468.7L223.6 464.3L207.0 463.6Z" fill="#9d9d9d" stroke="#9d9d9d" stroke-width="0.7"/><path d="M207.9 468.0L207.0 463.6M224.5 468.7L223.6 464.3" stroke="#b0b0b0" stroke-width="1.1" fill="none" stroke-linecap="round"/>
<path d="M533.2 529.0L551.6 527.0L557.3 521.4L534.2 524.0Z" fill="#5b5b5b" stroke="#5b5b5b" stroke-width="0.7"/><path d="M533.2 529.0L534.2 524.0M551.6 527.0L557.3 521.4" stroke="#606060" stroke-width="1.1" fill="none" stroke-linecap="round"/>
<path d="M429.7 605.4L453.8 620.5L459.0 620.3L435.0 605.2Z" fill="#838383" stroke="#838383" stroke-width="0.7"/><path d="M429.7 605.4L435.0 605.2M453.8 620.5L459.0 620.3" stroke="#b0b0b0" stroke-width="1.1" fill="none" stroke-linecap="round"/>
<path d="M399.2 626.4L423.3 641.5L426.5 638.1L402.5 622.9Z" fill="#a0a0a0" stroke="#a0a0a0" stroke-width="0.7"/><path d="M399.2 626.4L402.5 622.9M423.3 641.5L426.5 638.1" stroke="#b0b0b0" stroke-width="1.1" fill="none" stroke-linecap="round"/>
<path d="M231.5 432.8L248.1 433.5L253.9 434.7L237.3 434.0Z" fill="#cfcfcf" stroke="#cfcfcf" stroke-width="0.7"/><path d="M231.5 432.8L237.3 434.0M248.1 433.5L253.9 434.7" stroke="#b0b0b0" stroke-width="1.1" fill="none" stroke-linecap="round"/>
<path d="M612.1 464.8L634.3 464.8L640.0 461.8L617.8 461.8Z" fill="#4c4c4c" stroke="#4c4c4c" stroke-width="0.7"/><path d="M612.1 464.8L617.8 461.8M634.3 464.8L640.0 461.8" stroke="#606060" stroke-width="1.1" fill="none" stroke-linecap="round"/>
<path d="M531.2 624.4L555.3 613.3L554.1 610.6L530.0 621.6Z" fill="#676767" stroke="#676767" stroke-width="0.7"/><path d="M531.2 624.4L530.0 621.6M555.3 613.3L554.1 610.6" stroke="#606060" stroke-width="1.1" fill="none" stroke-linecap="round"/>
<path d="M332.4 630.7L359.0 628.9L362.4 629.8L335.9 631.5Z" fill="#8d8d8d" stroke="#8d8d8d" stroke-width="0.7"/><path d="M332.4 630.7L335.9 631.5M359.0 628.9L362.4 629.8" stroke="#707070" stroke-width="1.1" fill="none" stroke-linecap="round"/>
<path d="M530.1 580.9L551.7 570.9L553.2 569.1L535.2 577.4Z" fill="#4a4a4a" stroke="#4a4a4a" stroke-width="0.7"/><path d="M530.1 580.9L535.2 577.4M551.7 570.9L553.2 569.1" stroke="#606060" stroke-width="1.1" fill="none" stroke-linecap="round"/>
<path d="M489.8 621.5L513.8 610.4L513.2 603.6L489.2 614.6Z" fill="#6d6d6d" stroke="#6d6d6d" stroke-width="0.7"/><path d="M489.8 621.5L489.2 614.6M513.8 610.4L513.2 603.6" stroke="#606060" stroke-width="1.1" fill="none" stroke-linecap="round"/>
<path d="M264.9 526.9L285.7 543.2L289.2 540.1L268.4 523.7Z" fill="#767676" stroke="#767676" stroke-width="0.7"/><path d="M264.9 526.9L268.4 523.7M285.7 543.2L289.2 540.1" stroke="#707070" stroke-width="1.1" fill="none" stroke-linecap="round"/>
<path d="M307.8 474.5L325.0 476.5L323.0 479.1L305.7 477.1Z" fill="#acacac" stroke="#acacac" stroke-width="0.7"/><path d="M307.8 474.5L305.7 477.1M325.0 476.5L323.0 479.1" stroke="#b0b0b0" stroke-width="1.1" fill="none" stroke-linecap="round"/>
<path d="M296.9 508.8L317.8 525.2L323.0 525.4L302.1 509.1Z" fill="#626262" stroke="#626262" stroke-width="0.7"/><path d="M296.9 508.8L302.1 509.1M317.8 525.2L323.0 525.4" stroke="#707070" stroke-width="1.1" fill="none" stroke-linecap="round"/>
<path d="M300.6 490.4L320.4 510.2L322.9 508.4L303.0 488.6Z" fill="#939393" stroke="#939393" stroke-width="0.7"/><path d="M300.6 490.4L303.0 488.6M320.4 510.2L322.9 508.4" stroke="#b0b0b0" stroke-width="1.1" fill="none" stroke-linecap="round"/>
<path d="M598.6 494.1L620.8 494.1L621.1 488.3L598.9 488.3Z" fill="#696969" stroke="#696969" stroke-width="0.7"/><path d="M598.6 494.1L598.9 488.3M620.8 494.1L621.1 488.3" stroke="#606060" stroke-width="1.1" fill="none" stroke-linecap="round"/>
<path d="M491.0 628.1L515.0 617.0L513.8 610.4L489.8 621.5Z" fill="#707070" stroke="#707070" stroke-width="0.7"/><path d="M491.0 628.1L489.8 621.5M515.0 617.0L513.8 610.4" stroke="#606060" stroke-width="1.1" fill="none" stroke-linecap="round"/>
<path d="M657.3 515.2L688.1 511.8L692.2 517.6L661.4 521.0Z" fill="#969696" stroke="#969696" stroke-width="0.7"/><path d="M657.3 515.2L661.4 521.0M688.1 511.8L692.2 517.6" stroke="#606060" stroke-width="1.1" fill="none" stroke-linecap="round"/>
<path d="M253.7 459.9L270.3 460.6L269.2 466.1L254.2 465.5Z" fill="#d2d2d2" stroke="#d2d2d2" stroke-width="0.7"/><path d="M253.7 459.9L254.2 465.5M270.3 460.6L269.2 466.1" stroke="#b0b0b0" stroke-width="1.1" fill="none" stroke-linecap="round"/>
<path d="M647.4 461.9L653.6 457.1L653.2 449.3L643.8 456.4Z" fill="#6d6d6d" stroke="#6d6d6d" stroke-width="0.7"/><path d="M647.4 461.9L643.8 456.4M653.6 457.1L653.2 449.3" stroke="#606060" stroke-width="1.1" fill="none" stroke-linecap="round"/>
<path d="M590.7 604.5L606.9 604.3L604.6 606.1L588.5 606.3Z" fill="#969696" stroke="#969696" stroke-width="0.7"/><path d="M590.7 604.5L588.5 606.3M606.9 604.3L604.6 606.1" stroke="#8c8c8c" stroke-width="1.1" fill="none" stroke-linecap="round"/>
<path d="M489.2 614.6L513.2 603.6L513.4 597.0L489.4 608.1Z" fill="#656565" stroke="#656565" stroke-width="0.7"/><path d="M489.2 614.6L489.4 608.1M513.2 603.6L513.4 597.0" stroke="#606060" stroke-width="1.1" fill="none" stroke-linecap="round"/>
<path d="M288.9 634.6L304.8 633.6L310.1 632.1L290.2 633.5Z" fill="#585858" stroke="#585858" stroke-width="0.7"/><path d="M288.9 634.6L290.2 633.5M304.8 633.6L310.1 632.1" stroke="#707070" stroke-width="1.1" fill="none" stroke-linecap="round"/>
<path d="M591.2 513.5L622.0 510.0L626.4 510.6L595.6 514.0Z" fill="#7a7a7a" stroke="#7a7a7a" stroke-width="0.7"/><path d="M591.2 513.5L595.6 514.0M622.0 510.0L626.4 510.6" stroke="#606060" stroke-width="1.1" fill="none" stroke-linecap="round"/>
<path d="M404.4 660.9L420.3 659.9L420.1 664.8L408.2 665.6Z" fill="#8b8b8b" stroke="#8b8b8b" stroke-width="0.7"/><path d="M404.4 660.9L408.2 665.6M420.3 659.9L420.1 664.8" stroke="#707070" stroke-width="1.1" fill="none" stroke-linecap="round"/>
<path d="M665.1 527.4L695.9 524.0L699.0 530.5L668.2 533.9Z" fill="#939393" stroke="#939393" stroke-width="0.7"/><path d="M665.1 527.4L668.2 533.9M695.9 524.0L699.0 530.5" stroke="#606060" stroke-width="1.1" fill="none" stroke-linecap="round"/>
<path d="M569.6 560.1L600.4 556.7L601.2 555.5L570.5 558.9Z" fill="#5c5c5c" stroke="#5c5c5c" stroke-width="0.7"/><path d="M569.6 560.1L570.5 558.9M600.4 556.7L601.2 555.5" stroke="#606060" stroke-width="1.1" fill="none" stroke-linecap="round"/>
<path d="M340.3 525.8L355.3 540.6L352.0 541.5L340.0 529.7Z" fill="#c0c0c0" stroke="#c0c0c0" stroke-width="0.7"/><path d="M340.3 525.8L340.0 529.7M355.3 540.6L352.0 541.5" stroke="#b0b0b0" stroke-width="1.1" fill="none" stroke-linecap="round"/>
<path d="M442.8 657.3L457.2 666.4L455.2 666.3L444.4 659.5Z" fill="#a8a8a8" stroke="#a8a8a8" stroke-width="0.7"/><path d="M442.8 657.3L444.4 659.5M457.2 666.4L455.2 666.3" stroke="#b0b0b0" stroke-width="1.1" fill="none" stroke-linecap="round"/>
<path d="M619.9 550.3L650.7 546.9L652.2 549.9L621.4 553.3Z" fill="#656565" stroke="#656565" stroke-width="0.7"/><path d="M619.9 550.3L621.4 553.3M650.7 546.9L652.2 549.9" stroke="#606060" stroke-width="1.1" fill="none" stroke-linecap="round"/>
<path d="M643.8 456.4L653.2 449.3L653.7 441.5L641.2 451.1Z" fill="#666666" stroke="#666666" stroke-width="0.7"/><path d="M643.8 456.4L641.2 451.1M653.2 449.3L653.7 441.5" stroke="#606060" stroke-width="1.1" fill="none" stroke-linecap="round"/>
<path d="M237.3 434.0L253.9 434.7L259.3 437.8L242.7 437.1Z" fill="#dedede" stroke="#dedede" stroke-width="0.7"/><path d="M237.3 434.0L242.7 437.1M253.9 434.7L259.3 437.8" stroke="#b0b0b0" stroke-width="1.1" fill="none" stroke-linecap="round"/>
<path d="M661.4 521.0L692.2 517.6L695.9 524.0L665.1 527.4Z" fill="#969696" stroke="#969696" stroke-width="0.7"/><path d="M661.4 521.0L665.1 527.4M692.2 517.6L695.9 524.0" stroke="#606060" stroke-width="1.1" fill="none" stroke-linecap="round"/>
<path d="M291.7 437.2L296.8 437.8L303.7 437.6L296.0 436.7Z" fill="#787878" stroke="#787878" stroke-width="0.7"/><path d="M291.7 437.2L296.0 436.7M296.8 437.8L303.7 437.6" stroke="#b0b0b0" stroke-width="1.1" fill="none" stroke-linecap="round"/>
<path d="M617.8 461.8L640.0 461.8L646.1 460.8L623.9 460.8Z" fill="#4a4a4a" stroke="#4a4a4a" stroke-width="0.7"/><path d="M617.8 461.8L623.9 460.8M640.0 461.8L646.1 460.8" stroke="#606060" stroke-width="1.1" fill="none" stroke-linecap="round"/>
<path d="M714.6 431.9L735.4 416.0L736.2 419.1L717.4 433.5Z" fill="#656565" stroke="#656565" stroke-width="0.7"/><path d="M714.6 431.9L717.4 433.5M735.4 416.0L736.2 419.1" stroke="#606060" stroke-width="1.1" fill="none" stroke-linecap="round"/>
<path d="M299.3 557.7L320.2 574.0L319.7 574.9L298.9 558.6Z" fill="#686868" stroke="#686868" stroke-width="0.7"/><path d="M299.3 557.7L298.9 558.6M320.2 574.0L319.7 574.9" stroke="#707070" stroke-width="1.1" fill="none" stroke-linecap="round"/>
<path d="M355.4 669.0L381.9 667.3L383.4 670.3L356.8 672.1Z" fill="#747474" stroke="#747474" stroke-width="0.7"/><path d="M355.4 669.0L356.8 672.1M381.9 667.3L383.4 670.3" stroke="#707070" stroke-width="1.1" fill="none" stroke-linecap="round"/>
<path d="M492.5 633.8L516.6 622.7L515.0 617.0L491.0 628.1Z" fill="#707070" stroke="#707070" stroke-width="0.7"/><path d="M492.5 633.8L491.0 628.1M516.6 622.7L515.0 617.0" stroke="#606060" stroke-width="1.1" fill="none" stroke-linecap="round"/>
<path d="M384.9 631.4L411.4 629.7L414.8 634.3L388.3 636.1Z" fill="#afafaf" stroke="#afafaf" stroke-width="0.7"/><path d="M384.9 631.4L388.3 636.1M411.4 629.7L414.8 634.3" stroke="#707070" stroke-width="1.1" fill="none" stroke-linecap="round"/>
<path d="M674.7 414.5L695.5 398.6L699.6 396.8L678.8 412.7Z" fill="#7a7a7a" stroke="#7a7a7a" stroke-width="0.7"/><path d="M674.7 414.5L678.8 412.7M695.5 398.6L699.6 396.8" stroke="#606060" stroke-width="1.1" fill="none" stroke-linecap="round"/>
<path d="M534.2 524.0L557.3 521.4L563.4 517.6L535.7 520.7Z" fill="#4f4f4f" stroke="#4f4f4f" stroke-width="0.7"/><path d="M534.2 524.0L535.7 520.7M557.3 521.4L563.4 517.6" stroke="#606060" stroke-width="1.1" fill="none" stroke-linecap="round"/>
<path d="M347.2 479.0L367.1 498.8L369.8 502.9L349.9 483.1Z" fill="#c1c1c1" stroke="#c1c1c1" stroke-width="0.7"/><path d="M347.2 479.0L349.9 483.1M367.1 498.8L369.8 502.9" stroke="#b0b0b0" stroke-width="1.1" fill="none" stroke-linecap="round"/>
<path d="M649.2 494.1L671.4 494.1L670.7 498.8L648.5 498.8Z" fill="#6e6e6e" stroke="#6e6e6e" stroke-width="0.7"/><path d="M649.2 494.1L648.5 498.8M671.4 494.1L670.7 498.8" stroke="#606060" stroke-width="1.1" fill="none" stroke-linecap="round"/>
<path d="M252.8 453.7L269.4 454.4L270.3 460.6L253.7 459.9Z" fill="#e1e1e1" stroke="#e1e1e1" stroke-width="0.7"/><path d="M252.8 453.7L253.7 459.9M269.4 454.4L270.3 460.6" stroke="#b0b0b0" stroke-width="1.1" fill="none" stroke-linecap="round"/>
<path d="M435.0 605.2L459.0 620.3L463.4 621.9L439.4 606.7Z" fill="#787878" stroke="#787878" stroke-width="0.7"/><path d="M435.0 605.2L439.4 606.7M459.0 620.3L463.4 621.9" stroke="#b0b0b0" stroke-width="1.1" fill="none" stroke-linecap="round"/>
<path d="M489.4 608.1L513.4 597.0L514.7 591.3L490.6 602.4Z" fill="#5b5b5b" stroke="#5b5b5b" stroke-width="0.7"/><path d="M489.4 608.1L490.6 602.4M513.4 597.0L514.7 591.3" stroke="#606060" stroke-width="1.1" fill="none" stroke-linecap="round"/>
<path d="M311.3 675.1L337.9 673.3L339.1 674.3L312.5 676.1Z" fill="#686868" stroke="#686868" stroke-width="0.7"/><path d="M311.3 675.1L312.5 676.1M337.9 673.3L339.1 674.3" stroke="#707070" stroke-width="1.1" fill="none" stroke-linecap="round"/>
<path d="M209.7 470.9L226.3 471.6L224.5 468.7L207.9 468.0Z" fill="#979797" stroke="#979797" stroke-width="0.7"/><path d="M209.7 470.9L207.9 468.0M226.3 471.6L224.5 468.7" stroke="#b0b0b0" stroke-width="1.1" fill="none" stroke-linecap="round"/>
<path d="M242.7 437.1L259.3 437.8L263.8 442.4L247.2 441.7Z" fill="#e9e9e9" stroke="#e9e9e9" stroke-width="0.7"/><path d="M242.7 437.1L247.2 441.7M259.3 437.8L263.8 442.4" stroke="#b0b0b0" stroke-width="1.1" fill="none" stroke-linecap="round"/>
<path d="M641.2 451.1L653.7 441.5L655.4 434.4L639.8 446.3Z" fill="#5c5c5c" stroke="#5c5c5c" stroke-width="0.7"/><path d="M641.2 451.1L639.8 446.3M653.7 441.5L655.4 434.4" stroke="#606060" stroke-width="1.1" fill="none" stroke-linecap="round"/>
<path d="M397.2 628.6L421.2 643.7L423.3 641.5L399.2 626.4Z" fill="#969696" stroke="#969696" stroke-width="0.7"/><path d="M397.2 628.6L399.2 626.4M421.2 643.7L423.3 641.5" stroke="#b0b0b0" stroke-width="1.1" fill="none" stroke-linecap="round"/>
<path d="M302.1 509.1L323.0 525.4L327.1 527.4L306.3 511.1Z" fill="#585858" stroke="#585858" stroke-width="0.7"/><path d="M302.1 509.1L306.3 511.1M323.0 525.4L327.1 527.4" stroke="#707070" stroke-width="1.1" fill="none" stroke-linecap="round"/>
<path d="M547.2 584.9L563.3 584.7L566.2 578.5L550.1 578.7Z" fill="#7b7b7b" stroke="#7b7b7b" stroke-width="0.7"/><path d="M547.2 584.9L550.1 578.7M563.3 584.7L566.2 578.5" stroke="#8c8c8c" stroke-width="1.1" fill="none" stroke-linecap="round"/>
<path d="M599.3 498.8L621.5 498.8L620.8 494.1L598.6 494.1Z" fill="#676767" stroke="#676767" stroke-width="0.7"/><path d="M599.3 498.8L598.6 494.1M621.5 498.8L620.8 494.1" stroke="#606060" stroke-width="1.1" fill="none" stroke-linecap="round"/>
<path d="M309.3 470.2L326.5 472.3L325.0 476.5L307.8 474.5Z" fill="#c2c2c2" stroke="#c2c2c2" stroke-width="0.7"/><path d="M309.3 470.2L307.8 474.5M326.5 472.3L325.0 476.5" stroke="#b0b0b0" stroke-width="1.1" fill="none" stroke-linecap="round"/>
<path d="M683.7 460.6L704.5 444.7L703.7 444.0L682.9 459.9Z" fill="#5d5d5d" stroke="#5d5d5d" stroke-width="0.7"/><path d="M683.7 460.6L682.9 459.9M704.5 444.7L703.7 444.0" stroke="#606060" stroke-width="1.1" fill="none" stroke-linecap="round"/>
<path d="M535.2 577.4L553.2 569.1L555.6 569.2L541.1 575.8Z" fill="#7a7a7a" stroke="#7a7a7a" stroke-width="0.7"/><path d="M535.2 577.4L541.1 575.8M553.2 569.1L555.6 569.2" stroke="#606060" stroke-width="1.1" fill="none" stroke-linecap="round"/>
<path d="M550.1 578.7L566.2 578.5L570.4 573.1L554.2 573.4Z" fill="#737373" stroke="#737373" stroke-width="0.7"/><path d="M550.1 578.7L554.2 573.4M566.2 578.5L570.4 573.1" stroke="#8c8c8c" stroke-width="1.1" fill="none" stroke-linecap="round"/>
<path d="M282.3 444.1L302.2 463.9L308.8 461.3L288.9 441.5Z" fill="#a3a3a3" stroke="#a3a3a3" stroke-width="0.7"/><path d="M282.3 444.1L288.9 441.5M302.2 463.9L308.8 461.3" stroke="#b0b0b0" stroke-width="1.1" fill="none" stroke-linecap="round"/>
<path d="M250.6 447.4L267.2 448.1L269.4 454.4L252.8 453.7Z" fill="#eaeaea" stroke="#eaeaea" stroke-width="0.7"/><path d="M250.6 447.4L252.8 453.7M267.2 448.1L269.4 454.4" stroke="#b0b0b0" stroke-width="1.1" fill="none" stroke-linecap="round"/>
<path d="M247.2 441.7L263.8 442.4L267.2 448.1L250.6 447.4Z" fill="#ededed" stroke="#ededed" stroke-width="0.7"/><path d="M247.2 441.7L250.6 447.4M263.8 442.4L267.2 448.1" stroke="#b0b0b0" stroke-width="1.1" fill="none" stroke-linecap="round"/>
<path d="M400.2 655.1L420.2 653.7L420.3 659.9L404.4 660.9Z" fill="#a0a0a0" stroke="#a0a0a0" stroke-width="0.7"/><path d="M400.2 655.1L404.4 660.9M420.2 653.7L420.3 659.9" stroke="#707070" stroke-width="1.1" fill="none" stroke-linecap="round"/>
<path d="M262.7 528.9L283.5 545.3L285.7 543.2L264.9 526.9Z" fill="#6e6e6e" stroke="#6e6e6e" stroke-width="0.7"/><path d="M262.7 528.9L264.9 526.9M283.5 545.3L285.7 543.2" stroke="#707070" stroke-width="1.1" fill="none" stroke-linecap="round"/>
<path d="M335.9 631.5L362.4 629.8L365.9 632.7L339.4 634.4Z" fill="#a1a1a1" stroke="#a1a1a1" stroke-width="0.7"/><path d="M335.9 631.5L339.4 634.4M362.4 629.8L365.9 632.7" stroke="#707070" stroke-width="1.1" fill="none" stroke-linecap="round"/>
<path d="M296.0 436.7L303.7 437.6L310.4 439.4L300.0 438.1Z" fill="#cecece" stroke="#cecece" stroke-width="0.7"/><path d="M296.0 436.7L300.0 438.1M303.7 437.6L310.4 439.4" stroke="#b0b0b0" stroke-width="1.1" fill="none" stroke-linecap="round"/>
<path d="M531.8 625.3L555.8 614.2L555.3 613.3L531.2 624.4Z" fill="#5d5d5d" stroke="#5d5d5d" stroke-width="0.7"/><path d="M531.8 625.3L531.2 624.4M555.8 614.2L555.3 613.3" stroke="#606060" stroke-width="1.1" fill="none" stroke-linecap="round"/>
<path d="M623.9 460.8L646.1 460.8L652.2 461.8L630.0 461.8Z" fill="#777777" stroke="#777777" stroke-width="0.7"/><path d="M623.9 460.8L630.0 461.8M646.1 460.8L652.2 461.8" stroke="#606060" stroke-width="1.1" fill="none" stroke-linecap="round"/>
<path d="M545.6 591.3L561.8 591.1L563.3 584.7L547.2 584.9Z" fill="#808080" stroke="#808080" stroke-width="0.7"/><path d="M545.6 591.3L547.2 584.9M561.8 591.1L563.3 584.7" stroke="#8c8c8c" stroke-width="1.1" fill="none" stroke-linecap="round"/>
<path d="M288.9 441.5L308.8 461.3L315.5 459.7L295.6 439.9Z" fill="#9c9c9c" stroke="#9c9c9c" stroke-width="0.7"/><path d="M288.9 441.5L295.6 439.9M308.8 461.3L315.5 459.7" stroke="#b0b0b0" stroke-width="1.1" fill="none" stroke-linecap="round"/>
<path d="M276.2 447.2L296.1 467.0L302.2 463.9L282.3 444.1Z" fill="#a5a5a5" stroke="#a5a5a5" stroke-width="0.7"/><path d="M276.2 447.2L282.3 444.1M296.1 467.0L302.2 463.9" stroke="#b0b0b0" stroke-width="1.1" fill="none" stroke-linecap="round"/>
<path d="M388.3 636.1L414.8 634.3L418.0 640.3L391.5 642.0Z" fill="#b0b0b0" stroke="#b0b0b0" stroke-width="0.7"/><path d="M388.3 636.1L391.5 642.0M414.8 634.3L418.0 640.3" stroke="#707070" stroke-width="1.1" fill="none" stroke-linecap="round"/>
<path d="M554.2 573.4L570.4 573.1L575.6 569.1L559.4 569.4Z" fill="#6a6a6a" stroke="#6a6a6a" stroke-width="0.7"/><path d="M554.2 573.4L559.4 569.4M570.4 573.1L575.6 569.1" stroke="#8c8c8c" stroke-width="1.1" fill="none" stroke-linecap="round"/>
<path d="M595.6 514.0L626.4 510.6L630.9 513.3L600.2 516.7Z" fill="#898989" stroke="#898989" stroke-width="0.7"/><path d="M595.6 514.0L600.2 516.7M626.4 510.6L630.9 513.3" stroke="#606060" stroke-width="1.1" fill="none" stroke-linecap="round"/>
<path d="M592.4 600.8L608.6 600.6L606.9 604.3L590.7 604.5Z" fill="#a0a0a0" stroke="#a0a0a0" stroke-width="0.7"/><path d="M592.4 600.8L590.7 604.5M608.6 600.6L606.9 604.3" stroke="#8c8c8c" stroke-width="1.1" fill="none" stroke-linecap="round"/>
<path d="M299.7 491.0L319.6 510.8L320.4 510.2L300.6 490.4Z" fill="#868686" stroke="#868686" stroke-width="0.7"/><path d="M299.7 491.0L300.6 490.4M319.6 510.8L320.4 510.2" stroke="#b0b0b0" stroke-width="1.1" fill="none" stroke-linecap="round"/>
<path d="M494.0 638.2L518.1 627.2L516.6 622.7L492.5 633.8Z" fill="#6e6e6e" stroke="#6e6e6e" stroke-width="0.7"/><path d="M494.0 638.2L492.5 633.8M518.1 627.2L516.6 622.7" stroke="#606060" stroke-width="1.1" fill="none" stroke-linecap="round"/>
<path d="M290.2 633.5L310.1 632.1L315.6 632.9L291.7 634.4Z" fill="#8d8d8d" stroke="#8d8d8d" stroke-width="0.7"/><path d="M290.2 633.5L291.7 634.4M310.1 632.1L315.6 632.9" stroke="#707070" stroke-width="1.1" fill="none" stroke-linecap="round"/>
<path d="M341.5 520.4L359.4 538.2L355.3 540.6L340.3 525.8Z" fill="#d6d6d6" stroke="#d6d6d6" stroke-width="0.7"/><path d="M341.5 520.4L340.3 525.8M359.4 538.2L355.3 540.6" stroke="#b0b0b0" stroke-width="1.1" fill="none" stroke-linecap="round"/>
<path d="M370.7 588.3L394.7 603.5L400.5 599.4L376.5 584.3Z" fill="#a4a4a4" stroke="#a4a4a4" stroke-width="0.7"/><path d="M370.7 588.3L376.5 584.3M394.7 603.5L400.5 599.4" stroke="#b0b0b0" stroke-width="1.1" fill="none" stroke-linecap="round"/>
<path d="M618.0 545.6L648.7 542.2L650.7 546.9L619.9 550.3Z" fill="#777777" stroke="#777777" stroke-width="0.7"/><path d="M618.0 545.6L619.9 550.3M648.7 542.2L650.7 546.9" stroke="#606060" stroke-width="1.1" fill="none" stroke-linecap="round"/>
<path d="M395.7 648.5L419.6 647.0L420.2 653.7L400.2 655.1Z" fill="#aeaeae" stroke="#aeaeae" stroke-width="0.7"/><path d="M395.7 648.5L400.2 655.1M419.6 647.0L420.2 653.7" stroke="#707070" stroke-width="1.1" fill="none" stroke-linecap="round"/>
<path d="M490.6 602.4L514.7 591.3L516.9 587.0L492.9 598.1Z" fill="#4f4f4f" stroke="#4f4f4f" stroke-width="0.7"/><path d="M490.6 602.4L492.9 598.1M514.7 591.3L516.9 587.0" stroke="#606060" stroke-width="1.1" fill="none" stroke-linecap="round"/>
<path d="M648.9 488.3L671.1 488.3L671.4 494.1L649.2 494.1Z" fill="#7b7b7b" stroke="#7b7b7b" stroke-width="0.7"/><path d="M648.9 488.3L649.2 494.1M671.1 488.3L671.4 494.1" stroke="#606060" stroke-width="1.1" fill="none" stroke-linecap="round"/>
<path d="M678.8 412.7L699.6 396.8L704.8 396.6L684.0 412.5Z" fill="#8a8a8a" stroke="#8a8a8a" stroke-width="0.7"/><path d="M678.8 412.7L684.0 412.5M699.6 396.8L704.8 396.6" stroke="#606060" stroke-width="1.1" fill="none" stroke-linecap="round"/>
<path d="M391.5 642.0L418.0 640.3L419.6 647.0L395.7 648.5Z" fill="#b0b0b0" stroke="#b0b0b0" stroke-width="0.7"/><path d="M391.5 642.0L395.7 648.5M418.0 640.3L419.6 647.0" stroke="#707070" stroke-width="1.1" fill="none" stroke-linecap="round"/>
<path d="M349.9 483.1L369.8 502.9L371.0 508.3L351.1 488.5Z" fill="#d6d6d6" stroke="#d6d6d6" stroke-width="0.7"/><path d="M349.9 483.1L351.1 488.5M369.8 502.9L371.0 508.3" stroke="#b0b0b0" stroke-width="1.1" fill="none" stroke-linecap="round"/>
<path d="M442.1 653.3L460.2 664.7L457.2 666.4L442.8 657.3Z" fill="#bcbcbc" stroke="#bcbcbc" stroke-width="0.7"/><path d="M442.1 653.3L442.8 657.3M460.2 664.7L457.2 666.4" stroke="#b0b0b0" stroke-width="1.1" fill="none" stroke-linecap="round"/>
<path d="M568.3 664.5L597.9 666.8L600.9 660.2L571.2 657.9Z" fill="#a9a9a9" stroke="#a9a9a9" stroke-width="0.7"/><path d="M568.3 664.5L571.2 657.9M597.9 666.8L600.9 660.2" stroke="#b0b0b0" stroke-width="1.1" fill="none" stroke-linecap="round"/>
<path d="M365.4 592.7L389.4 607.8L394.7 603.5L370.7 588.3Z" fill="#a7a7a7" stroke="#a7a7a7" stroke-width="0.7"/><path d="M365.4 592.7L370.7 588.3M389.4 607.8L394.7 603.5" stroke="#b0b0b0" stroke-width="1.1" fill="none" stroke-linecap="round"/>
<path d="M711.4 428.5L732.2 412.6L735.4 416.0L714.6 431.9Z" fill="#787878" stroke="#787878" stroke-width="0.7"/><path d="M711.4 428.5L714.6 431.9M732.2 412.6L735.4 416.0" stroke="#606060" stroke-width="1.1" fill="none" stroke-linecap="round"/>
<path d="M376.5 584.3L400.5 599.4L406.5 596.3L382.5 581.2Z" fill="#9c9c9c" stroke="#9c9c9c" stroke-width="0.7"/><path d="M376.5 584.3L382.5 581.2M400.5 599.4L406.5 596.3" stroke="#b0b0b0" stroke-width="1.1" fill="none" stroke-linecap="round"/>
<path d="M565.6 671.1L595.3 673.4L597.9 666.8L568.3 664.5Z" fill="#acacac" stroke="#acacac" stroke-width="0.7"/><path d="M565.6 671.1L568.3 664.5M595.3 673.4L597.9 666.8" stroke="#b0b0b0" stroke-width="1.1" fill="none" stroke-linecap="round"/>
<path d="M568.6 559.1L599.4 555.7L600.4 556.7L569.6 560.1Z" fill="#5c5c5c" stroke="#5c5c5c" stroke-width="0.7"/><path d="M568.6 559.1L569.6 560.1M599.4 555.7L600.4 556.7" stroke="#606060" stroke-width="1.1" fill="none" stroke-linecap="round"/>
<path d="M295.6 439.9L315.5 459.7L321.7 459.3L301.9 439.6Z" fill="#929292" stroke="#929292" stroke-width="0.7"/><path d="M295.6 439.9L301.9 439.6M315.5 459.7L321.7 459.3" stroke="#b0b0b0" stroke-width="1.1" fill="none" stroke-linecap="round"/>
<path d="M353.6 664.3L380.1 662.5L381.9 667.3L355.4 669.0Z" fill="#8b8b8b" stroke="#8b8b8b" stroke-width="0.7"/><path d="M353.6 664.3L355.4 669.0M380.1 662.5L381.9 667.3" stroke="#707070" stroke-width="1.1" fill="none" stroke-linecap="round"/>
<path d="M639.8 446.3L655.4 434.4L658.4 428.3L639.7 442.6Z" fill="#505050" stroke="#505050" stroke-width="0.7"/><path d="M639.8 446.3L639.7 442.6M655.4 434.4L658.4 428.3" stroke="#606060" stroke-width="1.1" fill="none" stroke-linecap="round"/>
<path d="M545.4 597.2L561.6 597.0L561.8 591.1L545.6 591.3Z" fill="#828282" stroke="#828282" stroke-width="0.7"/><path d="M545.4 597.2L545.6 591.3M561.6 597.0L561.8 591.1" stroke="#8c8c8c" stroke-width="1.1" fill="none" stroke-linecap="round"/>
<path d="M559.4 569.4L575.6 569.1L581.5 566.9L565.3 567.1Z" fill="#646464" stroke="#646464" stroke-width="0.7"/><path d="M559.4 569.4L565.3 567.1M575.6 569.1L581.5 566.9" stroke="#8c8c8c" stroke-width="1.1" fill="none" stroke-linecap="round"/>
<path d="M535.7 520.7L563.4 517.6L569.2 515.9L538.4 519.3Z" fill="#4a4a4a" stroke="#4a4a4a" stroke-width="0.7"/><path d="M535.7 520.7L538.4 519.3M563.4 517.6L569.2 515.9" stroke="#606060" stroke-width="1.1" fill="none" stroke-linecap="round"/>
<path d="M271.0 450.3L290.9 470.1L296.1 467.0L276.2 447.2Z" fill="#a3a3a3" stroke="#a3a3a3" stroke-width="0.7"/><path d="M271.0 450.3L276.2 447.2M290.9 470.1L296.1 467.0" stroke="#b0b0b0" stroke-width="1.1" fill="none" stroke-linecap="round"/>
<path d="M300.0 438.1L310.4 439.4L316.4 442.9L303.5 441.4Z" fill="#dedede" stroke="#dedede" stroke-width="0.7"/><path d="M300.0 438.1L303.5 441.4M310.4 439.4L316.4 442.9" stroke="#b0b0b0" stroke-width="1.1" fill="none" stroke-linecap="round"/>
<path d="M439.4 606.7L463.4 621.9L466.7 625.1L442.7 610.0Z" fill="#c7c7c7" stroke="#c7c7c7" stroke-width="0.7"/><path d="M439.4 606.7L442.7 610.0M463.4 621.9L466.7 625.1" stroke="#b0b0b0" stroke-width="1.1" fill="none" stroke-linecap="round"/>
<path d="M310.0 464.7L327.2 466.7L326.5 472.3L309.3 470.2Z" fill="#d5d5d5" stroke="#d5d5d5" stroke-width="0.7"/><path d="M310.0 464.7L309.3 470.2M327.2 466.7L326.5 472.3" stroke="#b0b0b0" stroke-width="1.1" fill="none" stroke-linecap="round"/>
<path d="M630.0 461.8L652.2 461.8L657.9 464.8L635.7 464.8Z" fill="#828282" stroke="#828282" stroke-width="0.7"/><path d="M630.0 461.8L635.7 464.8M652.2 461.8L657.9 464.8" stroke="#606060" stroke-width="1.1" fill="none" stroke-linecap="round"/>
<path d="M300.8 555.0L321.7 571.4L320.2 574.0L299.3 557.7Z" fill="#7a7a7a" stroke="#7a7a7a" stroke-width="0.7"/><path d="M300.8 555.0L299.3 557.7M321.7 571.4L320.2 574.0" stroke="#707070" stroke-width="1.1" fill="none" stroke-linecap="round"/>
<path d="M211.9 472.0L228.5 472.7L226.3 471.6L209.7 470.9Z" fill="#8e8e8e" stroke="#8e8e8e" stroke-width="0.7"/><path d="M211.9 472.0L209.7 470.9M228.5 472.7L226.3 471.6" stroke="#b0b0b0" stroke-width="1.1" fill="none" stroke-linecap="round"/>
<path d="M571.2 657.9L600.9 660.2L604.0 654.3L574.3 652.0Z" fill="#9f9f9f" stroke="#9f9f9f" stroke-width="0.7"/><path d="M571.2 657.9L574.3 652.0M600.9 660.2L604.0 654.3" stroke="#b0b0b0" stroke-width="1.1" fill="none" stroke-linecap="round"/>
<path d="M306.3 511.1L327.1 527.4L330.0 531.0L309.2 514.6Z" fill="#7f7f7f" stroke="#7f7f7f" stroke-width="0.7"/><path d="M306.3 511.1L309.2 514.6M327.1 527.4L330.0 531.0" stroke="#707070" stroke-width="1.1" fill="none" stroke-linecap="round"/>
<path d="M541.1 575.8L555.6 569.2L558.5 571.1L547.7 576.1Z" fill="#8a8a8a" stroke="#8a8a8a" stroke-width="0.7"/><path d="M541.1 575.8L547.7 576.1M555.6 569.2L558.5 571.1" stroke="#606060" stroke-width="1.1" fill="none" stroke-linecap="round"/>
<path d="M309.9 672.0L336.4 670.3L337.9 673.3L311.3 675.1Z" fill="#747474" stroke="#747474" stroke-width="0.7"/><path d="M309.9 672.0L311.3 675.1M336.4 670.3L337.9 673.3" stroke="#707070" stroke-width="1.1" fill="none" stroke-linecap="round"/>
<path d="M339.4 634.4L365.9 632.7L369.3 637.3L342.8 639.1Z" fill="#afafaf" stroke="#afafaf" stroke-width="0.7"/><path d="M339.4 634.4L342.8 639.1M365.9 632.7L369.3 637.3" stroke="#707070" stroke-width="1.1" fill="none" stroke-linecap="round"/>
<path d="M600.7 501.8L622.9 501.8L621.5 498.8L599.3 498.8Z" fill="#626262" stroke="#626262" stroke-width="0.7"/><path d="M600.7 501.8L599.3 498.8M622.9 501.8L621.5 498.8" stroke="#606060" stroke-width="1.1" fill="none" stroke-linecap="round"/>
<path d="M563.2 677.1L592.9 679.4L595.3 673.4L565.6 671.1Z" fill="#acacac" stroke="#acacac" stroke-width="0.7"/><path d="M563.2 677.1L565.6 671.1M592.9 679.4L595.3 673.4" stroke="#b0b0b0" stroke-width="1.1" fill="none" stroke-linecap="round"/>
<path d="M361.0 596.9L385.1 612.0L389.4 607.8L365.4 592.7Z" fill="#a6a6a6" stroke="#a6a6a6" stroke-width="0.7"/><path d="M361.0 596.9L365.4 592.7M385.1 612.0L389.4 607.8" stroke="#b0b0b0" stroke-width="1.1" fill="none" stroke-linecap="round"/>
<path d="M600.2 516.7L630.9 513.3L635.3 517.7L604.5 521.1Z" fill="#949494" stroke="#949494" stroke-width="0.7"/><path d="M600.2 516.7L604.5 521.1M630.9 513.3L635.3 517.7" stroke="#606060" stroke-width="1.1" fill="none" stroke-linecap="round"/>
<path d="M396.3 629.3L420.3 644.4L421.2 643.7L397.2 628.6Z" fill="#8a8a8a" stroke="#8a8a8a" stroke-width="0.7"/><path d="M396.3 629.3L397.2 628.6M420.3 644.4L421.2 643.7" stroke="#b0b0b0" stroke-width="1.1" fill="none" stroke-linecap="round"/>
<path d="M382.5 581.2L406.5 596.3L412.3 594.5L388.3 579.4Z" fill="#919191" stroke="#919191" stroke-width="0.7"/><path d="M382.5 581.2L388.3 579.4M406.5 596.3L412.3 594.5" stroke="#b0b0b0" stroke-width="1.1" fill="none" stroke-linecap="round"/>
<path d="M647.4 481.8L669.6 481.8L671.1 488.3L648.9 488.3Z" fill="#858585" stroke="#858585" stroke-width="0.7"/><path d="M647.4 481.8L648.9 488.3M669.6 481.8L671.1 488.3" stroke="#606060" stroke-width="1.1" fill="none" stroke-linecap="round"/>
<path d="M303.5 441.4L316.4 442.9L321.6 448.0L306.1 446.2Z" fill="#eaeaea" stroke="#eaeaea" stroke-width="0.7"/><path d="M303.5 441.4L306.1 446.2M316.4 442.9L321.6 448.0" stroke="#b0b0b0" stroke-width="1.1" fill="none" stroke-linecap="round"/>
<path d="M635.7 464.8L657.9 464.8L662.9 469.5L640.7 469.5Z" fill="#8a8a8a" stroke="#8a8a8a" stroke-width="0.7"/><path d="M635.7 464.8L640.7 469.5M657.9 464.8L662.9 469.5" stroke="#606060" stroke-width="1.1" fill="none" stroke-linecap="round"/>
<path d="M565.3 567.1L581.5 566.9L587.6 566.7L571.4 566.9Z" fill="#646464" stroke="#646464" stroke-width="0.7"/><path d="M565.3 567.1L571.4 566.9M581.5 566.9L587.6 566.7" stroke="#8c8c8c" stroke-width="1.1" fill="none" stroke-linecap="round"/>
<path d="M593.1 595.7L609.2 595.5L608.6 600.6L592.4 600.8Z" fill="#b5b5b5" stroke="#b5b5b5" stroke-width="0.7"/><path d="M593.1 595.7L592.4 600.8M609.2 595.5L608.6 600.6" stroke="#8c8c8c" stroke-width="1.1" fill="none" stroke-linecap="round"/>
<path d="M683.2 459.6L704.0 443.7L704.5 444.7L683.7 460.6Z" fill="#5c5c5c" stroke="#5c5c5c" stroke-width="0.7"/><path d="M683.2 459.6L683.7 460.6M704.0 443.7L704.5 444.7" stroke="#606060" stroke-width="1.1" fill="none" stroke-linecap="round"/>
<path d="M343.6 514.2L363.5 534.0L359.4 538.2L341.5 520.4Z" fill="#e7e7e7" stroke="#e7e7e7" stroke-width="0.7"/><path d="M343.6 514.2L341.5 520.4M363.5 534.0L359.4 538.2" stroke="#b0b0b0" stroke-width="1.1" fill="none" stroke-linecap="round"/>
<path d="M309.6 458.4L326.8 460.4L327.2 466.7L310.0 464.7Z" fill="#e4e4e4" stroke="#e4e4e4" stroke-width="0.7"/><path d="M309.6 458.4L310.0 464.7M326.8 460.4L327.2 466.7" stroke="#b0b0b0" stroke-width="1.1" fill="none" stroke-linecap="round"/>
<path d="M261.9 529.6L282.7 545.9L283.5 545.3L262.7 528.9Z" fill="#646464" stroke="#646464" stroke-width="0.7"/><path d="M261.9 529.6L262.7 528.9M282.7 545.9L283.5 545.3" stroke="#707070" stroke-width="1.1" fill="none" stroke-linecap="round"/>
<path d="M351.1 488.5L371.0 508.3L370.6 514.5L350.8 494.7Z" fill="#e8e8e8" stroke="#e8e8e8" stroke-width="0.7"/><path d="M351.1 488.5L350.8 494.7M371.0 508.3L370.6 514.5" stroke="#b0b0b0" stroke-width="1.1" fill="none" stroke-linecap="round"/>
<path d="M684.0 412.5L704.8 396.6L710.5 398.0L689.7 413.9Z" fill="#959595" stroke="#959595" stroke-width="0.7"/><path d="M684.0 412.5L689.7 413.9M704.8 396.6L710.5 398.0" stroke="#606060" stroke-width="1.1" fill="none" stroke-linecap="round"/>
<path d="M615.4 539.7L646.2 536.3L648.7 542.2L618.0 545.6Z" fill="#878787" stroke="#878787" stroke-width="0.7"/><path d="M615.4 539.7L618.0 545.6M646.2 536.3L648.7 542.2" stroke="#606060" stroke-width="1.1" fill="none" stroke-linecap="round"/>
<path d="M531.5 624.3L555.5 613.2L555.8 614.2L531.8 625.3Z" fill="#5c5c5c" stroke="#5c5c5c" stroke-width="0.7"/><path d="M531.5 624.3L531.8 625.3M555.5 613.2L555.8 614.2" stroke="#606060" stroke-width="1.1" fill="none" stroke-linecap="round"/>
<path d="M301.9 439.6L321.7 459.3L327.1 460.5L307.2 440.7Z" fill="#868686" stroke="#868686" stroke-width="0.7"/><path d="M301.9 439.6L307.2 440.7M321.7 459.3L327.1 460.5" stroke="#b0b0b0" stroke-width="1.1" fill="none" stroke-linecap="round"/>
<path d="M707.0 424.5L727.8 408.5L732.2 412.6L711.4 428.5Z" fill="#898989" stroke="#898989" stroke-width="0.7"/><path d="M707.0 424.5L711.4 428.5M727.8 408.5L732.2 412.6" stroke="#606060" stroke-width="1.1" fill="none" stroke-linecap="round"/>
<path d="M546.4 602.1L562.6 601.9L561.6 597.0L545.4 597.2Z" fill="#818181" stroke="#818181" stroke-width="0.7"/><path d="M546.4 602.1L545.4 597.2M562.6 601.9L561.6 597.0" stroke="#8c8c8c" stroke-width="1.1" fill="none" stroke-linecap="round"/>
<path d="M495.2 641.0L519.3 629.9L518.1 627.2L494.0 638.2Z" fill="#676767" stroke="#676767" stroke-width="0.7"/><path d="M495.2 641.0L494.0 638.2M519.3 629.9L518.1 627.2" stroke="#606060" stroke-width="1.1" fill="none" stroke-linecap="round"/>
<path d="M644.6 475.3L666.8 475.3L669.6 481.8L647.4 481.8Z" fill="#8b8b8b" stroke="#8b8b8b" stroke-width="0.7"/><path d="M644.6 475.3L647.4 481.8M666.8 475.3L669.6 481.8" stroke="#606060" stroke-width="1.1" fill="none" stroke-linecap="round"/>
<path d="M351.4 658.3L378.0 656.5L380.1 662.5L353.6 664.3Z" fill="#a0a0a0" stroke="#a0a0a0" stroke-width="0.7"/><path d="M351.4 658.3L353.6 664.3M378.0 656.5L380.1 662.5" stroke="#707070" stroke-width="1.1" fill="none" stroke-linecap="round"/>
<path d="M640.7 469.5L662.9 469.5L666.8 475.3L644.6 475.3Z" fill="#8d8d8d" stroke="#8d8d8d" stroke-width="0.7"/><path d="M640.7 469.5L644.6 475.3M662.9 469.5L666.8 475.3" stroke="#606060" stroke-width="1.1" fill="none" stroke-linecap="round"/>
<path d="M306.1 446.2L321.6 448.0L325.2 454.0L308.0 452.0Z" fill="#eeeeee" stroke="#eeeeee" stroke-width="0.7"/><path d="M306.1 446.2L308.0 452.0M321.6 448.0L325.2 454.0" stroke="#b0b0b0" stroke-width="1.1" fill="none" stroke-linecap="round"/>
<path d="M492.9 598.1L516.9 587.0L520.2 584.3L496.2 595.4Z" fill="#4a4a4a" stroke="#4a4a4a" stroke-width="0.7"/><path d="M492.9 598.1L496.2 595.4M516.9 587.0L520.2 584.3" stroke="#606060" stroke-width="1.1" fill="none" stroke-linecap="round"/>
<path d="M291.7 634.4L315.6 632.9L320.4 635.7L293.9 637.4Z" fill="#a1a1a1" stroke="#a1a1a1" stroke-width="0.7"/><path d="M291.7 634.4L293.9 637.4M315.6 632.9L320.4 635.7" stroke="#707070" stroke-width="1.1" fill="none" stroke-linecap="round"/>
<path d="M308.0 452.0L325.2 454.0L326.8 460.4L309.6 458.4Z" fill="#ececec" stroke="#ececec" stroke-width="0.7"/><path d="M308.0 452.0L309.6 458.4M325.2 454.0L326.8 460.4" stroke="#b0b0b0" stroke-width="1.1" fill="none" stroke-linecap="round"/>
<path d="M267.1 453.0L287.0 472.8L290.9 470.1L271.0 450.3Z" fill="#9c9c9c" stroke="#9c9c9c" stroke-width="0.7"/><path d="M267.1 453.0L271.0 450.3M287.0 472.8L290.9 470.1" stroke="#b0b0b0" stroke-width="1.1" fill="none" stroke-linecap="round"/>
<path d="M639.7 442.6L658.4 428.3L662.3 424.0L641.5 439.9Z" fill="#4a4a4a" stroke="#4a4a4a" stroke-width="0.7"/><path d="M639.7 442.6L641.5 439.9M658.4 428.3L662.3 424.0" stroke="#606060" stroke-width="1.1" fill="none" stroke-linecap="round"/>
<path d="M574.3 652.0L604.0 654.3L607.2 649.7L577.5 647.3Z" fill="#919191" stroke="#919191" stroke-width="0.7"/><path d="M574.3 652.0L577.5 647.3M604.0 654.3L607.2 649.7" stroke="#b0b0b0" stroke-width="1.1" fill="none" stroke-linecap="round"/>
<path d="M522.8 660.9L552.4 663.2L555.4 656.7L525.7 654.4Z" fill="#a9a9a9" stroke="#a9a9a9" stroke-width="0.7"/><path d="M522.8 660.9L525.7 654.4M552.4 663.2L555.4 656.7" stroke="#b0b0b0" stroke-width="1.1" fill="none" stroke-linecap="round"/>
<path d="M300.2 490.1L320.1 509.9L319.6 510.8L299.7 491.0Z" fill="#a8a8a8" stroke="#a8a8a8" stroke-width="0.7"/><path d="M300.2 490.1L299.7 491.0M320.1 509.9L319.6 510.8" stroke="#b0b0b0" stroke-width="1.1" fill="none" stroke-linecap="round"/>
<path d="M442.0 647.8L463.6 661.4L460.2 664.7L442.1 653.3Z" fill="#d4d4d4" stroke="#d4d4d4" stroke-width="0.7"/><path d="M442.0 647.8L442.1 653.3M463.6 661.4L460.2 664.7" stroke="#b0b0b0" stroke-width="1.1" fill="none" stroke-linecap="round"/>
<path d="M442.7 610.0L466.7 625.1L468.8 630.0L444.8 614.9Z" fill="#dddddd" stroke="#dddddd" stroke-width="0.7"/><path d="M442.7 610.0L444.8 614.9M466.7 625.1L468.8 630.0" stroke="#b0b0b0" stroke-width="1.1" fill="none" stroke-linecap="round"/>
<path d="M520.1 667.6L549.8 669.9L552.4 663.2L522.8 660.9Z" fill="#acacac" stroke="#acacac" stroke-width="0.7"/><path d="M520.1 667.6L522.8 660.9M549.8 669.9L552.4 663.2" stroke="#b0b0b0" stroke-width="1.1" fill="none" stroke-linecap="round"/>
<path d="M342.8 639.1L369.3 637.3L372.5 643.3L346.0 645.0Z" fill="#b0b0b0" stroke="#b0b0b0" stroke-width="0.7"/><path d="M342.8 639.1L346.0 645.0M369.3 637.3L372.5 643.3" stroke="#707070" stroke-width="1.1" fill="none" stroke-linecap="round"/>
<path d="M604.5 521.1L635.3 517.7L639.4 523.4L608.6 526.8Z" fill="#969696" stroke="#969696" stroke-width="0.7"/><path d="M604.5 521.1L608.6 526.8M635.3 517.7L639.4 523.4" stroke="#606060" stroke-width="1.1" fill="none" stroke-linecap="round"/>
<path d="M547.7 576.1L558.5 571.1L561.9 574.7L554.6 578.0Z" fill="#959595" stroke="#959595" stroke-width="0.7"/><path d="M547.7 576.1L554.6 578.0M558.5 571.1L561.9 574.7" stroke="#606060" stroke-width="1.1" fill="none" stroke-linecap="round"/>
<path d="M571.4 566.9L587.6 566.7L593.6 568.4L577.4 568.7Z" fill="#c5c5c5" stroke="#c5c5c5" stroke-width="0.7"/><path d="M571.4 566.9L577.4 568.7M587.6 566.7L593.6 568.4" stroke="#8c8c8c" stroke-width="1.1" fill="none" stroke-linecap="round"/>
<path d="M346.6 508.1L366.5 527.8L363.5 534.0L343.6 514.2Z" fill="#f2f2f2" stroke="#f2f2f2" stroke-width="0.7"/><path d="M346.6 508.1L343.6 514.2M366.5 527.8L363.5 534.0" stroke="#b0b0b0" stroke-width="1.1" fill="none" stroke-linecap="round"/>
<path d="M350.8 494.7L370.6 514.5L369.1 521.2L349.2 501.4Z" fill="#f3f3f3" stroke="#f3f3f3" stroke-width="0.7"/><path d="M350.8 494.7L349.2 501.4M370.6 514.5L369.1 521.2" stroke="#b0b0b0" stroke-width="1.1" fill="none" stroke-linecap="round"/>
<path d="M538.4 519.3L569.2 515.9L573.6 516.5L542.8 519.9Z" fill="#7a7a7a" stroke="#7a7a7a" stroke-width="0.7"/><path d="M538.4 519.3L542.8 519.9M569.2 515.9L573.6 516.5" stroke="#606060" stroke-width="1.1" fill="none" stroke-linecap="round"/>
<path d="M612.3 533.2L643.1 529.8L646.2 536.3L615.4 539.7Z" fill="#939393" stroke="#939393" stroke-width="0.7"/><path d="M612.3 533.2L615.4 539.7M643.1 529.8L646.2 536.3" stroke="#606060" stroke-width="1.1" fill="none" stroke-linecap="round"/>
<path d="M689.7 413.9L710.5 398.0L716.6 400.8L695.8 416.7Z" fill="#969696" stroke="#969696" stroke-width="0.7"/><path d="M689.7 413.9L695.8 416.7M710.5 398.0L716.6 400.8" stroke="#606060" stroke-width="1.1" fill="none" stroke-linecap="round"/>
<path d="M309.2 514.6L330.0 531.0L331.5 535.9L310.7 519.6Z" fill="#929292" stroke="#929292" stroke-width="0.7"/><path d="M309.2 514.6L310.7 519.6M330.0 531.0L331.5 535.9" stroke="#707070" stroke-width="1.1" fill="none" stroke-linecap="round"/>
<path d="M561.1 681.8L590.8 684.1L592.9 679.4L563.2 677.1Z" fill="#a9a9a9" stroke="#a9a9a9" stroke-width="0.7"/><path d="M561.1 681.8L563.2 677.1M590.8 684.1L592.9 679.4" stroke="#b0b0b0" stroke-width="1.1" fill="none" stroke-linecap="round"/>
<path d="M303.0 550.9L323.9 567.2L321.7 571.4L300.8 555.0Z" fill="#8d8d8d" stroke="#8d8d8d" stroke-width="0.7"/><path d="M303.0 550.9L300.8 555.0M323.9 567.2L321.7 571.4" stroke="#707070" stroke-width="1.1" fill="none" stroke-linecap="round"/>
<path d="M701.7 420.3L722.5 404.4L727.8 408.5L707.0 424.5Z" fill="#959595" stroke="#959595" stroke-width="0.7"/><path d="M701.7 420.3L707.0 424.5M722.5 404.4L727.8 408.5" stroke="#606060" stroke-width="1.1" fill="none" stroke-linecap="round"/>
<path d="M388.3 579.4L412.3 594.5L417.6 594.2L393.5 579.1Z" fill="#838383" stroke="#838383" stroke-width="0.7"/><path d="M388.3 579.4L393.5 579.1M412.3 594.5L417.6 594.2" stroke="#b0b0b0" stroke-width="1.1" fill="none" stroke-linecap="round"/>
<path d="M357.7 600.3L381.8 615.4L385.1 612.0L361.0 596.9Z" fill="#a0a0a0" stroke="#a0a0a0" stroke-width="0.7"/><path d="M357.7 600.3L361.0 596.9M381.8 615.4L385.1 612.0" stroke="#b0b0b0" stroke-width="1.1" fill="none" stroke-linecap="round"/>
<path d="M348.9 651.6L375.4 649.9L378.0 656.5L351.4 658.3Z" fill="#aeaeae" stroke="#aeaeae" stroke-width="0.7"/><path d="M348.9 651.6L351.4 658.3M375.4 649.9L378.0 656.5" stroke="#707070" stroke-width="1.1" fill="none" stroke-linecap="round"/>
<path d="M567.1 556.2L597.9 552.7L599.4 555.7L568.6 559.1Z" fill="#656565" stroke="#656565" stroke-width="0.7"/><path d="M567.1 556.2L568.6 559.1M597.9 552.7L599.4 555.7" stroke="#606060" stroke-width="1.1" fill="none" stroke-linecap="round"/>
<path d="M525.7 654.4L555.4 656.7L558.5 650.7L528.8 648.4Z" fill="#9f9f9f" stroke="#9f9f9f" stroke-width="0.7"/><path d="M525.7 654.4L528.8 648.4M555.4 656.7L558.5 650.7" stroke="#b0b0b0" stroke-width="1.1" fill="none" stroke-linecap="round"/>
<path d="M592.5 589.7L608.7 589.5L609.2 595.5L593.1 595.7Z" fill="#c7c7c7" stroke="#c7c7c7" stroke-width="0.7"/><path d="M592.5 589.7L593.1 595.7M608.7 589.5L609.2 595.5" stroke="#8c8c8c" stroke-width="1.1" fill="none" stroke-linecap="round"/>
<path d="M349.2 501.4L369.1 521.2L366.5 527.8L346.6 508.1Z" fill="#f6f6f6" stroke="#f6f6f6" stroke-width="0.7"/><path d="M349.2 501.4L346.6 508.1M369.1 521.2L366.5 527.8" stroke="#b0b0b0" stroke-width="1.1" fill="none" stroke-linecap="round"/>
<path d="M608.6 526.8L639.4 523.4L643.1 529.8L612.3 533.2Z" fill="#969696" stroke="#969696" stroke-width="0.7"/><path d="M608.6 526.8L612.3 533.2M639.4 523.4L643.1 529.8" stroke="#606060" stroke-width="1.1" fill="none" stroke-linecap="round"/>
<path d="M346.0 645.0L372.5 643.3L375.4 649.9L348.9 651.6Z" fill="#b0b0b0" stroke="#b0b0b0" stroke-width="0.7"/><path d="M346.0 645.0L348.9 651.6M372.5 643.3L375.4 649.9" stroke="#707070" stroke-width="1.1" fill="none" stroke-linecap="round"/>
<path d="M267.2 485.5L273.5 490.4L280.2 491.9L270.9 484.6Z" fill="#626262" stroke="#626262" stroke-width="0.7"/><path d="M267.2 485.5L270.9 484.6M273.5 490.4L280.2 491.9" stroke="#707070" stroke-width="1.1" fill="none" stroke-linecap="round"/>
<path d="M695.8 416.7L716.6 400.8L722.5 404.4L701.7 420.3Z" fill="#969696" stroke="#969696" stroke-width="0.7"/><path d="M695.8 416.7L701.7 420.3M716.6 400.8L722.5 404.4" stroke="#606060" stroke-width="1.1" fill="none" stroke-linecap="round"/>
<path d="M214.2 471.1L230.8 471.8L228.5 472.7L211.9 472.0Z" fill="#a8a8a8" stroke="#a8a8a8" stroke-width="0.7"/><path d="M214.2 471.1L211.9 472.0M230.8 471.8L228.5 472.7" stroke="#b0b0b0" stroke-width="1.1" fill="none" stroke-linecap="round"/>
<path d="M308.1 667.3L334.6 665.5L336.4 670.3L309.9 672.0Z" fill="#8b8b8b" stroke="#8b8b8b" stroke-width="0.7"/><path d="M308.1 667.3L309.9 672.0M334.6 665.5L336.4 670.3" stroke="#707070" stroke-width="1.1" fill="none" stroke-linecap="round"/>
<path d="M517.7 673.5L547.4 675.8L549.8 669.9L520.1 667.6Z" fill="#acacac" stroke="#acacac" stroke-width="0.7"/><path d="M517.7 673.5L520.1 667.6M547.4 675.8L549.8 669.9" stroke="#b0b0b0" stroke-width="1.1" fill="none" stroke-linecap="round"/>
<path d="M577.4 568.7L593.6 568.4L599.1 572.1L582.9 572.3Z" fill="#d2d2d2" stroke="#d2d2d2" stroke-width="0.7"/><path d="M577.4 568.7L582.9 572.3M593.6 568.4L599.1 572.1" stroke="#8c8c8c" stroke-width="1.1" fill="none" stroke-linecap="round"/>
<path d="M602.6 502.8L624.8 502.8L622.9 501.8L600.7 501.8Z" fill="#5b5b5b" stroke="#5b5b5b" stroke-width="0.7"/><path d="M602.6 502.8L600.7 501.8M624.8 502.8L622.9 501.8" stroke="#606060" stroke-width="1.1" fill="none" stroke-linecap="round"/>
<path d="M307.2 440.7L327.1 460.5L331.3 463.2L311.4 443.4Z" fill="#787878" stroke="#787878" stroke-width="0.7"/><path d="M307.2 440.7L311.4 443.4M327.1 460.5L331.3 463.2" stroke="#b0b0b0" stroke-width="1.1" fill="none" stroke-linecap="round"/>
<path d="M548.3 605.5L564.5 605.2L562.6 601.9L546.4 602.1Z" fill="#7d7d7d" stroke="#7d7d7d" stroke-width="0.7"/><path d="M548.3 605.5L546.4 602.1M564.5 605.2L562.6 601.9" stroke="#8c8c8c" stroke-width="1.1" fill="none" stroke-linecap="round"/>
<path d="M590.6 583.4L606.8 583.1L608.7 589.5L592.5 589.7Z" fill="#d4d4d4" stroke="#d4d4d4" stroke-width="0.7"/><path d="M590.6 583.4L592.5 589.7M606.8 583.1L608.7 589.5" stroke="#8c8c8c" stroke-width="1.1" fill="none" stroke-linecap="round"/>
<path d="M444.8 614.9L468.8 630.0L469.7 636.0L445.6 620.9Z" fill="#eeeeee" stroke="#eeeeee" stroke-width="0.7"/><path d="M444.8 614.9L445.6 620.9M468.8 630.0L469.7 636.0" stroke="#b0b0b0" stroke-width="1.1" fill="none" stroke-linecap="round"/>
<path d="M396.5 628.2L420.6 643.3L420.3 644.4L396.3 629.3Z" fill="#a8a8a8" stroke="#a8a8a8" stroke-width="0.7"/><path d="M396.5 628.2L396.3 629.3M420.6 643.3L420.3 644.4" stroke="#b0b0b0" stroke-width="1.1" fill="none" stroke-linecap="round"/>
<path d="M293.9 637.4L320.4 635.7L323.8 640.3L297.3 642.1Z" fill="#afafaf" stroke="#afafaf" stroke-width="0.7"/><path d="M293.9 637.4L297.3 642.1M320.4 635.7L323.8 640.3" stroke="#707070" stroke-width="1.1" fill="none" stroke-linecap="round"/>
<path d="M681.4 457.3L702.2 441.4L704.0 443.7L683.2 459.6Z" fill="#656565" stroke="#656565" stroke-width="0.7"/><path d="M681.4 457.3L683.2 459.6M702.2 441.4L704.0 443.7" stroke="#606060" stroke-width="1.1" fill="none" stroke-linecap="round"/>
<path d="M442.6 641.3L466.7 656.4L463.6 661.4L442.0 647.8Z" fill="#e7e7e7" stroke="#e7e7e7" stroke-width="0.7"/><path d="M442.6 641.3L442.0 647.8M466.7 656.4L463.6 661.4" stroke="#b0b0b0" stroke-width="1.1" fill="none" stroke-linecap="round"/>
<path d="M582.9 572.3L599.1 572.1L603.5 577.1L587.3 577.4Z" fill="#dadada" stroke="#dadada" stroke-width="0.7"/><path d="M582.9 572.3L587.3 577.4M599.1 572.1L603.5 577.1" stroke="#8c8c8c" stroke-width="1.1" fill="none" stroke-linecap="round"/>
<path d="M496.2 595.4L520.2 584.3L524.4 583.6L500.3 594.6Z" fill="#7a7a7a" stroke="#7a7a7a" stroke-width="0.7"/><path d="M496.2 595.4L500.3 594.6M520.2 584.3L524.4 583.6" stroke="#606060" stroke-width="1.1" fill="none" stroke-linecap="round"/>
<path d="M577.5 647.3L607.2 649.7L610.5 646.8L580.8 644.5Z" fill="#818181" stroke="#818181" stroke-width="0.7"/><path d="M577.5 647.3L580.8 644.5M607.2 649.7L610.5 646.8" stroke="#b0b0b0" stroke-width="1.1" fill="none" stroke-linecap="round"/>
<path d="M641.5 439.9L662.3 424.0L666.4 422.2L645.6 438.1Z" fill="#7a7a7a" stroke="#7a7a7a" stroke-width="0.7"/><path d="M641.5 439.9L645.6 438.1M662.3 424.0L666.4 422.2" stroke="#606060" stroke-width="1.1" fill="none" stroke-linecap="round"/>
<path d="M262.3 528.7L283.2 545.0L282.7 545.9L261.9 529.6Z" fill="#686868" stroke="#686868" stroke-width="0.7"/><path d="M262.3 528.7L261.9 529.6M283.2 545.0L282.7 545.9" stroke="#707070" stroke-width="1.1" fill="none" stroke-linecap="round"/>
<path d="M530.1 621.6L554.2 610.5L555.5 613.2L531.5 624.3Z" fill="#646464" stroke="#646464" stroke-width="0.7"/><path d="M530.1 621.6L531.5 624.3M554.2 610.5L555.5 613.2" stroke="#606060" stroke-width="1.1" fill="none" stroke-linecap="round"/>
<path d="M587.3 577.4L603.5 577.1L606.8 583.1L590.6 583.4Z" fill="#dadada" stroke="#dadada" stroke-width="0.7"/><path d="M587.3 577.4L590.6 583.4M603.5 577.1L606.8 583.1" stroke="#8c8c8c" stroke-width="1.1" fill="none" stroke-linecap="round"/>
<path d="M310.7 519.6L331.5 535.9L331.7 542.0L310.9 525.6Z" fill="#a0a0a0" stroke="#a0a0a0" stroke-width="0.7"/><path d="M310.7 519.6L310.9 525.6M331.5 535.9L331.7 542.0" stroke="#707070" stroke-width="1.1" fill="none" stroke-linecap="round"/>
<path d="M528.8 648.4L558.5 650.7L561.7 646.1L532.0 643.8Z" fill="#919191" stroke="#919191" stroke-width="0.7"/><path d="M528.8 648.4L532.0 643.8M558.5 650.7L561.7 646.1" stroke="#b0b0b0" stroke-width="1.1" fill="none" stroke-linecap="round"/>
<path d="M264.7 454.8L284.6 474.6L287.0 472.8L267.1 453.0Z" fill="#939393" stroke="#939393" stroke-width="0.7"/><path d="M264.7 454.8L267.1 453.0M284.6 474.6L287.0 472.8" stroke="#b0b0b0" stroke-width="1.1" fill="none" stroke-linecap="round"/>
<path d="M495.8 641.9L519.8 630.8L519.3 629.9L495.2 641.0Z" fill="#5d5d5d" stroke="#5d5d5d" stroke-width="0.7"/><path d="M495.8 641.9L495.2 641.0M519.8 630.8L519.3 629.9" stroke="#606060" stroke-width="1.1" fill="none" stroke-linecap="round"/>
<path d="M477.3 657.4L506.9 659.7L509.9 653.1L480.2 650.8Z" fill="#a9a9a9" stroke="#a9a9a9" stroke-width="0.7"/><path d="M477.3 657.4L480.2 650.8M506.9 659.7L509.9 653.1" stroke="#b0b0b0" stroke-width="1.1" fill="none" stroke-linecap="round"/>
<path d="M305.6 545.4L326.4 561.7L323.9 567.2L303.0 550.9Z" fill="#9d9d9d" stroke="#9d9d9d" stroke-width="0.7"/><path d="M305.6 545.4L303.0 550.9M326.4 561.7L323.9 567.2" stroke="#707070" stroke-width="1.1" fill="none" stroke-linecap="round"/>
<path d="M474.6 664.0L504.3 666.3L506.9 659.7L477.3 657.4Z" fill="#acacac" stroke="#acacac" stroke-width="0.7"/><path d="M474.6 664.0L477.3 657.4M504.3 666.3L506.9 659.7" stroke="#b0b0b0" stroke-width="1.1" fill="none" stroke-linecap="round"/>
<path d="M542.8 519.9L573.6 516.5L578.1 519.1L547.4 522.5Z" fill="#898989" stroke="#898989" stroke-width="0.7"/><path d="M542.8 519.9L547.4 522.5M573.6 516.5L578.1 519.1" stroke="#606060" stroke-width="1.1" fill="none" stroke-linecap="round"/>
<path d="M393.5 579.1L417.6 594.2L422.0 595.8L397.9 580.7Z" fill="#787878" stroke="#787878" stroke-width="0.7"/><path d="M393.5 579.1L397.9 580.7M417.6 594.2L422.0 595.8" stroke="#b0b0b0" stroke-width="1.1" fill="none" stroke-linecap="round"/>
<path d="M302.0 487.7L321.9 507.4L320.1 509.9L300.2 490.1Z" fill="#c0c0c0" stroke="#c0c0c0" stroke-width="0.7"/><path d="M302.0 487.7L300.2 490.1M321.9 507.4L320.1 509.9" stroke="#b0b0b0" stroke-width="1.1" fill="none" stroke-linecap="round"/>
<path d="M305.9 661.3L332.5 659.5L334.6 665.5L308.1 667.3Z" fill="#a0a0a0" stroke="#a0a0a0" stroke-width="0.7"/><path d="M305.9 661.3L308.1 667.3M332.5 659.5L334.6 665.5" stroke="#707070" stroke-width="1.1" fill="none" stroke-linecap="round"/>
<path d="M515.6 678.2L545.3 680.5L547.4 675.8L517.7 673.5Z" fill="#a9a9a9" stroke="#a9a9a9" stroke-width="0.7"/><path d="M515.6 678.2L517.7 673.5M545.3 680.5L547.4 675.8" stroke="#b0b0b0" stroke-width="1.1" fill="none" stroke-linecap="round"/>
<path d="M559.4 684.8L589.1 687.1L590.8 684.1L561.1 681.8Z" fill="#9e9e9e" stroke="#9e9e9e" stroke-width="0.7"/><path d="M559.4 684.8L561.1 681.8M589.1 687.1L590.8 684.1" stroke="#b0b0b0" stroke-width="1.1" fill="none" stroke-linecap="round"/>
<path d="M270.9 484.6L280.2 491.9L286.0 495.1L273.5 485.3Z" fill="#585858" stroke="#585858" stroke-width="0.7"/><path d="M270.9 484.6L273.5 485.3M280.2 491.9L286.0 495.1" stroke="#707070" stroke-width="1.1" fill="none" stroke-linecap="round"/>
<path d="M445.6 620.9L469.7 636.0L469.4 642.8L445.4 627.7Z" fill="#f8f8f8" stroke="#f8f8f8" stroke-width="0.7"/><path d="M445.6 620.9L445.4 627.7M469.7 636.0L469.4 642.8" stroke="#b0b0b0" stroke-width="1.1" fill="none" stroke-linecap="round"/>
<path d="M480.2 650.8L509.9 653.1L513.0 647.2L483.3 644.9Z" fill="#9f9f9f" stroke="#9f9f9f" stroke-width="0.7"/><path d="M480.2 650.8L483.3 644.9M509.9 653.1L513.0 647.2" stroke="#b0b0b0" stroke-width="1.1" fill="none" stroke-linecap="round"/>
<path d="M444.3 634.6L468.3 649.8L466.7 656.4L442.6 641.3Z" fill="#f5f5f5" stroke="#f5f5f5" stroke-width="0.7"/><path d="M444.3 634.6L442.6 641.3M468.3 649.8L466.7 656.4" stroke="#b0b0b0" stroke-width="1.1" fill="none" stroke-linecap="round"/>
<path d="M355.7 602.5L379.7 617.6L381.8 615.4L357.7 600.3Z" fill="#969696" stroke="#969696" stroke-width="0.7"/><path d="M355.7 602.5L357.7 600.3M379.7 617.6L381.8 615.4" stroke="#b0b0b0" stroke-width="1.1" fill="none" stroke-linecap="round"/>
<path d="M565.2 551.5L595.9 548.1L597.9 552.7L567.1 556.2Z" fill="#777777" stroke="#777777" stroke-width="0.7"/><path d="M565.2 551.5L567.1 556.2M595.9 548.1L597.9 552.7" stroke="#606060" stroke-width="1.1" fill="none" stroke-linecap="round"/>
<path d="M297.3 642.1L323.8 640.3L327.0 646.3L300.5 648.0Z" fill="#b0b0b0" stroke="#b0b0b0" stroke-width="0.7"/><path d="M297.3 642.1L300.5 648.0M323.8 640.3L327.0 646.3" stroke="#707070" stroke-width="1.1" fill="none" stroke-linecap="round"/>
<path d="M472.2 670.0L501.9 672.3L504.3 666.3L474.6 664.0Z" fill="#acacac" stroke="#acacac" stroke-width="0.7"/><path d="M472.2 670.0L474.6 664.0M501.9 672.3L504.3 666.3" stroke="#b0b0b0" stroke-width="1.1" fill="none" stroke-linecap="round"/>
<path d="M611.5 689.9L624.9 690.9L624.2 689.8L615.3 689.1Z" fill="#909090" stroke="#909090" stroke-width="0.7"/><path d="M611.5 689.9L615.3 689.1M624.9 690.9L624.2 689.8" stroke="#b0b0b0" stroke-width="1.1" fill="none" stroke-linecap="round"/>
<path d="M310.9 525.6L331.7 542.0L330.7 548.6L309.9 532.3Z" fill="#a9a9a9" stroke="#a9a9a9" stroke-width="0.7"/><path d="M310.9 525.6L309.9 532.3M331.7 542.0L330.7 548.6" stroke="#707070" stroke-width="1.1" fill="none" stroke-linecap="round"/>
<path d="M445.4 627.7L469.4 642.8L468.3 649.8L444.3 634.6Z" fill="#fbfbfb" stroke="#fbfbfb" stroke-width="0.7"/><path d="M445.4 627.7L444.3 634.6M469.4 642.8L468.3 649.8" stroke="#b0b0b0" stroke-width="1.1" fill="none" stroke-linecap="round"/>
<path d="M216.1 468.4L232.7 469.1L230.8 471.8L214.2 471.1Z" fill="#aaaaaa" stroke="#aaaaaa" stroke-width="0.7"/><path d="M216.1 468.4L214.2 471.1M232.7 469.1L230.8 471.8" stroke="#b0b0b0" stroke-width="1.1" fill="none" stroke-linecap="round"/>
<path d="M308.0 539.1L328.8 555.4L326.4 561.7L305.6 545.4Z" fill="#a7a7a7" stroke="#a7a7a7" stroke-width="0.7"/><path d="M308.0 539.1L305.6 545.4M328.8 555.4L326.4 561.7" stroke="#707070" stroke-width="1.1" fill="none" stroke-linecap="round"/>
<path d="M311.4 443.4L331.3 463.2L334.0 467.3L314.1 447.5Z" fill="#c1c1c1" stroke="#c1c1c1" stroke-width="0.7"/><path d="M311.4 443.4L314.1 447.5M331.3 463.2L334.0 467.3" stroke="#b0b0b0" stroke-width="1.1" fill="none" stroke-linecap="round"/>
<path d="M309.9 532.3L330.7 548.6L328.8 555.4L308.0 539.1Z" fill="#ababab" stroke="#ababab" stroke-width="0.7"/><path d="M309.9 532.3L308.0 539.1M330.7 548.6L328.8 555.4" stroke="#707070" stroke-width="1.1" fill="none" stroke-linecap="round"/>
<path d="M303.4 654.6L329.9 652.9L332.5 659.5L305.9 661.3Z" fill="#aeaeae" stroke="#aeaeae" stroke-width="0.7"/><path d="M303.4 654.6L305.9 661.3M329.9 652.9L332.5 659.5" stroke="#707070" stroke-width="1.1" fill="none" stroke-linecap="round"/>
<path d="M300.5 648.0L327.0 646.3L329.9 652.9L303.4 654.6Z" fill="#b0b0b0" stroke="#b0b0b0" stroke-width="0.7"/><path d="M300.5 648.0L303.4 654.6M327.0 646.3L329.9 652.9" stroke="#707070" stroke-width="1.1" fill="none" stroke-linecap="round"/>
<path d="M500.3 594.6L524.4 583.6L529.2 584.6L505.1 595.7Z" fill="#8a8a8a" stroke="#8a8a8a" stroke-width="0.7"/><path d="M500.3 594.6L505.1 595.7M524.4 583.6L529.2 584.6" stroke="#606060" stroke-width="1.1" fill="none" stroke-linecap="round"/>
<path d="M550.6 606.9L566.8 606.7L564.5 605.2L548.3 605.5Z" fill="#777777" stroke="#777777" stroke-width="0.7"/><path d="M550.6 606.9L548.3 605.5M566.8 606.7L564.5 605.2" stroke="#8c8c8c" stroke-width="1.1" fill="none" stroke-linecap="round"/>
<path d="M645.6 438.1L666.4 422.2L671.6 422.0L650.8 437.9Z" fill="#8a8a8a" stroke="#8a8a8a" stroke-width="0.7"/><path d="M645.6 438.1L650.8 437.9M666.4 422.2L671.6 422.0" stroke="#606060" stroke-width="1.1" fill="none" stroke-linecap="round"/>
<path d="M604.4 501.8L626.6 501.8L624.8 502.8L602.6 502.8Z" fill="#5c5c5c" stroke="#5c5c5c" stroke-width="0.7"/><path d="M604.4 501.8L602.6 502.8M626.6 501.8L624.8 502.8" stroke="#606060" stroke-width="1.1" fill="none" stroke-linecap="round"/>
<path d="M678.2 453.9L699.0 438.0L702.2 441.4L681.4 457.3Z" fill="#787878" stroke="#787878" stroke-width="0.7"/><path d="M678.2 453.9L681.4 457.3M699.0 438.0L702.2 441.4" stroke="#606060" stroke-width="1.1" fill="none" stroke-linecap="round"/>
<path d="M329.2 562.3L353.2 577.4L359.0 573.4L335.0 558.3Z" fill="#a4a4a4" stroke="#a4a4a4" stroke-width="0.7"/><path d="M329.2 562.3L335.0 558.3M353.2 577.4L359.0 573.4" stroke="#b0b0b0" stroke-width="1.1" fill="none" stroke-linecap="round"/>
<path d="M246.5 408.5L266.4 428.3L273.0 425.7L253.1 405.9Z" fill="#a3a3a3" stroke="#a3a3a3" stroke-width="0.7"/><path d="M246.5 408.5L253.1 405.9M266.4 428.3L273.0 425.7" stroke="#b0b0b0" stroke-width="1.1" fill="none" stroke-linecap="round"/>
<path d="M532.0 643.8L561.7 646.1L565.0 643.2L535.3 640.9Z" fill="#818181" stroke="#818181" stroke-width="0.7"/><path d="M532.0 643.8L535.3 640.9M561.7 646.1L565.0 643.2" stroke="#b0b0b0" stroke-width="1.1" fill="none" stroke-linecap="round"/>
<path d="M527.8 617.6L551.8 606.5L554.2 610.5L530.1 621.6Z" fill="#777777" stroke="#777777" stroke-width="0.7"/><path d="M527.8 617.6L530.1 621.6M551.8 606.5L554.2 610.5" stroke="#606060" stroke-width="1.1" fill="none" stroke-linecap="round"/>
<path d="M483.3 644.9L513.0 647.2L516.2 642.6L486.5 640.3Z" fill="#919191" stroke="#919191" stroke-width="0.7"/><path d="M483.3 644.9L486.5 640.3M513.0 647.2L516.2 642.6" stroke="#b0b0b0" stroke-width="1.1" fill="none" stroke-linecap="round"/>
<path d="M397.7 625.4L421.7 640.5L420.6 643.3L396.5 628.2Z" fill="#bcbcbc" stroke="#bcbcbc" stroke-width="0.7"/><path d="M397.7 625.4L396.5 628.2M421.7 640.5L420.6 643.3" stroke="#b0b0b0" stroke-width="1.1" fill="none" stroke-linecap="round"/>
<path d="M323.9 566.6L348.0 581.8L353.2 577.4L329.2 562.3Z" fill="#a7a7a7" stroke="#a7a7a7" stroke-width="0.7"/><path d="M323.9 566.6L329.2 562.3M348.0 581.8L353.2 577.4" stroke="#b0b0b0" stroke-width="1.1" fill="none" stroke-linecap="round"/>
<path d="M547.4 522.5L578.1 519.1L582.5 523.5L551.7 526.9Z" fill="#949494" stroke="#949494" stroke-width="0.7"/><path d="M547.4 522.5L551.7 526.9M578.1 519.1L582.5 523.5" stroke="#606060" stroke-width="1.1" fill="none" stroke-linecap="round"/>
<path d="M580.8 644.5L610.5 646.8L613.7 645.9L584.0 643.6Z" fill="#787878" stroke="#787878" stroke-width="0.7"/><path d="M580.8 644.5L584.0 643.6M610.5 646.8L613.7 645.9" stroke="#b0b0b0" stroke-width="1.1" fill="none" stroke-linecap="round"/>
<path d="M335.0 558.3L359.0 573.4L365.0 570.2L341.0 555.1Z" fill="#9c9c9c" stroke="#9c9c9c" stroke-width="0.7"/><path d="M335.0 558.3L341.0 555.1M359.0 573.4L365.0 570.2" stroke="#b0b0b0" stroke-width="1.1" fill="none" stroke-linecap="round"/>
<path d="M253.1 405.9L273.0 425.7L279.7 424.1L259.8 404.3Z" fill="#9c9c9c" stroke="#9c9c9c" stroke-width="0.7"/><path d="M253.1 405.9L259.8 404.3M273.0 425.7L279.7 424.1" stroke="#b0b0b0" stroke-width="1.1" fill="none" stroke-linecap="round"/>
<path d="M240.4 411.6L260.3 431.3L266.4 428.3L246.5 408.5Z" fill="#a5a5a5" stroke="#a5a5a5" stroke-width="0.7"/><path d="M240.4 411.6L246.5 408.5M260.3 431.3L266.4 428.3" stroke="#b0b0b0" stroke-width="1.1" fill="none" stroke-linecap="round"/>
<path d="M263.8 526.0L284.7 542.4L283.2 545.0L262.3 528.7Z" fill="#7a7a7a" stroke="#7a7a7a" stroke-width="0.7"/><path d="M263.8 526.0L262.3 528.7M284.7 542.4L283.2 545.0" stroke="#707070" stroke-width="1.1" fill="none" stroke-linecap="round"/>
<path d="M397.9 580.7L422.0 595.8L425.3 599.1L401.2 584.0Z" fill="#c7c7c7" stroke="#c7c7c7" stroke-width="0.7"/><path d="M397.9 580.7L401.2 584.0M422.0 595.8L425.3 599.1" stroke="#b0b0b0" stroke-width="1.1" fill="none" stroke-linecap="round"/>
<path d="M263.8 455.3L283.7 475.1L284.6 474.6L264.7 454.8Z" fill="#868686" stroke="#868686" stroke-width="0.7"/><path d="M263.8 455.3L264.7 454.8M283.7 475.1L284.6 474.6" stroke="#b0b0b0" stroke-width="1.1" fill="none" stroke-linecap="round"/>
<path d="M562.6 545.6L593.4 542.2L595.9 548.1L565.2 551.5Z" fill="#878787" stroke="#878787" stroke-width="0.7"/><path d="M562.6 545.6L565.2 551.5M593.4 542.2L595.9 548.1" stroke="#606060" stroke-width="1.1" fill="none" stroke-linecap="round"/>
<path d="M495.5 640.9L519.5 629.8L519.8 630.8L495.8 641.9Z" fill="#5c5c5c" stroke="#5c5c5c" stroke-width="0.7"/><path d="M495.5 640.9L495.8 641.9M519.5 629.8L519.8 630.8" stroke="#606060" stroke-width="1.1" fill="none" stroke-linecap="round"/>
<path d="M470.1 674.7L499.8 677.0L501.9 672.3L472.2 670.0Z" fill="#a9a9a9" stroke="#a9a9a9" stroke-width="0.7"/><path d="M470.1 674.7L472.2 670.0M499.8 677.0L501.9 672.3" stroke="#b0b0b0" stroke-width="1.1" fill="none" stroke-linecap="round"/>
<path d="M273.5 485.3L286.0 495.1L290.4 499.9L274.8 487.7Z" fill="#7f7f7f" stroke="#7f7f7f" stroke-width="0.7"/><path d="M273.5 485.3L274.8 487.7M286.0 495.1L290.4 499.9" stroke="#707070" stroke-width="1.1" fill="none" stroke-linecap="round"/>
<path d="M513.9 681.2L543.6 683.5L545.3 680.5L515.6 678.2Z" fill="#9e9e9e" stroke="#9e9e9e" stroke-width="0.7"/><path d="M513.9 681.2L515.6 678.2M543.6 683.5L545.3 680.5" stroke="#b0b0b0" stroke-width="1.1" fill="none" stroke-linecap="round"/>
<path d="M304.7 483.7L324.6 503.5L321.9 507.4L302.0 487.7Z" fill="#d6d6d6" stroke="#d6d6d6" stroke-width="0.7"/><path d="M304.7 483.7L302.0 487.7M324.6 503.5L321.9 507.4" stroke="#b0b0b0" stroke-width="1.1" fill="none" stroke-linecap="round"/>
<path d="M465.3 610.8L472.5 607.5L477.6 604.0L466.8 609.0Z" fill="#4a4a4a" stroke="#4a4a4a" stroke-width="0.7"/><path d="M465.3 610.8L466.8 609.0M472.5 607.5L477.6 604.0" stroke="#606060" stroke-width="1.1" fill="none" stroke-linecap="round"/>
<path d="M195.5 432.3L200.4 432.5L207.6 431.8L200.1 431.5Z" fill="#787878" stroke="#787878" stroke-width="0.7"/><path d="M195.5 432.3L200.1 431.5M200.4 432.5L207.6 431.8" stroke="#b0b0b0" stroke-width="1.1" fill="none" stroke-linecap="round"/>
<path d="M314.1 447.5L334.0 467.3L335.1 472.7L315.2 452.9Z" fill="#d6d6d6" stroke="#d6d6d6" stroke-width="0.7"/><path d="M314.1 447.5L315.2 452.9M334.0 467.3L335.1 472.7" stroke="#b0b0b0" stroke-width="1.1" fill="none" stroke-linecap="round"/>
<path d="M217.4 464.0L234.0 464.7L232.7 469.1L216.1 468.4Z" fill="#bfbfbf" stroke="#bfbfbf" stroke-width="0.7"/><path d="M217.4 464.0L216.1 468.4M234.0 464.7L232.7 469.1" stroke="#b0b0b0" stroke-width="1.1" fill="none" stroke-linecap="round"/>
<path d="M557.8 685.7L587.5 688.0L589.1 687.1L559.4 684.8Z" fill="#909090" stroke="#909090" stroke-width="0.7"/><path d="M557.8 685.7L559.4 684.8M587.5 688.0L589.1 687.1" stroke="#b0b0b0" stroke-width="1.1" fill="none" stroke-linecap="round"/>
<path d="M319.6 570.8L343.6 585.9L348.0 581.8L323.9 566.6Z" fill="#a6a6a6" stroke="#a6a6a6" stroke-width="0.7"/><path d="M319.6 570.8L323.9 566.6M343.6 585.9L348.0 581.8" stroke="#b0b0b0" stroke-width="1.1" fill="none" stroke-linecap="round"/>
<path d="M259.8 404.3L279.7 424.1L285.9 423.7L266.0 403.9Z" fill="#929292" stroke="#929292" stroke-width="0.7"/><path d="M259.8 404.3L266.0 403.9M279.7 424.1L285.9 423.7" stroke="#b0b0b0" stroke-width="1.1" fill="none" stroke-linecap="round"/>
<path d="M354.8 603.2L378.9 618.3L379.7 617.6L355.7 602.5Z" fill="#8a8a8a" stroke="#8a8a8a" stroke-width="0.7"/><path d="M354.8 603.2L355.7 602.5M378.9 618.3L379.7 617.6" stroke="#b0b0b0" stroke-width="1.1" fill="none" stroke-linecap="round"/>
<path d="M341.0 555.1L365.0 570.2L370.9 568.4L346.8 553.3Z" fill="#919191" stroke="#919191" stroke-width="0.7"/><path d="M341.0 555.1L346.8 553.3M365.0 570.2L370.9 568.4" stroke="#b0b0b0" stroke-width="1.1" fill="none" stroke-linecap="round"/>
<path d="M650.8 437.9L671.6 422.0L677.3 423.4L656.5 439.3Z" fill="#959595" stroke="#959595" stroke-width="0.7"/><path d="M650.8 437.9L656.5 439.3M671.6 422.0L677.3 423.4" stroke="#606060" stroke-width="1.1" fill="none" stroke-linecap="round"/>
<path d="M505.1 595.7L529.2 584.6L534.3 587.4L510.2 598.5Z" fill="#959595" stroke="#959595" stroke-width="0.7"/><path d="M505.1 595.7L510.2 598.5M529.2 584.6L534.3 587.4" stroke="#606060" stroke-width="1.1" fill="none" stroke-linecap="round"/>
<path d="M235.2 414.7L255.1 434.4L260.3 431.3L240.4 411.6Z" fill="#a3a3a3" stroke="#a3a3a3" stroke-width="0.7"/><path d="M235.2 414.7L240.4 411.6M255.1 434.4L260.3 431.3" stroke="#b0b0b0" stroke-width="1.1" fill="none" stroke-linecap="round"/>
<path d="M551.7 526.9L582.5 523.5L586.6 529.3L555.8 532.7Z" fill="#969696" stroke="#969696" stroke-width="0.7"/><path d="M551.7 526.9L555.8 532.7M582.5 523.5L586.6 529.3" stroke="#606060" stroke-width="1.1" fill="none" stroke-linecap="round"/>
<path d="M566.6 475.3L576.6 475.3L582.2 469.5L568.9 469.5Z" fill="#5d5d5d" stroke="#5d5d5d" stroke-width="0.7"/><path d="M566.6 475.3L568.9 469.5M576.6 475.3L582.2 469.5" stroke="#606060" stroke-width="1.1" fill="none" stroke-linecap="round"/>
<path d="M565.5 481.8L572.2 481.8L576.6 475.3L566.6 475.3Z" fill="#646464" stroke="#646464" stroke-width="0.7"/><path d="M565.5 481.8L566.6 475.3M572.2 481.8L576.6 475.3" stroke="#606060" stroke-width="1.1" fill="none" stroke-linecap="round"/>
<path d="M673.8 449.9L694.6 433.9L699.0 438.0L678.2 453.9Z" fill="#898989" stroke="#898989" stroke-width="0.7"/><path d="M673.8 449.9L678.2 453.9M694.6 433.9L699.0 438.0" stroke="#606060" stroke-width="1.1" fill="none" stroke-linecap="round"/>
<path d="M559.5 539.1L590.3 535.7L593.4 542.2L562.6 545.6Z" fill="#939393" stroke="#939393" stroke-width="0.7"/><path d="M559.5 539.1L562.6 545.6M590.3 535.7L593.4 542.2" stroke="#606060" stroke-width="1.1" fill="none" stroke-linecap="round"/>
<path d="M524.4 612.7L548.4 601.6L551.8 606.5L527.8 617.6Z" fill="#878787" stroke="#878787" stroke-width="0.7"/><path d="M524.4 612.7L527.8 617.6M548.4 601.6L551.8 606.5" stroke="#606060" stroke-width="1.1" fill="none" stroke-linecap="round"/>
<path d="M607.9 688.5L625.7 689.9L624.9 690.9L611.5 689.9Z" fill="#a8a8a8" stroke="#a8a8a8" stroke-width="0.7"/><path d="M607.9 688.5L611.5 689.9M625.7 689.9L624.9 690.9" stroke="#b0b0b0" stroke-width="1.1" fill="none" stroke-linecap="round"/>
<path d="M555.8 532.7L586.6 529.3L590.3 535.7L559.5 539.1Z" fill="#969696" stroke="#969696" stroke-width="0.7"/><path d="M555.8 532.7L559.5 539.1M586.6 529.3L590.3 535.7" stroke="#606060" stroke-width="1.1" fill="none" stroke-linecap="round"/>
<path d="M568.9 469.5L582.2 469.5L588.8 464.8L572.2 464.8Z" fill="#555555" stroke="#555555" stroke-width="0.7"/><path d="M568.9 469.5L572.2 464.8M582.2 469.5L588.8 464.8" stroke="#606060" stroke-width="1.1" fill="none" stroke-linecap="round"/>
<path d="M486.5 640.3L516.2 642.6L519.5 639.7L489.8 637.4Z" fill="#818181" stroke="#818181" stroke-width="0.7"/><path d="M486.5 640.3L489.8 637.4M516.2 642.6L519.5 639.7" stroke="#b0b0b0" stroke-width="1.1" fill="none" stroke-linecap="round"/>
<path d="M553.1 606.4L569.3 606.1L566.8 606.7L550.6 606.9Z" fill="#969696" stroke="#969696" stroke-width="0.7"/><path d="M553.1 606.4L550.6 606.9M569.3 606.1L566.8 606.7" stroke="#8c8c8c" stroke-width="1.1" fill="none" stroke-linecap="round"/>
<path d="M200.1 431.5L207.6 431.8L214.6 433.1L204.7 432.7Z" fill="#cfcfcf" stroke="#cfcfcf" stroke-width="0.7"/><path d="M200.1 431.5L204.7 432.7M207.6 431.8L214.6 433.1" stroke="#b0b0b0" stroke-width="1.1" fill="none" stroke-linecap="round"/>
<path d="M605.8 498.8L628.0 498.8L626.6 501.8L604.4 501.8Z" fill="#5f5f5f" stroke="#5f5f5f" stroke-width="0.7"/><path d="M605.8 498.8L604.4 501.8M628.0 498.8L626.6 501.8" stroke="#606060" stroke-width="1.1" fill="none" stroke-linecap="round"/>
<path d="M535.3 640.9L565.0 643.2L568.2 642.4L538.5 640.1Z" fill="#787878" stroke="#787878" stroke-width="0.7"/><path d="M535.3 640.9L538.5 640.1M565.0 643.2L568.2 642.4" stroke="#b0b0b0" stroke-width="1.1" fill="none" stroke-linecap="round"/>
<path d="M399.3 620.9L423.4 636.1L421.7 640.5L397.7 625.4Z" fill="#d4d4d4" stroke="#d4d4d4" stroke-width="0.7"/><path d="M399.3 620.9L397.7 625.4M423.4 636.1L421.7 640.5" stroke="#b0b0b0" stroke-width="1.1" fill="none" stroke-linecap="round"/>
<path d="M401.2 584.0L425.3 599.1L427.3 603.9L403.3 588.8Z" fill="#dddddd" stroke="#dddddd" stroke-width="0.7"/><path d="M401.2 584.0L403.3 588.8M425.3 599.1L427.3 603.9" stroke="#b0b0b0" stroke-width="1.1" fill="none" stroke-linecap="round"/>
<path d="M656.5 439.3L677.3 423.4L683.4 426.2L662.6 442.1Z" fill="#969696" stroke="#969696" stroke-width="0.7"/><path d="M656.5 439.3L662.6 442.1M677.3 423.4L683.4 426.2" stroke="#606060" stroke-width="1.1" fill="none" stroke-linecap="round"/>
<path d="M510.2 598.5L534.3 587.4L539.4 591.5L515.4 602.6Z" fill="#969696" stroke="#969696" stroke-width="0.7"/><path d="M510.2 598.5L515.4 602.6M534.3 587.4L539.4 591.5" stroke="#606060" stroke-width="1.1" fill="none" stroke-linecap="round"/>
<path d="M307.8 478.6L327.7 498.3L324.6 503.5L304.7 483.7Z" fill="#e7e7e7" stroke="#e7e7e7" stroke-width="0.7"/><path d="M307.8 478.6L304.7 483.7M327.7 498.3L324.6 503.5" stroke="#b0b0b0" stroke-width="1.1" fill="none" stroke-linecap="round"/>
<path d="M668.5 445.7L689.3 429.8L694.6 433.9L673.8 449.9Z" fill="#959595" stroke="#959595" stroke-width="0.7"/><path d="M668.5 445.7L673.8 449.9M689.3 429.8L694.6 433.9" stroke="#606060" stroke-width="1.1" fill="none" stroke-linecap="round"/>
<path d="M315.2 452.9L335.1 472.7L334.8 478.9L314.9 459.1Z" fill="#e8e8e8" stroke="#e8e8e8" stroke-width="0.7"/><path d="M315.2 452.9L314.9 459.1M335.1 472.7L334.8 478.9" stroke="#b0b0b0" stroke-width="1.1" fill="none" stroke-linecap="round"/>
<path d="M274.8 487.7L290.4 499.9L293.5 506.1L274.7 491.4Z" fill="#929292" stroke="#929292" stroke-width="0.7"/><path d="M274.8 487.7L274.7 491.4M290.4 499.9L293.5 506.1" stroke="#707070" stroke-width="1.1" fill="none" stroke-linecap="round"/>
<path d="M266.0 521.9L286.9 538.2L284.7 542.4L263.8 526.0Z" fill="#8d8d8d" stroke="#8d8d8d" stroke-width="0.7"/><path d="M266.0 521.9L263.8 526.0M286.9 538.2L284.7 542.4" stroke="#707070" stroke-width="1.1" fill="none" stroke-linecap="round"/>
<path d="M584.0 643.6L613.7 645.9L616.7 647.2L587.0 644.9Z" fill="#d3d3d3" stroke="#d3d3d3" stroke-width="0.7"/><path d="M584.0 643.6L587.0 644.9M613.7 645.9L616.7 647.2" stroke="#b0b0b0" stroke-width="1.1" fill="none" stroke-linecap="round"/>
<path d="M520.2 607.5L544.2 596.4L548.4 601.6L524.4 612.7Z" fill="#939393" stroke="#939393" stroke-width="0.7"/><path d="M520.2 607.5L524.4 612.7M544.2 596.4L548.4 601.6" stroke="#606060" stroke-width="1.1" fill="none" stroke-linecap="round"/>
<path d="M266.0 403.9L285.9 423.7L291.3 424.8L271.4 405.1Z" fill="#868686" stroke="#868686" stroke-width="0.7"/><path d="M266.0 403.9L271.4 405.1M285.9 423.7L291.3 424.8" stroke="#b0b0b0" stroke-width="1.1" fill="none" stroke-linecap="round"/>
<path d="M217.7 458.4L234.3 459.1L234.0 464.7L217.4 464.0Z" fill="#d2d2d2" stroke="#d2d2d2" stroke-width="0.7"/><path d="M217.7 458.4L217.4 464.0M234.3 459.1L234.0 464.7" stroke="#b0b0b0" stroke-width="1.1" fill="none" stroke-linecap="round"/>
<path d="M662.6 442.1L683.4 426.2L689.3 429.8L668.5 445.7Z" fill="#969696" stroke="#969696" stroke-width="0.7"/><path d="M662.6 442.1L668.5 445.7M683.4 426.2L689.3 429.8" stroke="#606060" stroke-width="1.1" fill="none" stroke-linecap="round"/>
<path d="M468.4 677.7L498.1 680.0L499.8 677.0L470.1 674.7Z" fill="#9e9e9e" stroke="#9e9e9e" stroke-width="0.7"/><path d="M468.4 677.7L470.1 674.7M498.1 680.0L499.8 677.0" stroke="#b0b0b0" stroke-width="1.1" fill="none" stroke-linecap="round"/>
<path d="M572.2 464.8L588.8 464.8L596.2 461.8L576.3 461.8Z" fill="#4c4c4c" stroke="#4c4c4c" stroke-width="0.7"/><path d="M572.2 464.8L576.3 461.8M588.8 464.8L596.2 461.8" stroke="#606060" stroke-width="1.1" fill="none" stroke-linecap="round"/>
<path d="M346.8 553.3L370.9 568.4L376.1 568.2L352.1 553.1Z" fill="#838383" stroke="#838383" stroke-width="0.7"/><path d="M346.8 553.3L352.1 553.1M370.9 568.4L376.1 568.2" stroke="#b0b0b0" stroke-width="1.1" fill="none" stroke-linecap="round"/>
<path d="M316.3 574.2L340.3 589.3L343.6 585.9L319.6 570.8Z" fill="#a0a0a0" stroke="#a0a0a0" stroke-width="0.7"/><path d="M316.3 574.2L319.6 570.8M340.3 589.3L343.6 585.9" stroke="#b0b0b0" stroke-width="1.1" fill="none" stroke-linecap="round"/>
<path d="M515.4 602.6L539.4 591.5L544.2 596.4L520.2 607.5Z" fill="#969696" stroke="#969696" stroke-width="0.7"/><path d="M515.4 602.6L520.2 607.5M539.4 591.5L544.2 596.4" stroke="#606060" stroke-width="1.1" fill="none" stroke-linecap="round"/>
<path d="M466.8 609.0L477.6 604.0L483.6 602.4L469.1 609.0Z" fill="#7a7a7a" stroke="#7a7a7a" stroke-width="0.7"/><path d="M466.8 609.0L469.1 609.0M477.6 604.0L483.6 602.4" stroke="#606060" stroke-width="1.1" fill="none" stroke-linecap="round"/>
<path d="M231.3 417.3L251.2 437.1L255.1 434.4L235.2 414.7Z" fill="#9c9c9c" stroke="#9c9c9c" stroke-width="0.7"/><path d="M231.3 417.3L235.2 414.7M251.2 437.1L255.1 434.4" stroke="#b0b0b0" stroke-width="1.1" fill="none" stroke-linecap="round"/>
<path d="M494.1 638.2L518.2 627.1L519.5 629.8L495.5 640.9Z" fill="#646464" stroke="#646464" stroke-width="0.7"/><path d="M494.1 638.2L495.5 640.9M518.2 627.1L519.5 629.8" stroke="#606060" stroke-width="1.1" fill="none" stroke-linecap="round"/>
<path d="M264.4 454.5L284.3 474.2L283.7 475.1L263.8 455.3Z" fill="#a8a8a8" stroke="#a8a8a8" stroke-width="0.7"/><path d="M264.4 454.5L263.8 455.3M284.3 474.2L283.7 475.1" stroke="#b0b0b0" stroke-width="1.1" fill="none" stroke-linecap="round"/>
<path d="M204.7 432.7L214.6 433.1L221.2 436.2L208.7 435.7Z" fill="#dedede" stroke="#dedede" stroke-width="0.7"/><path d="M204.7 432.7L208.7 435.7M214.6 433.1L221.2 436.2" stroke="#b0b0b0" stroke-width="1.1" fill="none" stroke-linecap="round"/>
<path d="M512.3 682.2L542.0 684.5L543.6 683.5L513.9 681.2Z" fill="#909090" stroke="#909090" stroke-width="0.7"/><path d="M512.3 682.2L513.9 681.2M542.0 684.5L543.6 683.5" stroke="#b0b0b0" stroke-width="1.1" fill="none" stroke-linecap="round"/>
<path d="M310.8 472.4L330.7 492.2L327.7 498.3L307.8 478.6Z" fill="#f2f2f2" stroke="#f2f2f2" stroke-width="0.7"/><path d="M310.8 472.4L307.8 478.6M330.7 492.2L327.7 498.3" stroke="#b0b0b0" stroke-width="1.1" fill="none" stroke-linecap="round"/>
<path d="M314.9 459.1L334.8 478.9L333.2 485.6L313.3 465.8Z" fill="#f3f3f3" stroke="#f3f3f3" stroke-width="0.7"/><path d="M314.9 459.1L313.3 465.8M334.8 478.9L333.2 485.6" stroke="#b0b0b0" stroke-width="1.1" fill="none" stroke-linecap="round"/>
<path d="M556.5 684.5L586.1 686.9L587.5 688.0L557.8 685.7Z" fill="#a8a8a8" stroke="#a8a8a8" stroke-width="0.7"/><path d="M556.5 684.5L557.8 685.7M586.1 686.9L587.5 688.0" stroke="#b0b0b0" stroke-width="1.1" fill="none" stroke-linecap="round"/>
<path d="M313.3 465.8L333.2 485.6L330.7 492.2L310.8 472.4Z" fill="#f6f6f6" stroke="#f6f6f6" stroke-width="0.7"/><path d="M313.3 465.8L310.8 472.4M333.2 485.6L330.7 492.2" stroke="#b0b0b0" stroke-width="1.1" fill="none" stroke-linecap="round"/>
<path d="M216.8 452.2L233.4 452.9L234.3 459.1L217.7 458.4Z" fill="#e1e1e1" stroke="#e1e1e1" stroke-width="0.7"/><path d="M216.8 452.2L217.7 458.4M233.4 452.9L234.3 459.1" stroke="#b0b0b0" stroke-width="1.1" fill="none" stroke-linecap="round"/>
<path d="M403.3 588.8L427.3 603.9L428.2 609.9L404.2 594.8Z" fill="#eeeeee" stroke="#eeeeee" stroke-width="0.7"/><path d="M403.3 588.8L404.2 594.8M427.3 603.9L428.2 609.9" stroke="#b0b0b0" stroke-width="1.1" fill="none" stroke-linecap="round"/>
<path d="M355.1 602.1L379.1 617.3L378.9 618.3L354.8 603.2Z" fill="#a8a8a8" stroke="#a8a8a8" stroke-width="0.7"/><path d="M355.1 602.1L354.8 603.2M379.1 617.3L378.9 618.3" stroke="#b0b0b0" stroke-width="1.1" fill="none" stroke-linecap="round"/>
<path d="M401.2 615.2L425.2 630.3L423.4 636.1L399.3 620.9Z" fill="#e7e7e7" stroke="#e7e7e7" stroke-width="0.7"/><path d="M401.2 615.2L399.3 620.9M425.2 630.3L423.4 636.1" stroke="#b0b0b0" stroke-width="1.1" fill="none" stroke-linecap="round"/>
<path d="M576.3 461.8L596.2 461.8L603.4 460.8L581.2 460.8Z" fill="#4a4a4a" stroke="#4a4a4a" stroke-width="0.7"/><path d="M576.3 461.8L581.2 460.8M596.2 461.8L603.4 460.8" stroke="#606060" stroke-width="1.1" fill="none" stroke-linecap="round"/>
<path d="M208.7 435.7L221.2 436.2L227.0 440.9L212.0 440.2Z" fill="#e9e9e9" stroke="#e9e9e9" stroke-width="0.7"/><path d="M208.7 435.7L212.0 440.2M221.2 436.2L227.0 440.9" stroke="#b0b0b0" stroke-width="1.1" fill="none" stroke-linecap="round"/>
<path d="M274.7 491.4L293.5 506.1L294.7 513.0L273.9 496.6Z" fill="#a0a0a0" stroke="#a0a0a0" stroke-width="0.7"/><path d="M274.7 491.4L273.9 496.6M293.5 506.1L294.7 513.0" stroke="#707070" stroke-width="1.1" fill="none" stroke-linecap="round"/>
<path d="M604.4 685.1L626.6 686.9L625.7 689.9L607.9 688.5Z" fill="#b8b8b8" stroke="#b8b8b8" stroke-width="0.7"/><path d="M604.4 685.1L607.9 688.5M626.6 686.9L625.7 689.9" stroke="#b0b0b0" stroke-width="1.1" fill="none" stroke-linecap="round"/>
<path d="M268.6 516.4L289.4 532.7L286.9 538.2L266.0 521.9Z" fill="#9d9d9d" stroke="#9d9d9d" stroke-width="0.7"/><path d="M268.6 516.4L266.0 521.9M289.4 532.7L286.9 538.2" stroke="#707070" stroke-width="1.1" fill="none" stroke-linecap="round"/>
<path d="M489.8 637.4L519.5 639.7L522.7 638.9L493.0 636.6Z" fill="#787878" stroke="#787878" stroke-width="0.7"/><path d="M489.8 637.4L493.0 636.6M519.5 639.7L522.7 638.9" stroke="#b0b0b0" stroke-width="1.1" fill="none" stroke-linecap="round"/>
<path d="M606.5 494.1L628.7 494.1L628.0 498.8L605.8 498.8Z" fill="#6e6e6e" stroke="#6e6e6e" stroke-width="0.7"/><path d="M606.5 494.1L605.8 498.8M628.7 494.1L628.0 498.8" stroke="#606060" stroke-width="1.1" fill="none" stroke-linecap="round"/>
<path d="M214.6 445.9L231.2 446.6L233.4 452.9L216.8 452.2Z" fill="#eaeaea" stroke="#eaeaea" stroke-width="0.7"/><path d="M214.6 445.9L216.8 452.2M231.2 446.6L233.4 452.9" stroke="#b0b0b0" stroke-width="1.1" fill="none" stroke-linecap="round"/>
<path d="M555.2 603.8L571.4 603.6L569.3 606.1L553.1 606.4Z" fill="#969696" stroke="#969696" stroke-width="0.7"/><path d="M555.2 603.8L553.1 606.4M571.4 603.6L569.3 606.1" stroke="#8c8c8c" stroke-width="1.1" fill="none" stroke-linecap="round"/>
<path d="M212.0 440.2L227.0 440.9L231.2 446.6L214.6 445.9Z" fill="#ededed" stroke="#ededed" stroke-width="0.7"/><path d="M212.0 440.2L214.6 445.9M227.0 440.9L231.2 446.6" stroke="#b0b0b0" stroke-width="1.1" fill="none" stroke-linecap="round"/>
<path d="M271.4 405.1L291.3 424.8L295.4 427.5L275.5 407.7Z" fill="#787878" stroke="#787878" stroke-width="0.7"/><path d="M271.4 405.1L275.5 407.7M291.3 424.8L295.4 427.5" stroke="#b0b0b0" stroke-width="1.1" fill="none" stroke-linecap="round"/>
<path d="M352.1 553.1L376.1 568.2L380.5 569.7L356.5 554.6Z" fill="#787878" stroke="#787878" stroke-width="0.7"/><path d="M352.1 553.1L356.5 554.6M376.1 568.2L380.5 569.7" stroke="#b0b0b0" stroke-width="1.1" fill="none" stroke-linecap="round"/>
<path d="M538.5 640.1L568.2 642.4L571.2 643.7L541.5 641.4Z" fill="#d3d3d3" stroke="#d3d3d3" stroke-width="0.7"/><path d="M538.5 640.1L541.5 641.4M568.2 642.4L571.2 643.7" stroke="#b0b0b0" stroke-width="1.1" fill="none" stroke-linecap="round"/>
<path d="M469.1 609.0L483.6 602.4L490.1 602.6L472.1 610.9Z" fill="#8a8a8a" stroke="#8a8a8a" stroke-width="0.7"/><path d="M469.1 609.0L472.1 610.9M483.6 602.4L490.1 602.6" stroke="#606060" stroke-width="1.1" fill="none" stroke-linecap="round"/>
<path d="M404.2 594.8L428.2 609.9L428.0 616.7L403.9 601.6Z" fill="#f8f8f8" stroke="#f8f8f8" stroke-width="0.7"/><path d="M404.2 594.8L403.9 601.6M428.2 609.9L428.0 616.7" stroke="#b0b0b0" stroke-width="1.1" fill="none" stroke-linecap="round"/>
<path d="M587.0 644.9L616.7 647.2L619.5 650.6L589.8 648.3Z" fill="#ebebeb" stroke="#ebebeb" stroke-width="0.7"/><path d="M587.0 644.9L589.8 648.3M616.7 647.2L619.5 650.6" stroke="#b0b0b0" stroke-width="1.1" fill="none" stroke-linecap="round"/>
<path d="M402.8 608.6L426.9 623.7L425.2 630.3L401.2 615.2Z" fill="#f5f5f5" stroke="#f5f5f5" stroke-width="0.7"/><path d="M402.8 608.6L401.2 615.2M426.9 623.7L425.2 630.3" stroke="#b0b0b0" stroke-width="1.1" fill="none" stroke-linecap="round"/>
<path d="M314.2 576.5L338.3 591.6L340.3 589.3L316.3 574.2Z" fill="#969696" stroke="#969696" stroke-width="0.7"/><path d="M314.2 576.5L316.3 574.2M338.3 591.6L340.3 589.3" stroke="#b0b0b0" stroke-width="1.1" fill="none" stroke-linecap="round"/>
<path d="M273.9 496.6L294.7 513.0L293.7 519.6L272.9 503.3Z" fill="#a9a9a9" stroke="#a9a9a9" stroke-width="0.7"/><path d="M273.9 496.6L272.9 503.3M294.7 513.0L293.7 519.6" stroke="#707070" stroke-width="1.1" fill="none" stroke-linecap="round"/>
<path d="M491.8 634.2L515.8 623.1L518.2 627.1L494.1 638.2Z" fill="#777777" stroke="#777777" stroke-width="0.7"/><path d="M491.8 634.2L494.1 638.2M515.8 623.1L518.2 627.1" stroke="#606060" stroke-width="1.1" fill="none" stroke-linecap="round"/>
<path d="M228.9 419.1L248.8 438.9L251.2 437.1L231.3 417.3Z" fill="#939393" stroke="#939393" stroke-width="0.7"/><path d="M228.9 419.1L231.3 417.3M248.8 438.9L251.2 437.1" stroke="#b0b0b0" stroke-width="1.1" fill="none" stroke-linecap="round"/>
<path d="M271.0 510.1L291.8 526.4L289.4 532.7L268.6 516.4Z" fill="#a7a7a7" stroke="#a7a7a7" stroke-width="0.7"/><path d="M271.0 510.1L268.6 516.4M291.8 526.4L289.4 532.7" stroke="#707070" stroke-width="1.1" fill="none" stroke-linecap="round"/>
<path d="M466.8 678.7L496.5 681.0L498.1 680.0L468.4 677.7Z" fill="#909090" stroke="#909090" stroke-width="0.7"/><path d="M466.8 678.7L468.4 677.7M496.5 681.0L498.1 680.0" stroke="#b0b0b0" stroke-width="1.1" fill="none" stroke-linecap="round"/>
<path d="M403.9 601.6L428.0 616.7L426.9 623.7L402.8 608.6Z" fill="#fbfbfb" stroke="#fbfbfb" stroke-width="0.7"/><path d="M403.9 601.6L402.8 608.6M428.0 616.7L426.9 623.7" stroke="#b0b0b0" stroke-width="1.1" fill="none" stroke-linecap="round"/>
<path d="M581.2 460.8L603.4 460.8L609.5 461.8L587.3 461.8Z" fill="#777777" stroke="#777777" stroke-width="0.7"/><path d="M581.2 460.8L587.3 461.8M603.4 460.8L609.5 461.8" stroke="#606060" stroke-width="1.1" fill="none" stroke-linecap="round"/>
<path d="M522.0 575.6L526.8 575.6L532.9 571.0L525.6 571.1Z" fill="#6e6e6e" stroke="#6e6e6e" stroke-width="0.7"/><path d="M522.0 575.6L525.6 571.1M526.8 575.6L532.9 571.0" stroke="#8c8c8c" stroke-width="1.1" fill="none" stroke-linecap="round"/>
<path d="M272.9 503.3L293.7 519.6L291.8 526.4L271.0 510.1Z" fill="#ababab" stroke="#ababab" stroke-width="0.7"/><path d="M272.9 503.3L271.0 510.1M293.7 519.6L291.8 526.4" stroke="#707070" stroke-width="1.1" fill="none" stroke-linecap="round"/>
<path d="M266.2 452.0L286.1 471.8L284.3 474.2L264.4 454.5Z" fill="#c0c0c0" stroke="#c0c0c0" stroke-width="0.7"/><path d="M266.2 452.0L264.4 454.5M286.1 471.8L284.3 474.2" stroke="#b0b0b0" stroke-width="1.1" fill="none" stroke-linecap="round"/>
<path d="M511.0 681.0L540.6 683.3L542.0 684.5L512.3 682.2Z" fill="#a8a8a8" stroke="#a8a8a8" stroke-width="0.7"/><path d="M511.0 681.0L512.3 682.2M540.6 683.3L542.0 684.5" stroke="#b0b0b0" stroke-width="1.1" fill="none" stroke-linecap="round"/>
<path d="M606.2 488.3L628.4 488.3L628.7 494.1L606.5 494.1Z" fill="#7b7b7b" stroke="#7b7b7b" stroke-width="0.7"/><path d="M606.2 488.3L606.5 494.1M628.4 488.3L628.7 494.1" stroke="#606060" stroke-width="1.1" fill="none" stroke-linecap="round"/>
<path d="M525.6 571.1L532.9 571.0L539.8 568.0L530.0 568.2Z" fill="#646464" stroke="#646464" stroke-width="0.7"/><path d="M525.6 571.1L530.0 568.2M532.9 571.0L539.8 568.0" stroke="#8c8c8c" stroke-width="1.1" fill="none" stroke-linecap="round"/>
<path d="M555.2 681.3L584.9 683.6L586.1 686.9L556.5 684.5Z" fill="#b8b8b8" stroke="#b8b8b8" stroke-width="0.7"/><path d="M555.2 681.3L556.5 684.5M584.9 683.6L586.1 686.9" stroke="#b0b0b0" stroke-width="1.1" fill="none" stroke-linecap="round"/>
<path d="M600.8 680.0L627.6 682.0L626.6 686.9L604.4 685.1Z" fill="#d4d4d4" stroke="#d4d4d4" stroke-width="0.7"/><path d="M600.8 680.0L604.4 685.1M627.6 682.0L626.6 686.9" stroke="#b0b0b0" stroke-width="1.1" fill="none" stroke-linecap="round"/>
<path d="M356.2 599.3L380.2 614.4L379.1 617.3L355.1 602.1Z" fill="#bcbcbc" stroke="#bcbcbc" stroke-width="0.7"/><path d="M356.2 599.3L355.1 602.1M380.2 614.4L379.1 617.3" stroke="#b0b0b0" stroke-width="1.1" fill="none" stroke-linecap="round"/>
<path d="M275.5 407.7L295.4 427.5L298.1 431.7L278.2 411.9Z" fill="#c1c1c1" stroke="#c1c1c1" stroke-width="0.7"/><path d="M275.5 407.7L278.2 411.9M295.4 427.5L298.1 431.7" stroke="#b0b0b0" stroke-width="1.1" fill="none" stroke-linecap="round"/>
<path d="M472.1 610.9L490.1 602.6L497.1 604.5L475.4 614.5Z" fill="#959595" stroke="#959595" stroke-width="0.7"/><path d="M472.1 610.9L475.4 614.5M490.1 602.6L497.1 604.5" stroke="#606060" stroke-width="1.1" fill="none" stroke-linecap="round"/>
<path d="M454.7 634.7L463.6 635.4L469.0 634.7L455.6 633.7Z" fill="#787878" stroke="#787878" stroke-width="0.7"/><path d="M454.7 634.7L455.6 633.7M463.6 635.4L469.0 634.7" stroke="#b0b0b0" stroke-width="1.1" fill="none" stroke-linecap="round"/>
<path d="M587.3 461.8L609.5 461.8L615.2 464.8L593.0 464.8Z" fill="#828282" stroke="#828282" stroke-width="0.7"/><path d="M587.3 461.8L593.0 464.8M609.5 461.8L615.2 464.8" stroke="#606060" stroke-width="1.1" fill="none" stroke-linecap="round"/>
<path d="M556.5 599.6L572.7 599.4L571.4 603.6L555.2 603.8Z" fill="#a8a8a8" stroke="#a8a8a8" stroke-width="0.7"/><path d="M556.5 599.6L555.2 603.8M572.7 599.4L571.4 603.6" stroke="#8c8c8c" stroke-width="1.1" fill="none" stroke-linecap="round"/>
<path d="M356.5 554.6L380.5 569.7L383.8 573.0L359.8 557.9Z" fill="#c7c7c7" stroke="#c7c7c7" stroke-width="0.7"/><path d="M356.5 554.6L359.8 557.9M380.5 569.7L383.8 573.0" stroke="#b0b0b0" stroke-width="1.1" fill="none" stroke-linecap="round"/>
<path d="M488.4 629.3L512.4 618.2L515.8 623.1L491.8 634.2Z" fill="#878787" stroke="#878787" stroke-width="0.7"/><path d="M488.4 629.3L491.8 634.2M512.4 618.2L515.8 623.1" stroke="#606060" stroke-width="1.1" fill="none" stroke-linecap="round"/>
<path d="M493.0 636.6L522.7 638.9L525.7 640.2L496.0 637.9Z" fill="#d3d3d3" stroke="#d3d3d3" stroke-width="0.7"/><path d="M493.0 636.6L496.0 637.9M522.7 638.9L525.7 640.2" stroke="#b0b0b0" stroke-width="1.1" fill="none" stroke-linecap="round"/>
<path d="M589.8 648.3L619.5 650.6L621.9 655.7L592.3 653.4Z" fill="#fdfdfd" stroke="#fdfdfd" stroke-width="0.7"/><path d="M589.8 648.3L592.3 653.4M619.5 650.6L621.9 655.7" stroke="#b0b0b0" stroke-width="1.1" fill="none" stroke-linecap="round"/>
<path d="M541.5 641.4L571.2 643.7L574.0 647.1L544.3 644.8Z" fill="#ebebeb" stroke="#ebebeb" stroke-width="0.7"/><path d="M541.5 641.4L544.3 644.8M571.2 643.7L574.0 647.1" stroke="#b0b0b0" stroke-width="1.1" fill="none" stroke-linecap="round"/>
<path d="M530.0 568.2L539.8 568.0L547.1 567.0L534.9 567.2Z" fill="#646464" stroke="#646464" stroke-width="0.7"/><path d="M530.0 568.2L534.9 567.2M539.8 568.0L547.1 567.0" stroke="#8c8c8c" stroke-width="1.1" fill="none" stroke-linecap="round"/>
<path d="M604.7 481.8L626.9 481.8L628.4 488.3L606.2 488.3Z" fill="#858585" stroke="#858585" stroke-width="0.7"/><path d="M604.7 481.8L606.2 488.3M626.9 481.8L628.4 488.3" stroke="#606060" stroke-width="1.1" fill="none" stroke-linecap="round"/>
<path d="M593.0 464.8L615.2 464.8L620.2 469.5L598.0 469.5Z" fill="#8a8a8a" stroke="#8a8a8a" stroke-width="0.7"/><path d="M593.0 464.8L598.0 469.5M615.2 464.8L620.2 469.5" stroke="#606060" stroke-width="1.1" fill="none" stroke-linecap="round"/>
<path d="M313.4 577.1L337.4 592.3L338.3 591.6L314.2 576.5Z" fill="#8a8a8a" stroke="#8a8a8a" stroke-width="0.7"/><path d="M313.4 577.1L314.2 576.5M337.4 592.3L338.3 591.6" stroke="#b0b0b0" stroke-width="1.1" fill="none" stroke-linecap="round"/>
<path d="M475.4 614.5L497.1 604.5L503.4 608.1L479.4 619.2Z" fill="#969696" stroke="#969696" stroke-width="0.7"/><path d="M475.4 614.5L479.4 619.2M497.1 604.5L503.4 608.1" stroke="#606060" stroke-width="1.1" fill="none" stroke-linecap="round"/>
<path d="M484.2 624.1L508.2 613.0L512.4 618.2L488.4 629.3Z" fill="#939393" stroke="#939393" stroke-width="0.7"/><path d="M484.2 624.1L488.4 629.3M508.2 613.0L512.4 618.2" stroke="#606060" stroke-width="1.1" fill="none" stroke-linecap="round"/>
<path d="M228.0 419.7L247.9 439.5L248.8 438.9L228.9 419.1Z" fill="#868686" stroke="#868686" stroke-width="0.7"/><path d="M228.0 419.7L228.9 419.1M247.9 439.5L248.8 438.9" stroke="#b0b0b0" stroke-width="1.1" fill="none" stroke-linecap="round"/>
<path d="M268.8 448.1L288.7 467.9L286.1 471.8L266.2 452.0Z" fill="#d6d6d6" stroke="#d6d6d6" stroke-width="0.7"/><path d="M268.8 448.1L266.2 452.0M288.7 467.9L286.1 471.8" stroke="#b0b0b0" stroke-width="1.1" fill="none" stroke-linecap="round"/>
<path d="M465.5 677.5L495.1 679.8L496.5 681.0L466.8 678.7Z" fill="#a8a8a8" stroke="#a8a8a8" stroke-width="0.7"/><path d="M465.5 677.5L466.8 678.7M495.1 679.8L496.5 681.0" stroke="#b0b0b0" stroke-width="1.1" fill="none" stroke-linecap="round"/>
<path d="M597.9 673.6L627.6 675.9L627.6 682.0L600.8 680.0Z" fill="#ededed" stroke="#ededed" stroke-width="0.7"/><path d="M597.9 673.6L600.8 680.0M627.6 675.9L627.6 682.0" stroke="#b0b0b0" stroke-width="1.1" fill="none" stroke-linecap="round"/>
<path d="M602.0 475.3L624.1 475.3L626.9 481.8L604.7 481.8Z" fill="#8b8b8b" stroke="#8b8b8b" stroke-width="0.7"/><path d="M602.0 475.3L604.7 481.8M624.1 475.3L626.9 481.8" stroke="#606060" stroke-width="1.1" fill="none" stroke-linecap="round"/>
<path d="M479.4 619.2L503.4 608.1L508.2 613.0L484.2 624.1Z" fill="#969696" stroke="#969696" stroke-width="0.7"/><path d="M479.4 619.2L484.2 624.1M503.4 608.1L508.2 613.0" stroke="#606060" stroke-width="1.1" fill="none" stroke-linecap="round"/>
<path d="M598.0 469.5L620.2 469.5L624.1 475.3L602.0 475.3Z" fill="#8d8d8d" stroke="#8d8d8d" stroke-width="0.7"/><path d="M598.0 469.5L602.0 475.3M620.2 469.5L624.1 475.3" stroke="#606060" stroke-width="1.1" fill="none" stroke-linecap="round"/>
<path d="M278.2 411.9L298.1 431.7L299.3 437.0L279.4 417.2Z" fill="#d6d6d6" stroke="#d6d6d6" stroke-width="0.7"/><path d="M278.2 411.9L279.4 417.2M298.1 431.7L299.3 437.0" stroke="#b0b0b0" stroke-width="1.1" fill="none" stroke-linecap="round"/>
<path d="M592.3 653.4L621.9 655.7L624.1 662.0L594.4 659.7Z" fill="#ffffff" stroke="#ffffff" stroke-width="0.7"/><path d="M592.3 653.4L594.4 659.7M621.9 655.7L624.1 662.0" stroke="#b0b0b0" stroke-width="1.1" fill="none" stroke-linecap="round"/>
<path d="M556.8 594.1L572.9 593.9L572.7 599.4L556.5 599.6Z" fill="#bcbcbc" stroke="#bcbcbc" stroke-width="0.7"/><path d="M556.8 594.1L556.5 599.6M572.9 593.9L572.7 599.4" stroke="#8c8c8c" stroke-width="1.1" fill="none" stroke-linecap="round"/>
<path d="M509.7 677.8L539.4 680.1L540.6 683.3L511.0 681.0Z" fill="#b8b8b8" stroke="#b8b8b8" stroke-width="0.7"/><path d="M509.7 677.8L511.0 681.0M539.4 680.1L540.6 683.3" stroke="#b0b0b0" stroke-width="1.1" fill="none" stroke-linecap="round"/>
<path d="M534.9 567.2L547.1 567.0L554.5 568.1L539.7 568.3Z" fill="#bfbfbf" stroke="#bfbfbf" stroke-width="0.7"/><path d="M534.9 567.2L539.7 568.3M547.1 567.0L554.5 568.1" stroke="#8c8c8c" stroke-width="1.1" fill="none" stroke-linecap="round"/>
<path d="M553.8 676.3L583.5 678.6L584.9 683.6L555.2 681.3Z" fill="#d4d4d4" stroke="#d4d4d4" stroke-width="0.7"/><path d="M553.8 676.3L555.2 681.3M583.5 678.6L584.9 683.6" stroke="#b0b0b0" stroke-width="1.1" fill="none" stroke-linecap="round"/>
<path d="M357.9 594.9L381.9 610.0L380.2 614.4L356.2 599.3Z" fill="#d4d4d4" stroke="#d4d4d4" stroke-width="0.7"/><path d="M357.9 594.9L356.2 599.3M381.9 610.0L380.2 614.4" stroke="#b0b0b0" stroke-width="1.1" fill="none" stroke-linecap="round"/>
<path d="M359.8 557.9L383.8 573.0L385.9 577.8L361.8 562.7Z" fill="#dddddd" stroke="#dddddd" stroke-width="0.7"/><path d="M359.8 557.9L361.8 562.7M383.8 573.0L385.9 577.8" stroke="#b0b0b0" stroke-width="1.1" fill="none" stroke-linecap="round"/>
<path d="M596.3 666.7L626.0 669.0L627.6 675.9L597.9 673.6Z" fill="#fefefe" stroke="#fefefe" stroke-width="0.7"/><path d="M596.3 666.7L597.9 673.6M626.0 669.0L627.6 675.9" stroke="#b0b0b0" stroke-width="1.1" fill="none" stroke-linecap="round"/>
<path d="M455.6 633.7L469.0 634.7L474.2 636.2L456.4 634.8Z" fill="#d3d3d3" stroke="#d3d3d3" stroke-width="0.7"/><path d="M455.6 633.7L456.4 634.8M469.0 634.7L474.2 636.2" stroke="#b0b0b0" stroke-width="1.1" fill="none" stroke-linecap="round"/>
<path d="M594.4 659.7L624.1 662.0L626.0 669.0L596.3 666.7Z" fill="#ffffff" stroke="#ffffff" stroke-width="0.7"/><path d="M594.4 659.7L596.3 666.7M624.1 662.0L626.0 669.0" stroke="#b0b0b0" stroke-width="1.1" fill="none" stroke-linecap="round"/>
<path d="M544.3 644.8L574.0 647.1L576.4 652.1L546.8 649.8Z" fill="#fdfdfd" stroke="#fdfdfd" stroke-width="0.7"/><path d="M544.3 644.8L546.8 649.8M574.0 647.1L576.4 652.1" stroke="#b0b0b0" stroke-width="1.1" fill="none" stroke-linecap="round"/>
<path d="M496.0 637.9L525.7 640.2L528.5 643.5L498.8 641.2Z" fill="#ebebeb" stroke="#ebebeb" stroke-width="0.7"/><path d="M496.0 637.9L498.8 641.2M525.7 640.2L528.5 643.5" stroke="#b0b0b0" stroke-width="1.1" fill="none" stroke-linecap="round"/>
<path d="M539.7 568.3L554.5 568.1L560.9 571.0L544.7 571.2Z" fill="#cecece" stroke="#cecece" stroke-width="0.7"/><path d="M539.7 568.3L544.7 571.2M554.5 568.1L560.9 571.0" stroke="#8c8c8c" stroke-width="1.1" fill="none" stroke-linecap="round"/>
<path d="M555.7 587.9L571.9 587.6L572.9 593.9L556.8 594.1Z" fill="#cccccc" stroke="#cccccc" stroke-width="0.7"/><path d="M555.7 587.9L556.8 594.1M571.9 587.6L572.9 593.9" stroke="#8c8c8c" stroke-width="1.1" fill="none" stroke-linecap="round"/>
<path d="M271.9 442.9L291.8 462.7L288.7 467.9L268.8 448.1Z" fill="#e7e7e7" stroke="#e7e7e7" stroke-width="0.7"/><path d="M271.9 442.9L268.8 448.1M291.8 462.7L288.7 467.9" stroke="#b0b0b0" stroke-width="1.1" fill="none" stroke-linecap="round"/>
<path d="M279.4 417.2L299.3 437.0L299.0 443.3L279.1 423.5Z" fill="#e8e8e8" stroke="#e8e8e8" stroke-width="0.7"/><path d="M279.4 417.2L279.1 423.5M299.3 437.0L299.0 443.3" stroke="#b0b0b0" stroke-width="1.1" fill="none" stroke-linecap="round"/>
<path d="M237.1 375.2L243.1 381.2L250.0 383.8L241.0 374.9Z" fill="#868686" stroke="#868686" stroke-width="0.7"/><path d="M237.1 375.2L241.0 374.9M243.1 381.2L250.0 383.8" stroke="#b0b0b0" stroke-width="1.1" fill="none" stroke-linecap="round"/>
<path d="M552.4 670.1L582.1 672.4L583.5 678.6L553.8 676.3Z" fill="#ededed" stroke="#ededed" stroke-width="0.7"/><path d="M552.4 670.1L553.8 676.3M582.1 672.4L583.5 678.6" stroke="#b0b0b0" stroke-width="1.1" fill="none" stroke-linecap="round"/>
<path d="M544.7 571.2L560.9 571.0L565.7 575.6L549.6 575.8Z" fill="#d8d8d8" stroke="#d8d8d8" stroke-width="0.7"/><path d="M544.7 571.2L549.6 575.8M560.9 571.0L565.7 575.6" stroke="#8c8c8c" stroke-width="1.1" fill="none" stroke-linecap="round"/>
<path d="M361.8 562.7L385.9 577.8L386.7 583.9L362.7 568.8Z" fill="#eeeeee" stroke="#eeeeee" stroke-width="0.7"/><path d="M361.8 562.7L362.7 568.8M385.9 577.8L386.7 583.9" stroke="#b0b0b0" stroke-width="1.1" fill="none" stroke-linecap="round"/>
<path d="M313.6 576.1L337.7 591.2L337.4 592.3L313.4 577.1Z" fill="#a8a8a8" stroke="#a8a8a8" stroke-width="0.7"/><path d="M313.6 576.1L313.4 577.1M337.7 591.2L337.4 592.3" stroke="#b0b0b0" stroke-width="1.1" fill="none" stroke-linecap="round"/>
<path d="M359.7 589.1L383.8 604.2L381.9 610.0L357.9 594.9Z" fill="#e7e7e7" stroke="#e7e7e7" stroke-width="0.7"/><path d="M359.7 589.1L357.9 594.9M383.8 604.2L381.9 610.0" stroke="#b0b0b0" stroke-width="1.1" fill="none" stroke-linecap="round"/>
<path d="M553.3 581.6L569.5 581.3L571.9 587.6L555.7 587.9Z" fill="#d7d7d7" stroke="#d7d7d7" stroke-width="0.7"/><path d="M553.3 581.6L555.7 587.9M569.5 581.3L571.9 587.6" stroke="#8c8c8c" stroke-width="1.1" fill="none" stroke-linecap="round"/>
<path d="M546.8 649.8L576.4 652.1L578.6 658.5L548.9 656.2Z" fill="#ffffff" stroke="#ffffff" stroke-width="0.7"/><path d="M546.8 649.8L548.9 656.2M576.4 652.1L578.6 658.5" stroke="#b0b0b0" stroke-width="1.1" fill="none" stroke-linecap="round"/>
<path d="M228.6 418.8L248.5 438.6L247.9 439.5L228.0 419.7Z" fill="#a8a8a8" stroke="#a8a8a8" stroke-width="0.7"/><path d="M228.6 418.8L228.0 419.7M248.5 438.6L247.9 439.5" stroke="#b0b0b0" stroke-width="1.1" fill="none" stroke-linecap="round"/>
<path d="M464.2 674.2L493.9 676.5L495.1 679.8L465.5 677.5Z" fill="#b8b8b8" stroke="#b8b8b8" stroke-width="0.7"/><path d="M464.2 674.2L465.5 677.5M493.9 676.5L495.1 679.8" stroke="#b0b0b0" stroke-width="1.1" fill="none" stroke-linecap="round"/>
<path d="M549.6 575.8L565.7 575.6L569.5 581.3L553.3 581.6Z" fill="#dbdbdb" stroke="#dbdbdb" stroke-width="0.7"/><path d="M549.6 575.8L553.3 581.6M565.7 575.6L569.5 581.3" stroke="#8c8c8c" stroke-width="1.1" fill="none" stroke-linecap="round"/>
<path d="M508.3 672.8L538.0 675.1L539.4 680.1L509.7 677.8Z" fill="#d4d4d4" stroke="#d4d4d4" stroke-width="0.7"/><path d="M508.3 672.8L509.7 677.8M538.0 675.1L539.4 680.1" stroke="#b0b0b0" stroke-width="1.1" fill="none" stroke-linecap="round"/>
<path d="M275.0 436.8L294.9 456.6L291.8 462.7L271.9 442.9Z" fill="#f2f2f2" stroke="#f2f2f2" stroke-width="0.7"/><path d="M275.0 436.8L271.9 442.9M294.9 456.6L291.8 462.7" stroke="#b0b0b0" stroke-width="1.1" fill="none" stroke-linecap="round"/>
<path d="M279.1 423.5L299.0 443.3L297.4 449.9L277.5 430.2Z" fill="#f3f3f3" stroke="#f3f3f3" stroke-width="0.7"/><path d="M279.1 423.5L277.5 430.2M299.0 443.3L297.4 449.9" stroke="#b0b0b0" stroke-width="1.1" fill="none" stroke-linecap="round"/>
<path d="M550.8 663.1L580.5 665.4L582.1 672.4L552.4 670.1Z" fill="#fefefe" stroke="#fefefe" stroke-width="0.7"/><path d="M550.8 663.1L552.4 670.1M580.5 665.4L582.1 672.4" stroke="#b0b0b0" stroke-width="1.1" fill="none" stroke-linecap="round"/>
<path d="M319.0 532.3L326.2 536.8L332.4 539.5L321.6 532.7Z" fill="#787878" stroke="#787878" stroke-width="0.7"/><path d="M319.0 532.3L321.6 532.7M326.2 536.8L332.4 539.5" stroke="#b0b0b0" stroke-width="1.1" fill="none" stroke-linecap="round"/>
<path d="M548.9 656.2L578.6 658.5L580.5 665.4L550.8 663.1Z" fill="#ffffff" stroke="#ffffff" stroke-width="0.7"/><path d="M548.9 656.2L550.8 663.1M578.6 658.5L580.5 665.4" stroke="#b0b0b0" stroke-width="1.1" fill="none" stroke-linecap="round"/>
<path d="M498.8 641.2L528.5 643.5L530.9 648.6L501.3 646.3Z" fill="#fdfdfd" stroke="#fdfdfd" stroke-width="0.7"/><path d="M498.8 641.2L501.3 646.3M528.5 643.5L530.9 648.6" stroke="#b0b0b0" stroke-width="1.1" fill="none" stroke-linecap="round"/>
<path d="M277.5 430.2L297.4 449.9L294.9 456.6L275.0 436.8Z" fill="#f6f6f6" stroke="#f6f6f6" stroke-width="0.7"/><path d="M277.5 430.2L275.0 436.8M297.4 449.9L294.9 456.6" stroke="#b0b0b0" stroke-width="1.1" fill="none" stroke-linecap="round"/>
<path d="M362.7 568.8L386.7 583.9L386.5 590.7L362.5 575.5Z" fill="#f8f8f8" stroke="#f8f8f8" stroke-width="0.7"/><path d="M362.7 568.8L362.5 575.5M386.7 583.9L386.5 590.7" stroke="#b0b0b0" stroke-width="1.1" fill="none" stroke-linecap="round"/>
<path d="M456.4 634.8L474.2 636.2L479.2 639.7L457.0 638.0Z" fill="#ebebeb" stroke="#ebebeb" stroke-width="0.7"/><path d="M456.4 634.8L457.0 638.0M474.2 636.2L479.2 639.7" stroke="#b0b0b0" stroke-width="1.1" fill="none" stroke-linecap="round"/>
<path d="M361.4 582.5L385.4 597.6L383.8 604.2L359.7 589.1Z" fill="#f5f5f5" stroke="#f5f5f5" stroke-width="0.7"/><path d="M361.4 582.5L359.7 589.1M385.4 597.6L383.8 604.2" stroke="#b0b0b0" stroke-width="1.1" fill="none" stroke-linecap="round"/>
<path d="M362.5 575.5L386.5 590.7L385.4 597.6L361.4 582.5Z" fill="#fbfbfb" stroke="#fbfbfb" stroke-width="0.7"/><path d="M362.5 575.5L361.4 582.5M386.5 590.7L385.4 597.6" stroke="#b0b0b0" stroke-width="1.1" fill="none" stroke-linecap="round"/>
<path d="M241.0 374.9L250.0 383.8L255.6 387.9L243.7 376.1Z" fill="#787878" stroke="#787878" stroke-width="0.7"/><path d="M241.0 374.9L243.7 376.1M250.0 383.8L255.6 387.9" stroke="#b0b0b0" stroke-width="1.1" fill="none" stroke-linecap="round"/>
<path d="M506.9 666.5L536.6 668.8L538.0 675.1L508.3 672.8Z" fill="#ededed" stroke="#ededed" stroke-width="0.7"/><path d="M506.9 666.5L508.3 672.8M536.6 668.8L538.0 675.1" stroke="#b0b0b0" stroke-width="1.1" fill="none" stroke-linecap="round"/>
<path d="M501.3 646.3L530.9 648.6L533.1 654.9L503.4 652.6Z" fill="#ffffff" stroke="#ffffff" stroke-width="0.7"/><path d="M501.3 646.3L503.4 652.6M530.9 648.6L533.1 654.9" stroke="#b0b0b0" stroke-width="1.1" fill="none" stroke-linecap="round"/>
<path d="M462.8 669.3L492.5 671.6L493.9 676.5L464.2 674.2Z" fill="#d4d4d4" stroke="#d4d4d4" stroke-width="0.7"/><path d="M462.8 669.3L464.2 674.2M492.5 671.6L493.9 676.5" stroke="#b0b0b0" stroke-width="1.1" fill="none" stroke-linecap="round"/>
<path d="M314.7 573.3L338.8 588.4L337.7 591.2L313.6 576.1Z" fill="#bcbcbc" stroke="#bcbcbc" stroke-width="0.7"/><path d="M314.7 573.3L313.6 576.1M338.8 588.4L337.7 591.2" stroke="#b0b0b0" stroke-width="1.1" fill="none" stroke-linecap="round"/>
<path d="M230.4 416.4L250.2 436.2L248.5 438.6L228.6 418.8Z" fill="#c0c0c0" stroke="#c0c0c0" stroke-width="0.7"/><path d="M230.4 416.4L228.6 418.8M250.2 436.2L248.5 438.6" stroke="#b0b0b0" stroke-width="1.1" fill="none" stroke-linecap="round"/>
<path d="M321.6 532.7L332.4 539.5L337.5 543.9L323.1 534.9Z" fill="#c7c7c7" stroke="#c7c7c7" stroke-width="0.7"/><path d="M321.6 532.7L323.1 534.9M332.4 539.5L337.5 543.9" stroke="#b0b0b0" stroke-width="1.1" fill="none" stroke-linecap="round"/>
<path d="M505.3 659.6L535.0 661.9L536.6 668.8L506.9 666.5Z" fill="#fefefe" stroke="#fefefe" stroke-width="0.7"/><path d="M505.3 659.6L506.9 666.5M535.0 661.9L536.6 668.8" stroke="#b0b0b0" stroke-width="1.1" fill="none" stroke-linecap="round"/>
<path d="M503.4 652.6L533.1 654.9L535.0 661.9L505.3 659.6Z" fill="#ffffff" stroke="#ffffff" stroke-width="0.7"/><path d="M503.4 652.6L505.3 659.6M533.1 654.9L535.0 661.9" stroke="#b0b0b0" stroke-width="1.1" fill="none" stroke-linecap="round"/>
<path d="M457.0 638.0L479.2 639.7L484.0 645.0L457.2 642.9Z" fill="#fdfdfd" stroke="#fdfdfd" stroke-width="0.7"/><path d="M457.0 638.0L457.2 642.9M479.2 639.7L484.0 645.0" stroke="#b0b0b0" stroke-width="1.1" fill="none" stroke-linecap="round"/>
<path d="M243.7 376.1L255.6 387.9L259.8 393.6L244.9 378.7Z" fill="#c1c1c1" stroke="#c1c1c1" stroke-width="0.7"/><path d="M243.7 376.1L244.9 378.7M255.6 387.9L259.8 393.6" stroke="#b0b0b0" stroke-width="1.1" fill="none" stroke-linecap="round"/>
<path d="M461.4 663.0L491.1 665.3L492.5 671.6L462.8 669.3Z" fill="#ededed" stroke="#ededed" stroke-width="0.7"/><path d="M461.4 663.0L462.8 669.3M491.1 665.3L492.5 671.6" stroke="#b0b0b0" stroke-width="1.1" fill="none" stroke-linecap="round"/>
<path d="M457.2 642.9L484.0 645.0L487.6 651.4L457.9 649.1Z" fill="#ffffff" stroke="#ffffff" stroke-width="0.7"/><path d="M457.2 642.9L457.9 649.1M484.0 645.0L487.6 651.4" stroke="#b0b0b0" stroke-width="1.1" fill="none" stroke-linecap="round"/>
<path d="M316.4 568.8L340.4 583.9L338.8 588.4L314.7 573.3Z" fill="#d4d4d4" stroke="#d4d4d4" stroke-width="0.7"/><path d="M316.4 568.8L314.7 573.3M340.4 583.9L338.8 588.4" stroke="#b0b0b0" stroke-width="1.1" fill="none" stroke-linecap="round"/>
<path d="M323.1 534.9L337.5 543.9L341.4 549.9L323.4 538.6Z" fill="#dddddd" stroke="#dddddd" stroke-width="0.7"/><path d="M323.1 534.9L323.4 538.6M337.5 543.9L341.4 549.9" stroke="#b0b0b0" stroke-width="1.1" fill="none" stroke-linecap="round"/>
<path d="M459.8 656.1L489.5 658.4L491.1 665.3L461.4 663.0Z" fill="#fefefe" stroke="#fefefe" stroke-width="0.7"/><path d="M459.8 656.1L461.4 663.0M489.5 658.4L491.1 665.3" stroke="#b0b0b0" stroke-width="1.1" fill="none" stroke-linecap="round"/>
<path d="M233.0 412.5L252.9 432.3L250.2 436.2L230.4 416.4Z" fill="#d6d6d6" stroke="#d6d6d6" stroke-width="0.7"/><path d="M233.0 412.5L230.4 416.4M252.9 432.3L250.2 436.2" stroke="#b0b0b0" stroke-width="1.1" fill="none" stroke-linecap="round"/>
<path d="M457.9 649.1L487.6 651.4L489.5 658.4L459.8 656.1Z" fill="#ffffff" stroke="#ffffff" stroke-width="0.7"/><path d="M457.9 649.1L459.8 656.1M487.6 651.4L489.5 658.4" stroke="#b0b0b0" stroke-width="1.1" fill="none" stroke-linecap="round"/>
<path d="M244.9 378.7L259.8 393.6L262.5 400.4L244.6 382.6Z" fill="#d6d6d6" stroke="#d6d6d6" stroke-width="0.7"/><path d="M244.9 378.7L244.6 382.6M259.8 393.6L262.5 400.4" stroke="#b0b0b0" stroke-width="1.1" fill="none" stroke-linecap="round"/>
<path d="M323.4 538.6L341.4 549.9L344.1 557.1L322.4 543.5Z" fill="#eeeeee" stroke="#eeeeee" stroke-width="0.7"/><path d="M323.4 538.6L322.4 543.5M341.4 549.9L344.1 557.1" stroke="#b0b0b0" stroke-width="1.1" fill="none" stroke-linecap="round"/>
<path d="M318.2 563.1L342.3 578.2L340.4 583.9L316.4 568.8Z" fill="#e7e7e7" stroke="#e7e7e7" stroke-width="0.7"/><path d="M318.2 563.1L316.4 568.8M342.3 578.2L340.4 583.9" stroke="#b0b0b0" stroke-width="1.1" fill="none" stroke-linecap="round"/>
<path d="M236.1 407.3L256.0 427.1L252.9 432.3L233.0 412.5Z" fill="#e7e7e7" stroke="#e7e7e7" stroke-width="0.7"/><path d="M236.1 407.3L233.0 412.5M256.0 427.1L252.9 432.3" stroke="#b0b0b0" stroke-width="1.1" fill="none" stroke-linecap="round"/>
<path d="M244.6 382.6L262.5 400.4L263.1 407.6L243.3 387.8Z" fill="#e8e8e8" stroke="#e8e8e8" stroke-width="0.7"/><path d="M244.6 382.6L243.3 387.8M262.5 400.4L263.1 407.6" stroke="#b0b0b0" stroke-width="1.1" fill="none" stroke-linecap="round"/>
<path d="M322.4 543.5L344.1 557.1L345.0 564.6L321.0 549.5Z" fill="#f8f8f8" stroke="#f8f8f8" stroke-width="0.7"/><path d="M322.4 543.5L321.0 549.5M344.1 557.1L345.0 564.6" stroke="#b0b0b0" stroke-width="1.1" fill="none" stroke-linecap="round"/>
<path d="M319.9 556.4L343.9 571.6L342.3 578.2L318.2 563.1Z" fill="#f5f5f5" stroke="#f5f5f5" stroke-width="0.7"/><path d="M319.9 556.4L318.2 563.1M343.9 571.6L342.3 578.2" stroke="#b0b0b0" stroke-width="1.1" fill="none" stroke-linecap="round"/>
<path d="M321.0 549.5L345.0 564.6L343.9 571.6L319.9 556.4Z" fill="#fbfbfb" stroke="#fbfbfb" stroke-width="0.7"/><path d="M321.0 549.5L319.9 556.4M345.0 564.6L343.9 571.6" stroke="#b0b0b0" stroke-width="1.1" fill="none" stroke-linecap="round"/>
<path d="M239.1 401.2L259.0 420.9L256.0 427.1L236.1 407.3Z" fill="#f2f2f2" stroke="#f2f2f2" stroke-width="0.7"/><path d="M239.1 401.2L236.1 407.3M259.0 420.9L256.0 427.1" stroke="#b0b0b0" stroke-width="1.1" fill="none" stroke-linecap="round"/>
<path d="M243.3 387.8L263.1 407.6L261.6 414.3L241.7 394.5Z" fill="#f3f3f3" stroke="#f3f3f3" stroke-width="0.7"/><path d="M243.3 387.8L241.7 394.5M263.1 407.6L261.6 414.3" stroke="#b0b0b0" stroke-width="1.1" fill="none" stroke-linecap="round"/>
<path d="M241.7 394.5L261.6 414.3L259.0 420.9L239.1 401.2Z" fill="#f6f6f6" stroke="#f6f6f6" stroke-width="0.7"/><path d="M241.7 394.5L239.1 401.2M261.6 414.3L259.0 420.9" stroke="#b0b0b0" stroke-width="1.1" fill="none" stroke-linecap="round"/>
<path d="M264.0 399.3C264.4 396.1 264.7 381.1 266.0 379.8C267.3 378.5 269.2 387.6 271.9 391.5C274.5 395.4 275.8 401.9 281.6 403.2C287.5 404.5 300.5 398.3 307.0 399.3C313.5 400.3 317.5 404.5 320.7 409.1C324.0 413.6 323.0 421.8 326.6 426.7C330.2 431.6 336.3 436.4 342.2 438.4C348.1 440.4 357.4 439.4 361.7 438.4C366.1 437.4 367.4 433.5 368.6 432.5" fill="none" stroke="#a9a9a9" stroke-width="4" stroke-linecap="round" stroke-linejoin="round"/>
<path d="M264.0 399.3C264.4 396.1 264.7 381.1 266.0 379.8C267.3 378.5 269.2 387.6 271.9 391.5C274.5 395.4 275.8 401.9 281.6 403.2C287.5 404.5 300.5 398.3 307.0 399.3C313.5 400.3 317.5 404.5 320.7 409.1C324.0 413.6 323.0 421.8 326.6 426.7C330.2 431.6 336.3 436.4 342.2 438.4C348.1 440.4 357.4 439.4 361.7 438.4C366.1 437.4 367.4 433.5 368.6 432.5" fill="none" stroke="#f6f6f6" stroke-width="2.40" stroke-linecap="round" stroke-linejoin="round"/>
<path d="M352.0 442.3C354.6 443.3 363.7 444.6 367.6 448.2C371.5 451.8 373.5 459.2 375.4 463.8C377.4 468.4 377.4 474.6 379.3 475.5C381.3 476.5 384.5 472.9 387.2 469.7C389.8 466.4 392.9 460.5 395.0 456.0C397.1 451.4 399.0 444.6 399.9 442.3" fill="none" stroke="#a9a9a9" stroke-width="4" stroke-linecap="round" stroke-linejoin="round"/>
<path d="M352.0 442.3C354.6 443.3 363.7 444.6 367.6 448.2C371.5 451.8 373.5 459.2 375.4 463.8C377.4 468.4 377.4 474.6 379.3 475.5C381.3 476.5 384.5 472.9 387.2 469.7C389.8 466.4 392.9 460.5 395.0 456.0C397.1 451.4 399.0 444.6 399.9 442.3" fill="none" stroke="#f6f6f6" stroke-width="2.40" stroke-linecap="round" stroke-linejoin="round"/>
<path d="M342.2 538.1C346.1 537.4 358.2 536.1 365.7 534.2C373.1 532.2 382.4 526.7 387.2 526.3C391.9 526.0 393.7 528.3 394.0 532.2C394.3 536.1 391.2 543.9 389.1 549.8C387.0 555.7 382.9 562.5 381.3 567.4C379.7 572.3 378.4 576.8 379.3 579.1C380.3 581.4 382.9 582.0 387.2 581.1C391.4 580.1 398.6 573.9 404.7 573.2C410.9 572.6 418.7 574.9 424.3 577.2C429.8 579.4 433.1 586.9 438.0 586.9C442.8 586.9 448.7 580.2 453.6 577.2C458.5 574.1 464.9 569.5 467.3 568.4C469.6 567.2 465.8 568.8 467.8 570.3C469.9 571.8 475.3 575.0 479.5 577.2C483.8 579.3 488.3 581.5 493.2 583.0C498.1 584.5 503.6 586.3 508.9 585.9C514.1 585.6 519.6 583.2 524.5 581.1C529.4 578.9 534.6 574.2 538.2 573.2C541.8 572.3 544.7 574.9 546.0 575.2" fill="none" stroke="#a9a9a9" stroke-width="4" stroke-linecap="round" stroke-linejoin="round"/>
<path d="M342.2 538.1C346.1 537.4 358.2 536.1 365.7 534.2C373.1 532.2 382.4 526.7 387.2 526.3C391.9 526.0 393.7 528.3 394.0 532.2C394.3 536.1 391.2 543.9 389.1 549.8C387.0 555.7 382.9 562.5 381.3 567.4C379.7 572.3 378.4 576.8 379.3 579.1C380.3 581.4 382.9 582.0 387.2 581.1C391.4 580.1 398.6 573.9 404.7 573.2C410.9 572.6 418.7 574.9 424.3 577.2C429.8 579.4 433.1 586.9 438.0 586.9C442.8 586.9 448.7 580.2 453.6 577.2C458.5 574.1 464.9 569.5 467.3 568.4C469.6 567.2 465.8 568.8 467.8 570.3C469.9 571.8 475.3 575.0 479.5 577.2C483.8 579.3 488.3 581.5 493.2 583.0C498.1 584.5 503.6 586.3 508.9 585.9C514.1 585.6 519.6 583.2 524.5 581.1C529.4 578.9 534.6 574.2 538.2 573.2C541.8 572.3 544.7 574.9 546.0 575.2" fill="none" stroke="#f6f6f6" stroke-width="2.40" stroke-linecap="round" stroke-linejoin="round"/>
<path d="M565.5 443.9C568.8 444.6 579.2 447.1 585.1 448.2C590.9 449.2 596.1 450.5 600.7 450.1C605.3 449.8 609.5 448.5 612.4 446.2C615.4 443.9 616.7 440.7 618.3 436.4C619.9 432.2 619.9 424.6 622.2 420.8C624.5 417.1 628.1 414.6 632.0 414.0C635.9 413.3 640.8 415.8 645.7 416.9C650.5 418.0 657.1 421.0 661.3 420.8C665.5 420.6 667.8 418.9 671.1 415.9C674.3 413.0 678.2 405.5 680.8 403.2C683.4 400.9 685.2 400.3 686.7 402.2C688.2 404.2 688.3 412.3 689.6 414.9C690.9 417.6 693.7 417.4 694.5 417.9" fill="none" stroke="#7c7c7c" stroke-width="4" stroke-linecap="round" stroke-linejoin="round"/>
<path d="M565.5 443.9C568.8 444.6 579.2 447.1 585.1 448.2C590.9 449.2 596.1 450.5 600.7 450.1C605.3 449.8 609.5 448.5 612.4 446.2C615.4 443.9 616.7 440.7 618.3 436.4C619.9 432.2 619.9 424.6 622.2 420.8C624.5 417.1 628.1 414.6 632.0 414.0C635.9 413.3 640.8 415.8 645.7 416.9C650.5 418.0 657.1 421.0 661.3 420.8C665.5 420.6 667.8 418.9 671.1 415.9C674.3 413.0 678.2 405.5 680.8 403.2C683.4 400.9 685.2 400.3 686.7 402.2C688.2 404.2 688.3 412.3 689.6 414.9C690.9 417.6 693.7 417.4 694.5 417.9" fill="none" stroke="#b4b4b4" stroke-width="1.36" stroke-linecap="round" stroke-linejoin="round"/>
<path d="M540.1 458.9C541.4 461.0 545.3 467.2 547.9 471.6C550.5 476.0 553.5 481.4 555.8 485.3C558.0 489.2 559.8 493.4 561.6 495.1C563.4 496.7 565.7 497.0 566.5 495.1C567.3 493.1 566.5 485.3 566.5 483.3" fill="none" stroke="#7c7c7c" stroke-width="4" stroke-linecap="round" stroke-linejoin="round"/>
<path d="M540.1 458.9C541.4 461.0 545.3 467.2 547.9 471.6C550.5 476.0 553.5 481.4 555.8 485.3C558.0 489.2 559.8 493.4 561.6 495.1C563.4 496.7 565.7 497.0 566.5 495.1C567.3 493.1 566.5 485.3 566.5 483.3" fill="none" stroke="#b4b4b4" stroke-width="1.36" stroke-linecap="round" stroke-linejoin="round"/>
<path d="M632.0 565.4C635.9 564.6 649.9 560.5 655.4 560.5C661.0 560.5 662.3 562.3 665.2 565.4C668.1 568.5 669.8 575.5 673.0 579.1C676.3 582.7 679.5 585.5 684.7 586.9C690.0 588.4 700.0 586.9 704.3 587.9C708.5 588.9 709.8 590.3 710.1 592.8C710.5 595.2 709.5 599.3 706.2 602.6C703.0 605.8 697.1 610.0 690.6 612.3C684.1 614.6 673.3 614.3 667.2 616.2C661.0 618.2 656.4 620.5 653.5 624.1C650.5 627.6 650.9 633.5 649.6 637.7C648.3 642.0 647.9 647.2 645.7 649.5C643.4 651.7 640.8 651.7 635.9 651.4C631.0 651.1 619.6 648.2 616.3 647.5" fill="none" stroke="#a9a9a9" stroke-width="4" stroke-linecap="round" stroke-linejoin="round"/>
<path d="M632.0 565.4C635.9 564.6 649.9 560.5 655.4 560.5C661.0 560.5 662.3 562.3 665.2 565.4C668.1 568.5 669.8 575.5 673.0 579.1C676.3 582.7 679.5 585.5 684.7 586.9C690.0 588.4 700.0 586.9 704.3 587.9C708.5 588.9 709.8 590.3 710.1 592.8C710.5 595.2 709.5 599.3 706.2 602.6C703.0 605.8 697.1 610.0 690.6 612.3C684.1 614.6 673.3 614.3 667.2 616.2C661.0 618.2 656.4 620.5 653.5 624.1C650.5 627.6 650.9 633.5 649.6 637.7C648.3 642.0 647.9 647.2 645.7 649.5C643.4 651.7 640.8 651.7 635.9 651.4C631.0 651.1 619.6 648.2 616.3 647.5" fill="none" stroke="#f6f6f6" stroke-width="2.40" stroke-linecap="round" stroke-linejoin="round"/>
<path d="M407.5 236.0C404.9 236.2 396.4 237.3 391.5 237.2C386.7 237.0 381.5 236.8 378.2 235.1C375.0 233.4 372.6 230.3 372.0 227.1C371.4 223.8 373.2 219.7 374.7 215.5C376.1 211.4 379.2 206.6 380.5 202.2C381.9 197.7 381.1 193.0 382.7 188.9C384.2 184.7 385.6 180.4 389.8 177.3C393.9 174.2 401.9 170.3 407.5 170.2C413.2 170.0 419.7 173.3 423.5 176.4C427.3 179.5 429.3 183.8 430.3 188.9C431.2 193.9 429.9 200.1 429.2 206.6C428.5 213.1 427.7 222.5 426.2 228.0C424.7 233.4 422.8 236.5 420.0 239.5C417.2 242.5 412.7 244.9 409.3 245.7C405.9 246.5 402.6 245.4 399.5 244.3C396.4 243.2 392.1 239.9 390.6 239.0" fill="none" stroke="#d30606" stroke-width="3.5" stroke-linecap="round" stroke-linejoin="round"/>
<path d="M407.5 236.0C404.9 236.2 396.4 237.3 391.5 237.2C386.7 237.0 381.5 236.8 378.2 235.1C375.0 233.4 372.6 230.3 372.0 227.1C371.4 223.8 373.2 219.7 374.7 215.5C376.1 211.4 379.2 206.6 380.5 202.2C381.9 197.7 381.1 193.0 382.7 188.9C384.2 184.7 385.6 180.4 389.8 177.3C393.9 174.2 401.9 170.3 407.5 170.2C413.2 170.0 419.7 173.3 423.5 176.4C427.3 179.5 429.3 183.8 430.3 188.9C431.2 193.9 429.9 200.1 429.2 206.6C428.5 213.1 427.7 222.5 426.2 228.0C424.7 233.4 422.8 236.5 420.0 239.5C417.2 242.5 412.7 244.9 409.3 245.7C405.9 246.5 402.6 245.4 399.5 244.3C396.4 243.2 392.1 239.9 390.6 239.0" fill="none" stroke="#ee1a1a" stroke-width="1.19" stroke-linecap="round" stroke-linejoin="round"/>
<path d="M393.3 240.4C391.2 240.6 384.7 240.8 380.9 241.8C377.1 242.9 372.7 244.3 370.6 246.6C368.4 248.9 367.9 251.9 367.9 255.5C367.9 259.1 368.9 263.9 370.6 267.9C372.2 272.0 374.9 276.0 377.7 279.8C380.4 283.7 383.7 288.4 387.1 291.0C390.4 293.6 395.0 293.9 397.8 295.5C400.5 297.1 402.1 298.2 403.6 300.8C405.1 303.5 406.2 307.6 406.6 311.5C407.1 315.3 405.7 320.5 406.1 323.9C406.6 327.3 407.3 329.8 409.3 331.9C411.3 334.0 413.6 336.0 418.2 336.4C422.8 336.7 432.4 333.9 436.9 334.2C441.3 334.5 443.2 335.9 444.9 338.1C446.5 340.4 447.3 343.9 447.0 347.9C446.6 351.9 443.7 358.1 442.7 362.1C441.8 366.1 440.7 369.8 441.3 371.9C441.9 374.0 443.0 375.6 446.3 374.6C449.5 373.5 456.6 366.4 460.8 365.7C465.1 365.0 468.3 367.5 471.5 370.5C474.8 373.4 477.7 379.2 480.4 383.5C483.1 387.7 486.3 393.8 487.5 395.9" fill="none" stroke="#d30606" stroke-width="3.5" stroke-linecap="butt" stroke-linejoin="round"/>
<path d="M393.3 240.4C391.2 240.6 384.7 240.8 380.9 241.8C377.1 242.9 372.7 244.3 370.6 246.6C368.4 248.9 367.9 251.9 367.9 255.5C367.9 259.1 368.9 263.9 370.6 267.9C372.2 272.0 374.9 276.0 377.7 279.8C380.4 283.7 383.7 288.4 387.1 291.0C390.4 293.6 395.0 293.9 397.8 295.5C400.5 297.1 402.1 298.2 403.6 300.8C405.1 303.5 406.2 307.6 406.6 311.5C407.1 315.3 405.7 320.5 406.1 323.9C406.6 327.3 407.3 329.8 409.3 331.9C411.3 334.0 413.6 336.0 418.2 336.4C422.8 336.7 432.4 333.9 436.9 334.2C441.3 334.5 443.2 335.9 444.9 338.1C446.5 340.4 447.3 343.9 447.0 347.9C446.6 351.9 443.7 358.1 442.7 362.1C441.8 366.1 440.7 369.8 441.3 371.9C441.9 374.0 443.0 375.6 446.3 374.6C449.5 373.5 456.6 366.4 460.8 365.7C465.1 365.0 468.3 367.5 471.5 370.5C474.8 373.4 477.7 379.2 480.4 383.5C483.1 387.7 486.3 393.8 487.5 395.9" fill="none" stroke="#ee1a1a" stroke-width="1.19" stroke-linecap="butt" stroke-linejoin="round"/>
<path d="M398.6 244.3C400.0 245.1 404.9 247.3 406.6 249.3C408.4 251.3 409.6 253.7 409.3 256.4C409.0 259.1 406.7 261.9 404.9 265.3C403.0 268.7 399.6 273.4 398.3 276.8C397.0 280.2 396.5 282.7 396.9 285.7C397.3 288.7 399.5 292.1 400.8 294.6C402.0 297.1 403.7 299.8 404.3 300.8" fill="none" stroke="#d30606" stroke-width="3.5" stroke-linecap="round" stroke-linejoin="round"/>
<path d="M398.6 244.3C400.0 245.1 404.9 247.3 406.6 249.3C408.4 251.3 409.6 253.7 409.3 256.4C409.0 259.1 406.7 261.9 404.9 265.3C403.0 268.7 399.6 273.4 398.3 276.8C397.0 280.2 396.5 282.7 396.9 285.7C397.3 288.7 399.5 292.1 400.8 294.6C402.0 297.1 403.7 299.8 404.3 300.8" fill="none" stroke="#ee1a1a" stroke-width="1.19" stroke-linecap="round" stroke-linejoin="round"/>
<path d="M403.1 300.8C402.9 303.5 402.8 311.8 402.2 316.8C401.6 321.8 400.0 328.7 399.5 331.0" fill="none" stroke="#b00808" stroke-width="3.5" stroke-linecap="round" stroke-linejoin="round"/>
<path d="M407.5 321.3C408.4 320.6 410.9 316.7 412.5 317.2C414.1 317.6 416.0 320.4 417.3 323.9C418.6 327.4 419.4 332.5 420.3 338.1C421.2 343.8 422.3 352.4 422.6 357.7C422.9 363.0 423.0 365.4 422.1 370.1C421.2 374.9 419.1 381.1 417.3 386.1C415.5 391.2 412.1 398.0 411.1 400.3" fill="none" stroke="#d30606" stroke-width="3.5" stroke-linecap="round" stroke-linejoin="round"/>
<path d="M407.5 321.3C408.4 320.6 410.9 316.7 412.5 317.2C414.1 317.6 416.0 320.4 417.3 323.9C418.6 327.4 419.4 332.5 420.3 338.1C421.2 343.8 422.3 352.4 422.6 357.7C422.9 363.0 423.0 365.4 422.1 370.1C421.2 374.9 419.1 381.1 417.3 386.1C415.5 391.2 412.1 398.0 411.1 400.3" fill="none" stroke="#ee1a1a" stroke-width="1.19" stroke-linecap="round" stroke-linejoin="round"/>
<path d="M421.7 346.4C421.9 349.7 422.9 360.4 422.6 366.0C422.3 371.6 421.3 375.5 420.0 380.2C418.6 385.0 416.7 390.3 414.6 394.4C412.6 398.6 408.7 403.3 407.5 405.1" fill="none" stroke="#b80606" stroke-width="3.5" stroke-linecap="round" stroke-linejoin="round"/>
<path d="M421.7 346.4C421.9 349.7 422.9 360.4 422.6 366.0C422.3 371.6 421.3 375.5 420.0 380.2C418.6 385.0 416.7 390.3 414.6 394.4C412.6 398.6 408.7 403.3 407.5 405.1" fill="none" stroke="#e01a1a" stroke-width="1.19" stroke-linecap="round" stroke-linejoin="round"/>
<path d="M414.6 394.4C413.5 396.2 411.1 402.3 407.5 405.1C404.0 407.9 398.1 409.4 393.3 411.3C388.6 413.2 382.9 414.7 379.1 416.6C375.2 418.6 372.1 420.3 370.2 422.9C368.3 425.4 368.0 430.3 367.5 431.7" fill="none" stroke="#8e0000" stroke-width="3.5" stroke-linecap="round" stroke-linejoin="round"/>
<path d="M414.6 394.4C413.5 396.2 411.1 402.3 407.5 405.1C404.0 407.9 398.1 409.4 393.3 411.3C388.6 413.2 382.9 414.7 379.1 416.6C375.2 418.6 372.1 420.3 370.2 422.9C368.3 425.4 368.0 430.3 367.5 431.7" fill="none" stroke="#c41010" stroke-width="1.19" stroke-linecap="round" stroke-linejoin="round"/>
<path d="M367.5 428.2C367.5 429.1 367.5 432.6 367.5 433.5" fill="none" stroke="#d30606" stroke-width="3.5" stroke-linecap="round" stroke-linejoin="round"/>
<path d="M553.3 152.4C554.1 151.8 557.8 151.4 558.6 148.9C559.3 146.4 558.7 141.6 557.7 137.3C556.7 133.0 554.6 126.7 552.4 123.1C550.1 119.5 547.8 117.7 544.4 116.0C541.0 114.3 536.4 112.6 531.9 112.8C527.5 112.9 521.7 114.6 517.7 116.9C513.7 119.2 510.0 123.1 507.9 126.7C505.9 130.2 505.5 134.4 505.6 138.2C505.8 142.1 506.8 145.5 508.8 149.8C510.8 154.1 514.8 159.8 517.7 164.0C520.7 168.1 523.6 172.0 526.6 174.6C529.6 177.3 532.2 178.8 535.5 180.0C538.7 181.2 542.6 182.2 546.1 181.7C549.7 181.3 553.3 178.8 556.8 177.3C560.4 175.8 563.9 173.0 567.5 172.9C571.0 172.7 575.3 174.0 578.1 176.4C581.0 178.8 583.0 182.6 584.4 187.1C585.7 191.5 586.3 198.0 586.1 203.1C586.0 208.1 584.7 212.6 583.5 217.3C582.3 222.0 580.5 228.3 579.0 231.5C577.5 234.8 576.2 236.2 574.6 236.8C573.0 237.4 570.4 234.8 569.3 235.1C568.1 235.4 567.2 236.0 567.8 238.6C568.4 241.3 570.8 246.9 572.8 251.1C574.8 255.2 578.4 260.2 579.9 263.5C581.4 266.8 582.3 268.8 581.7 270.6C581.1 272.4 579.3 273.9 576.4 274.2C573.4 274.5 567.0 272.1 563.9 272.4C560.8 272.7 559.2 273.9 557.7 275.9C556.2 278.0 555.3 281.0 555.0 284.8C554.7 288.7 555.8 295.2 555.9 299.0C556.1 302.9 556.5 305.7 555.9 307.9C555.3 310.1 553.0 311.6 552.4 312.4" fill="none" stroke="#d30606" stroke-width="3.5" stroke-linecap="round" stroke-linejoin="round"/>
<path d="M553.3 152.4C554.1 151.8 557.8 151.4 558.6 148.9C559.3 146.4 558.7 141.6 557.7 137.3C556.7 133.0 554.6 126.7 552.4 123.1C550.1 119.5 547.8 117.7 544.4 116.0C541.0 114.3 536.4 112.6 531.9 112.8C527.5 112.9 521.7 114.6 517.7 116.9C513.7 119.2 510.0 123.1 507.9 126.7C505.9 130.2 505.5 134.4 505.6 138.2C505.8 142.1 506.8 145.5 508.8 149.8C510.8 154.1 514.8 159.8 517.7 164.0C520.7 168.1 523.6 172.0 526.6 174.6C529.6 177.3 532.2 178.8 535.5 180.0C538.7 181.2 542.6 182.2 546.1 181.7C549.7 181.3 553.3 178.8 556.8 177.3C560.4 175.8 563.9 173.0 567.5 172.9C571.0 172.7 575.3 174.0 578.1 176.4C581.0 178.8 583.0 182.6 584.4 187.1C585.7 191.5 586.3 198.0 586.1 203.1C586.0 208.1 584.7 212.6 583.5 217.3C582.3 222.0 580.5 228.3 579.0 231.5C577.5 234.8 576.2 236.2 574.6 236.8C573.0 237.4 570.4 234.8 569.3 235.1C568.1 235.4 567.2 236.0 567.8 238.6C568.4 241.3 570.8 246.9 572.8 251.1C574.8 255.2 578.4 260.2 579.9 263.5C581.4 266.8 582.3 268.8 581.7 270.6C581.1 272.4 579.3 273.9 576.4 274.2C573.4 274.5 567.0 272.1 563.9 272.4C560.8 272.7 559.2 273.9 557.7 275.9C556.2 278.0 555.3 281.0 555.0 284.8C554.7 288.7 555.8 295.2 555.9 299.0C556.1 302.9 556.5 305.7 555.9 307.9C555.3 310.1 553.0 311.6 552.4 312.4" fill="none" stroke="#ee1a1a" stroke-width="1.19" stroke-linecap="round" stroke-linejoin="round"/>
<path d="M553.3 152.4C553.3 153.5 552.4 156.0 553.3 158.6C554.1 161.3 556.7 165.5 558.6 168.4C560.5 171.4 563.3 173.8 564.8 176.4C566.3 179.1 567.5 181.7 567.5 184.4C567.5 187.1 566.4 190.2 564.8 192.4C563.2 194.6 560.8 196.3 557.7 197.7C554.6 199.2 549.6 199.8 546.1 200.9C542.7 202.1 539.2 203.3 537.3 204.9C535.3 206.4 534.3 208.7 534.6 210.2C534.9 211.7 537.1 212.6 539.0 213.7C541.0 214.9 544.8 215.8 546.1 217.3C547.5 218.8 547.9 220.3 547.0 222.6C546.1 225.0 543.0 228.5 540.8 231.5C538.6 234.5 535.2 237.6 533.7 240.4C532.2 243.2 531.4 245.7 531.6 248.4C531.7 251.1 532.8 253.7 534.6 256.4C536.4 259.1 540.1 261.9 542.6 264.4C545.1 266.9 548.1 269.0 549.7 271.5C551.3 274.0 552.2 276.1 552.4 279.5C552.5 282.9 551.5 287.8 550.6 291.9C549.7 296.1 547.8 301.1 547.0 304.4C546.3 307.6 546.0 308.5 546.1 311.5C546.3 314.4 547.5 318.6 547.9 322.1C548.4 325.7 549.4 329.3 548.8 332.8C548.2 336.4 546.6 341.1 544.4 343.5C542.2 345.8 539.3 346.3 535.5 347.0C531.6 347.8 524.8 347.0 521.3 347.9C517.7 348.8 515.5 350.1 514.2 352.4C512.8 354.6 512.4 357.7 513.3 361.2C514.2 364.8 517.6 370.1 519.5 373.7C521.4 377.2 524.5 379.9 524.8 382.6C525.1 385.2 523.0 388.2 521.3 389.7C519.5 391.2 517.1 391.5 514.2 391.5C511.2 391.5 506.8 389.4 503.5 389.7C500.2 390.0 497.0 391.2 494.6 393.2C492.2 395.3 490.2 400.6 489.3 402.1" fill="none" stroke="#d30606" stroke-width="3.5" stroke-linecap="round" stroke-linejoin="round"/>
<path d="M553.3 152.4C553.3 153.5 552.4 156.0 553.3 158.6C554.1 161.3 556.7 165.5 558.6 168.4C560.5 171.4 563.3 173.8 564.8 176.4C566.3 179.1 567.5 181.7 567.5 184.4C567.5 187.1 566.4 190.2 564.8 192.4C563.2 194.6 560.8 196.3 557.7 197.7C554.6 199.2 549.6 199.8 546.1 200.9C542.7 202.1 539.2 203.3 537.3 204.9C535.3 206.4 534.3 208.7 534.6 210.2C534.9 211.7 537.1 212.6 539.0 213.7C541.0 214.9 544.8 215.8 546.1 217.3C547.5 218.8 547.9 220.3 547.0 222.6C546.1 225.0 543.0 228.5 540.8 231.5C538.6 234.5 535.2 237.6 533.7 240.4C532.2 243.2 531.4 245.7 531.6 248.4C531.7 251.1 532.8 253.7 534.6 256.4C536.4 259.1 540.1 261.9 542.6 264.4C545.1 266.9 548.1 269.0 549.7 271.5C551.3 274.0 552.2 276.1 552.4 279.5C552.5 282.9 551.5 287.8 550.6 291.9C549.7 296.1 547.8 301.1 547.0 304.4C546.3 307.6 546.0 308.5 546.1 311.5C546.3 314.4 547.5 318.6 547.9 322.1C548.4 325.7 549.4 329.3 548.8 332.8C548.2 336.4 546.6 341.1 544.4 343.5C542.2 345.8 539.3 346.3 535.5 347.0C531.6 347.8 524.8 347.0 521.3 347.9C517.7 348.8 515.5 350.1 514.2 352.4C512.8 354.6 512.4 357.7 513.3 361.2C514.2 364.8 517.6 370.1 519.5 373.7C521.4 377.2 524.5 379.9 524.8 382.6C525.1 385.2 523.0 388.2 521.3 389.7C519.5 391.2 517.1 391.5 514.2 391.5C511.2 391.5 506.8 389.4 503.5 389.7C500.2 390.0 497.0 391.2 494.6 393.2C492.2 395.3 490.2 400.6 489.3 402.1" fill="none" stroke="#ee1a1a" stroke-width="1.19" stroke-linecap="round" stroke-linejoin="round"/>
<path d="M552.4 313.3C553.0 315.3 554.7 321.0 555.9 325.7C557.1 330.4 558.8 337.5 559.5 341.7C560.2 345.8 560.5 347.3 560.0 350.6C559.6 353.8 558.1 357.4 556.8 361.2C555.5 365.1 553.3 369.8 552.4 373.7C551.5 377.5 551.3 381.1 551.5 384.3C551.6 387.6 552.4 390.3 553.3 393.2C554.1 396.2 556.2 400.6 556.8 402.1" fill="none" stroke="#d30606" stroke-width="3.5" stroke-linecap="round" stroke-linejoin="round"/>
<path d="M552.4 313.3C553.0 315.3 554.7 321.0 555.9 325.7C557.1 330.4 558.8 337.5 559.5 341.7C560.2 345.8 560.5 347.3 560.0 350.6C559.6 353.8 558.1 357.4 556.8 361.2C555.5 365.1 553.3 369.8 552.4 373.7C551.5 377.5 551.3 381.1 551.5 384.3C551.6 387.6 552.4 390.3 553.3 393.2C554.1 396.2 556.2 400.6 556.8 402.1" fill="none" stroke="#ee1a1a" stroke-width="1.19" stroke-linecap="round" stroke-linejoin="round"/>
<path d="M519.5 350.0C518.6 350.9 514.9 353.0 514.2 355.3C513.4 357.7 513.9 360.7 515.0 364.2C516.2 367.8 519.5 373.3 521.3 376.7C523.0 380.1 525.7 382.1 525.7 384.7C525.7 387.2 524.7 390.9 521.3 391.8C517.9 392.7 509.4 389.7 505.3 390.0C501.1 390.3 498.9 391.6 496.4 393.5C493.9 395.5 491.8 398.4 490.2 401.5C488.5 404.6 487.9 408.5 486.6 412.2C485.3 415.9 482.9 421.8 482.2 423.8" fill="none" stroke="#d30606" stroke-width="3.5" stroke-linecap="butt" stroke-linejoin="round"/>
<path d="M519.5 350.0C518.6 350.9 514.9 353.0 514.2 355.3C513.4 357.7 513.9 360.7 515.0 364.2C516.2 367.8 519.5 373.3 521.3 376.7C523.0 380.1 525.7 382.1 525.7 384.7C525.7 387.2 524.7 390.9 521.3 391.8C517.9 392.7 509.4 389.7 505.3 390.0C501.1 390.3 498.9 391.6 496.4 393.5C493.9 395.5 491.8 398.4 490.2 401.5C488.5 404.6 487.9 408.5 486.6 412.2C485.3 415.9 482.9 421.8 482.2 423.8" fill="none" stroke="#ee1a1a" stroke-width="1.19" stroke-linecap="butt" stroke-linejoin="round"/>
<path d="M444.9 350.0C444.3 351.8 441.7 357.1 441.3 360.7C440.9 364.2 441.3 369.1 442.2 371.3C443.1 373.5 443.5 374.7 446.6 374.0C449.7 373.3 456.7 367.3 460.8 366.9C465.0 366.4 468.3 368.5 471.5 371.3C474.8 374.1 477.7 379.6 480.4 383.8C483.1 387.9 486.3 394.1 487.5 396.2" fill="none" stroke="#d30606" stroke-width="3.5" stroke-linecap="butt" stroke-linejoin="round"/>
<path d="M444.9 350.0C444.3 351.8 441.7 357.1 441.3 360.7C440.9 364.2 441.3 369.1 442.2 371.3C443.1 373.5 443.5 374.7 446.6 374.0C449.7 373.3 456.7 367.3 460.8 366.9C465.0 366.4 468.3 368.5 471.5 371.3C474.8 374.1 477.7 379.6 480.4 383.8C483.1 387.9 486.3 394.1 487.5 396.2" fill="none" stroke="#ee1a1a" stroke-width="1.19" stroke-linecap="butt" stroke-linejoin="round"/>
<path d="M560.4 350.0C559.9 352.1 559.0 358.3 557.7 362.4C556.4 366.6 553.4 371.0 552.4 374.9C551.3 378.7 550.9 381.7 551.5 385.5C552.1 389.4 554.8 394.1 555.9 398.0C557.0 401.8 558.2 404.8 558.2 408.6C558.2 412.5 556.3 417.2 555.9 421.1C555.5 424.9 555.2 428.5 555.9 431.7C556.7 435.0 558.9 438.7 560.4 440.6C561.8 442.6 564.1 442.9 564.8 443.3" fill="none" stroke="#d30606" stroke-width="3.5" stroke-linecap="round" stroke-linejoin="round"/>
<path d="M560.4 350.0C559.9 352.1 559.0 358.3 557.7 362.4C556.4 366.6 553.4 371.0 552.4 374.9C551.3 378.7 550.9 381.7 551.5 385.5C552.1 389.4 554.8 394.1 555.9 398.0C557.0 401.8 558.2 404.8 558.2 408.6C558.2 412.5 556.3 417.2 555.9 421.1C555.5 424.9 555.2 428.5 555.9 431.7C556.7 435.0 558.9 438.7 560.4 440.6C561.8 442.6 564.1 442.9 564.8 443.3" fill="none" stroke="#ee1a1a" stroke-width="1.19" stroke-linecap="round" stroke-linejoin="round"/>
<path d="M398.6 442.4C399.1 440.6 399.7 435.3 401.3 431.7C402.9 428.2 405.6 424.3 408.4 421.1C411.2 417.8 414.8 414.6 418.2 412.2C421.6 409.8 425.9 407.5 428.9 406.9C431.8 406.3 435.4 407.6 436.0 408.6C436.6 409.7 435.1 412.2 432.4 413.1C429.7 414.0 424.1 413.7 420.0 414.0C415.8 414.3 409.8 414.4 407.5 414.9C405.2 415.3 405.5 417.0 406.1 416.6C406.7 416.3 408.2 413.4 411.1 412.6C414.0 411.7 419.4 410.9 423.5 411.3C427.7 411.7 432.1 413.2 436.0 414.9C439.8 416.5 444.0 418.6 446.6 421.1C449.3 423.6 451.2 426.7 452.0 430.0C452.7 433.2 452.3 437.4 451.1 440.6C449.9 443.9 447.7 447.2 444.9 449.5C442.0 451.9 437.7 454.3 434.2 454.9C430.6 455.4 427.1 452.9 423.5 453.1C420.0 453.2 414.9 454.7 412.9 455.7C410.8 456.8 410.2 458.4 411.1 459.3C412.0 460.2 414.9 461.5 418.2 461.1C421.5 460.6 427.1 457.5 430.6 456.6C434.2 455.7 436.3 454.6 439.5 455.7C442.8 456.9 447.2 460.3 450.2 463.7C453.1 467.1 455.2 471.7 457.3 476.2C459.4 480.6 462.3 486.8 462.6 490.4C462.9 493.9 461.1 495.7 459.1 497.5C457.0 499.3 454.6 500.5 450.2 501.1C445.7 501.6 438.5 501.4 432.4 501.1C426.3 500.8 414.9 500.5 413.8 499.3C412.6 498.1 420.7 495.6 425.3 493.9C429.9 492.3 438.6 490.2 441.3 489.5" fill="none" stroke="#0c68d0" stroke-width="3.9" stroke-linecap="round" stroke-linejoin="round"/>
<path d="M398.6 442.4C399.1 440.6 399.7 435.3 401.3 431.7C402.9 428.2 405.6 424.3 408.4 421.1C411.2 417.8 414.8 414.6 418.2 412.2C421.6 409.8 425.9 407.5 428.9 406.9C431.8 406.3 435.4 407.6 436.0 408.6C436.6 409.7 435.1 412.2 432.4 413.1C429.7 414.0 424.1 413.7 420.0 414.0C415.8 414.3 409.8 414.4 407.5 414.9C405.2 415.3 405.5 417.0 406.1 416.6C406.7 416.3 408.2 413.4 411.1 412.6C414.0 411.7 419.4 410.9 423.5 411.3C427.7 411.7 432.1 413.2 436.0 414.9C439.8 416.5 444.0 418.6 446.6 421.1C449.3 423.6 451.2 426.7 452.0 430.0C452.7 433.2 452.3 437.4 451.1 440.6C449.9 443.9 447.7 447.2 444.9 449.5C442.0 451.9 437.7 454.3 434.2 454.9C430.6 455.4 427.1 452.9 423.5 453.1C420.0 453.2 414.9 454.7 412.9 455.7C410.8 456.8 410.2 458.4 411.1 459.3C412.0 460.2 414.9 461.5 418.2 461.1C421.5 460.6 427.1 457.5 430.6 456.6C434.2 455.7 436.3 454.6 439.5 455.7C442.8 456.9 447.2 460.3 450.2 463.7C453.1 467.1 455.2 471.7 457.3 476.2C459.4 480.6 462.3 486.8 462.6 490.4C462.9 493.9 461.1 495.7 459.1 497.5C457.0 499.3 454.6 500.5 450.2 501.1C445.7 501.6 438.5 501.4 432.4 501.1C426.3 500.8 414.9 500.5 413.8 499.3C412.6 498.1 420.7 495.6 425.3 493.9C429.9 492.3 438.6 490.2 441.3 489.5" fill="none" stroke="#2684ea" stroke-width="1.33" stroke-linecap="round" stroke-linejoin="round"/>
<path d="M453.7 474.4L459.4 480.6L463.5 490.4L460.8 496.6L453.7 500.7L456.4 490.4Z" fill="#0c68d0" stroke="#0c68d0" stroke-width="1.5" stroke-linejoin="round"/>
<path d="M413.8 498.9L432.4 500.7L453.7 500.2L446.6 508.2L439.5 512.1L432.4 510.8L423.5 504.6Z" fill="#0c68d0" stroke="#0c68d0" stroke-width="1.5" stroke-linejoin="round"/>
<path d="M540.8 457.5C539.6 456.8 536.7 454.3 533.7 453.1C530.7 451.8 526.9 449.9 523.0 449.9C519.2 449.9 514.5 451.4 510.6 453.1C506.8 454.8 502.6 458.4 499.9 460.2C497.3 462.0 495.8 461.7 494.6 463.7C493.4 465.8 493.3 469.4 492.8 472.6C492.4 475.9 492.1 481.5 491.9 483.3" fill="none" stroke="#0c68d0" stroke-width="3.9" stroke-linecap="round" stroke-linejoin="round"/>
<path d="M540.8 457.5C539.6 456.8 536.7 454.3 533.7 453.1C530.7 451.8 526.9 449.9 523.0 449.9C519.2 449.9 514.5 451.4 510.6 453.1C506.8 454.8 502.6 458.4 499.9 460.2C497.3 462.0 495.8 461.7 494.6 463.7C493.4 465.8 493.3 469.4 492.8 472.6C492.4 475.9 492.1 481.5 491.9 483.3" fill="none" stroke="#2684ea" stroke-width="1.33" stroke-linecap="round" stroke-linejoin="round"/>
<path d="M494.6 463.7C492.8 464.3 486.8 464.9 483.9 467.3C481.1 469.7 478.9 473.8 477.7 478.0C476.5 482.1 476.4 487.7 476.8 492.2C477.3 496.6 478.6 501.2 480.4 504.6C482.2 508.0 484.8 510.8 487.5 512.6C490.2 514.4 493.1 515.3 496.4 515.3C499.6 515.3 503.5 514.1 507.1 512.6C510.6 511.1 514.8 508.9 517.7 506.4C520.7 503.9 523.3 500.2 524.8 497.5C526.3 494.8 527.2 492.2 526.6 490.4C526.0 488.6 523.6 486.8 521.3 486.8C518.9 486.8 515.0 488.0 512.4 490.4C509.7 492.8 507.2 496.9 505.3 501.1C503.3 505.2 501.6 510.8 500.8 515.3C500.1 519.7 500.1 523.9 500.8 527.7C501.6 531.6 503.1 535.4 505.3 538.4C507.5 541.3 510.9 543.4 514.2 545.5C517.4 547.6 521.0 550.2 524.8 550.8C528.7 551.4 533.4 550.5 537.3 549.0C541.1 547.6 545.1 544.9 547.9 541.9C550.7 539.0 553.3 535.1 554.1 531.3C555.0 527.4 554.3 522.5 553.3 518.8C552.2 515.1 550.0 510.8 547.9 509.1C545.9 507.3 543.5 507.1 540.8 508.2C538.2 509.2 534.9 512.0 531.9 515.3C529.0 518.5 525.7 523.6 523.0 527.7C520.4 531.9 517.1 538.1 515.9 540.2" fill="none" stroke="#0c68d0" stroke-width="3.9" stroke-linecap="round" stroke-linejoin="round"/>
<path d="M494.6 463.7C492.8 464.3 486.8 464.9 483.9 467.3C481.1 469.7 478.9 473.8 477.7 478.0C476.5 482.1 476.4 487.7 476.8 492.2C477.3 496.6 478.6 501.2 480.4 504.6C482.2 508.0 484.8 510.8 487.5 512.6C490.2 514.4 493.1 515.3 496.4 515.3C499.6 515.3 503.5 514.1 507.1 512.6C510.6 511.1 514.8 508.9 517.7 506.4C520.7 503.9 523.3 500.2 524.8 497.5C526.3 494.8 527.2 492.2 526.6 490.4C526.0 488.6 523.6 486.8 521.3 486.8C518.9 486.8 515.0 488.0 512.4 490.4C509.7 492.8 507.2 496.9 505.3 501.1C503.3 505.2 501.6 510.8 500.8 515.3C500.1 519.7 500.1 523.9 500.8 527.7C501.6 531.6 503.1 535.4 505.3 538.4C507.5 541.3 510.9 543.4 514.2 545.5C517.4 547.6 521.0 550.2 524.8 550.8C528.7 551.4 533.4 550.5 537.3 549.0C541.1 547.6 545.1 544.9 547.9 541.9C550.7 539.0 553.3 535.1 554.1 531.3C555.0 527.4 554.3 522.5 553.3 518.8C552.2 515.1 550.0 510.8 547.9 509.1C545.9 507.3 543.5 507.1 540.8 508.2C538.2 509.2 534.9 512.0 531.9 515.3C529.0 518.5 525.7 523.6 523.0 527.7C520.4 531.9 517.1 538.1 515.9 540.2" fill="none" stroke="#2684ea" stroke-width="1.33" stroke-linecap="round" stroke-linejoin="round"/>
<path d="M546.1 508.2L552.4 517.1L555.0 525.9L553.3 536.6L546.1 541.9L548.8 527.7Z" fill="#0c68d0" stroke="#0c68d0" stroke-width="1.5" stroke-linejoin="round"/>
<path d="M513.3 541.0L526.6 551.7L537.3 549.9L546.1 542.8L540.8 540.2L526.6 543.7Z" fill="#0c68d0" stroke="#0c68d0" stroke-width="1.5" stroke-linejoin="round"/>
</g>
<g id="charts">
<g class="chart">
<rect x="1059.7" y="336.3" width="50.2" height="58.9" fill="#d2d2d2"/>
<rect x="1122.1" y="341.0" width="50.2" height="54.2" fill="#e6007e"/>
<rect x="1184.5" y="373.8" width="50.2" height="21.4" fill="#04bf04"/>
<rect x="1246.9" y="367.7" width="50.2" height="27.5" fill="#04bf04"/>
<rect x="1309.3" y="366.8" width="50.2" height="28.4" fill="#04bf04"/>
<rect x="1371.7" y="351.8" width="50.2" height="43.4" fill="#ff8000"/>
<rect x="1434.1" y="364.1" width="50.2" height="31.1" fill="#ff8000"/>
<rect x="1496.5" y="356.6" width="50.2" height="38.6" fill="#ff8000"/>
<rect x="1558.9" y="226.3" width="50.2" height="168.9" fill="#009ee8"/>
<rect x="1621.3" y="246.6" width="50.2" height="148.6" fill="#009ee8"/>
<rect x="1683.7" y="211.9" width="50.2" height="183.3" fill="#009ee8"/>
<rect x="1746.1" y="267.3" width="50.2" height="127.9" fill="#a757b0"/>
<rect x="1808.5" y="237.6" width="50.2" height="157.6" fill="#a757b0"/>
<rect x="1870.9" y="297.6" width="50.2" height="97.6" fill="#a757b0"/>
<rect x="1933.3" y="273.3" width="50.2" height="121.9" fill="#a757b0"/>
<g stroke="#000" stroke-width="3.4" fill="none">
<line x1="1035.1" y1="173.5" x2="1035.1" y2="397.5"/>
<line x1="1011.8" y1="395.2" x2="1999" y2="395.2"/>
<line x1="1011.8" y1="175.2" x2="1035.1" y2="175.2"/>
<line x1="1011.8" y1="230.4" x2="1035.1" y2="230.4"/>
<line x1="1011.8" y1="285.3" x2="1035.1" y2="285.3"/>
<line x1="1011.8" y1="340.2" x2="1035.1" y2="340.2"/>
<line x1="1084.8" y1="395.2" x2="1084.8" y2="414"/>
<line x1="1147.2" y1="395.2" x2="1147.2" y2="414"/>
<line x1="1209.6" y1="395.2" x2="1209.6" y2="414"/>
<line x1="1272.0" y1="395.2" x2="1272.0" y2="414"/>
<line x1="1334.4" y1="395.2" x2="1334.4" y2="414"/>
<line x1="1396.8" y1="395.2" x2="1396.8" y2="414"/>
<line x1="1459.2" y1="395.2" x2="1459.2" y2="414"/>
<line x1="1521.6" y1="395.2" x2="1521.6" y2="414"/>
<line x1="1584.0" y1="395.2" x2="1584.0" y2="414"/>
<line x1="1646.4" y1="395.2" x2="1646.4" y2="414"/>
<line x1="1708.8" y1="395.2" x2="1708.8" y2="414"/>
<line x1="1771.2" y1="395.2" x2="1771.2" y2="414"/>
<line x1="1833.6" y1="395.2" x2="1833.6" y2="414"/>
<line x1="1896.0" y1="395.2" x2="1896.0" y2="414"/>
<line x1="1958.4" y1="395.2" x2="1958.4" y2="414"/>
</g>
<g stroke="#000" stroke-width="3.5" fill="none">
<path d="M1072.5 333.1H1097.1M1072.5 339.8H1097.1M1084.8 333.1V339.8"/>
<ellipse cx="1068.8" cy="338.9" rx="8.2" ry="7.0"/>
<ellipse cx="1084.7" cy="332.6" rx="8.2" ry="7.0"/>
<ellipse cx="1100.9" cy="338.9" rx="8.2" ry="7.0"/>
<path d="M1134.9 338.0H1159.5M1134.9 344.0H1159.5M1147.2 338.0V344.0"/>
<ellipse cx="1130.3" cy="344.3" rx="8.2" ry="7.0"/>
<ellipse cx="1146.8" cy="338.6" rx="8.2" ry="7.0"/>
<ellipse cx="1164.0" cy="340.1" rx="8.2" ry="7.0"/>
<path d="M1197.3 370.0H1221.9M1197.3 377.0H1221.9M1209.6 370.0V377.0"/>
<ellipse cx="1193.0" cy="377.0" rx="8.2" ry="7.0"/>
<ellipse cx="1209.3" cy="369.8" rx="8.2" ry="7.0"/>
<ellipse cx="1225.8" cy="375.2" rx="8.2" ry="7.0"/>
<path d="M1259.7 367.0H1284.3M1259.7 369.5H1284.3M1272.0 367.0V369.5"/>
<ellipse cx="1255.2" cy="369.5" rx="8.2" ry="7.0"/>
<ellipse cx="1271.7" cy="368.0" rx="8.2" ry="7.0"/>
<ellipse cx="1288.5" cy="368.9" rx="8.2" ry="7.0"/>
<path d="M1322.1 366.0H1346.7M1322.1 368.6H1346.7M1334.4 366.0V368.6"/>
<ellipse cx="1317.3" cy="368.9" rx="8.2" ry="7.0"/>
<ellipse cx="1334.1" cy="366.2" rx="8.2" ry="7.0"/>
<ellipse cx="1350.6" cy="368.0" rx="8.2" ry="7.0"/>
<path d="M1384.5 346.7H1409.1M1384.5 357.2H1409.1M1396.8 346.7V357.2"/>
<ellipse cx="1380.0" cy="357.8" rx="8.2" ry="7.0"/>
<ellipse cx="1396.9" cy="348.2" rx="8.2" ry="7.0"/>
<ellipse cx="1413.7" cy="350.3" rx="8.2" ry="7.0"/>
<path d="M1446.9 362.0H1471.5M1446.9 366.0H1471.5M1459.2 362.0V366.0"/>
<ellipse cx="1442.0" cy="367.1" rx="8.2" ry="7.0"/>
<ellipse cx="1459.0" cy="362.0" rx="8.2" ry="7.0"/>
<ellipse cx="1475.8" cy="363.5" rx="8.2" ry="7.0"/>
<path d="M1509.3 352.5H1533.9M1509.3 361.0H1533.9M1521.6 352.5V361.0"/>
<ellipse cx="1504.6" cy="362.0" rx="8.2" ry="7.0"/>
<ellipse cx="1521.4" cy="353.6" rx="8.2" ry="7.0"/>
<ellipse cx="1538.1" cy="354.5" rx="8.2" ry="7.0"/>
<path d="M1571.7 200.8H1596.3M1571.7 251.7H1596.3M1584.0 200.8V251.7"/>
<ellipse cx="1566.9" cy="243.6" rx="8.2" ry="7.0"/>
<ellipse cx="1583.4" cy="196.9" rx="8.2" ry="7.0"/>
<ellipse cx="1600.5" cy="237.6" rx="8.2" ry="7.0"/>
<path d="M1634.1 219.7H1658.7M1634.1 273.6H1658.7M1646.4 219.7V273.6"/>
<ellipse cx="1629.9" cy="226.9" rx="8.2" ry="7.0"/>
<ellipse cx="1646.3" cy="277.2" rx="8.2" ry="7.0"/>
<ellipse cx="1663.4" cy="235.2" rx="8.2" ry="7.0"/>
<path d="M1696.5 192.7H1721.1M1696.5 230.1H1721.1M1708.8 192.7V230.1"/>
<ellipse cx="1692.2" cy="195.7" rx="8.2" ry="7.0"/>
<ellipse cx="1708.7" cy="231.6" rx="8.2" ry="7.0"/>
<ellipse cx="1725.7" cy="207.4" rx="8.2" ry="7.0"/>
<path d="M1758.9 249.3H1783.5M1758.9 284.1H1783.5M1771.2 249.3V284.1"/>
<ellipse cx="1754.5" cy="252.6" rx="8.2" ry="7.0"/>
<ellipse cx="1771.0" cy="284.7" rx="8.2" ry="7.0"/>
<ellipse cx="1788.1" cy="263.7" rx="8.2" ry="7.0"/>
<path d="M1821.3 224.8H1845.9M1821.3 250.2H1845.9M1833.6 224.8V250.2"/>
<ellipse cx="1816.8" cy="247.2" rx="8.2" ry="7.0"/>
<ellipse cx="1833.3" cy="224.2" rx="8.2" ry="7.0"/>
<ellipse cx="1850.1" cy="242.7" rx="8.2" ry="7.0"/>
<path d="M1883.7 286.8H1908.3M1883.7 308.7H1908.3M1896.0 286.8V308.7"/>
<ellipse cx="1879.2" cy="307.8" rx="8.2" ry="7.0"/>
<ellipse cx="1895.6" cy="286.2" rx="8.2" ry="7.0"/>
<ellipse cx="1912.7" cy="299.7" rx="8.2" ry="7.0"/>
<path d="M1946.1 269.7H1970.7M1946.1 278.7H1970.7M1958.4 269.7V278.7"/>
<ellipse cx="1941.5" cy="278.7" rx="8.2" ry="7.0"/>
<ellipse cx="1958.0" cy="269.1" rx="8.2" ry="7.0"/>
<ellipse cx="1975.1" cy="274.2" rx="8.2" ry="7.0"/>
</g>
<text transform="translate(1158.5,289.5) rotate(-90)" font-size="27" letter-spacing="0.12">P = 0.9998</text>
<text transform="translate(1216.1,351.7) rotate(-90)" font-size="27">P &lt; 0.0001</text>
<text transform="translate(1283.6,351.7) rotate(-90)" font-size="27">P &lt; 0.0001</text>
<text transform="translate(1345.1,351.7) rotate(-90)" font-size="27">P &lt; 0.0001</text>
<text transform="translate(1414.5,330.7) rotate(-90)" font-size="27" letter-spacing="0.12">P = 0.0984</text>
<text transform="translate(1476.6,345.7) rotate(-90)" font-size="27">P &lt; 0.0001</text>
<text transform="translate(1537.7,336.1) rotate(-90)" font-size="27" letter-spacing="0.12">P = 0.0045</text>
<text transform="translate(1591.7,183.3) rotate(-90)" font-size="27">P &lt; 0.0001</text>
<text transform="translate(1651.0,206.7) rotate(-90)" font-size="27">P &lt; 0.0001</text>
<text transform="translate(1714.6,183.3) rotate(-90)" font-size="27">P &lt; 0.0001</text>
<text transform="translate(1777.5,201.3) rotate(-90)" font-size="27">P &lt; 0.0001</text>
<text transform="translate(1839.2,201.3) rotate(-90)" font-size="27">P &lt; 0.0001</text>
<text transform="translate(1906.6,266.6) rotate(-90)" font-size="27" letter-spacing="0.12">P = 0.0003</text>
<text transform="translate(1962.7,218.4) rotate(-90)" font-size="27">P &lt; 0.0001</text>
<text x="1077.6" y="451.0" font-size="27" text-anchor="middle">138</text>
<text x="1141.3" y="451.0" font-size="27" text-anchor="middle">124</text>
<text x="1204.7" y="451.0" font-size="27" text-anchor="middle">130</text>
<text x="1267.0" y="451.0" font-size="27" text-anchor="middle">127</text>
<text x="1327.0" y="451.0" font-size="27" text-anchor="middle">124</text>
<text x="1388.5" y="451.0" font-size="27" text-anchor="middle">130</text>
<text x="1451.5" y="451.0" font-size="27" text-anchor="middle">127</text>
<text x="1510.5" y="451.0" font-size="27" text-anchor="middle">124</text>
<text x="1578.2" y="451.0" font-size="27" text-anchor="middle">130</text>
<text x="1641.5" y="451.0" font-size="27" text-anchor="middle">127</text>
<text x="1700.5" y="451.0" font-size="27" text-anchor="middle">124</text>
<text x="1763.8" y="451.0" font-size="27" text-anchor="middle">138</text>
<text x="1828.3" y="451.0" font-size="27" text-anchor="middle">130</text>
<text x="1891.4" y="451.0" font-size="27" text-anchor="middle">127</text>
<text x="1950.7" y="451.0" font-size="27" text-anchor="middle">124</text>
<text x="895.0" y="451.0" font-size="27" letter-spacing="0.25">Ct ends at</text>
<text x="1000.2" y="185.8" font-size="27" text-anchor="end">4</text>
<text x="1000.2" y="242.3" font-size="27" text-anchor="end">3</text>
<text x="1000.2" y="297.6" font-size="27" text-anchor="end">2</text>
<text x="1000.2" y="350.1" font-size="27" text-anchor="end">1</text>
<text x="1000.2" y="405.2" font-size="27" text-anchor="end">0</text>
</g>
<g class="chart">
<rect x="1059.0" y="768.6" width="49.2" height="48.1" fill="#d2d2d2"/>
<rect x="1120.5" y="748.5" width="49.2" height="68.2" fill="#e6007e"/>
<rect x="1182.0" y="633.6" width="49.2" height="183.1" fill="#04bf04"/>
<rect x="1243.5" y="670.5" width="49.2" height="146.2" fill="#04bf04"/>
<rect x="1305.0" y="683.1" width="49.2" height="133.6" fill="#04bf04"/>
<rect x="1366.5" y="709.2" width="49.2" height="107.5" fill="#ff8000"/>
<rect x="1427.9" y="689.7" width="49.2" height="127.0" fill="#ff8000"/>
<rect x="1489.4" y="696.9" width="49.2" height="119.8" fill="#ff8000"/>
<rect x="1550.9" y="793.6" width="49.2" height="23.1" fill="#009ee8"/>
<rect x="1612.4" y="793.6" width="49.2" height="23.1" fill="#009ee8"/>
<rect x="1673.9" y="795.1" width="49.2" height="21.6" fill="#009ee8"/>
<rect x="1735.4" y="793.0" width="49.2" height="23.7" fill="#a757b0"/>
<rect x="1796.9" y="792.1" width="49.2" height="24.6" fill="#a757b0"/>
<rect x="1858.4" y="793.6" width="49.2" height="23.1" fill="#a757b0"/>
<rect x="1919.9" y="792.7" width="49.2" height="24.0" fill="#a757b0"/>
<g stroke="#000" stroke-width="3.4" fill="none">
<line x1="1035.1" y1="594.4" x2="1035.1" y2="819.0"/>
<line x1="1011.8" y1="816.7" x2="1999" y2="816.7"/>
<line x1="1011.8" y1="596.1" x2="1035.1" y2="596.1"/>
<line x1="1011.8" y1="669.6" x2="1035.1" y2="669.6"/>
<line x1="1011.8" y1="743.1" x2="1035.1" y2="743.1"/>
<line x1="1083.6" y1="816.7" x2="1083.6" y2="834.7"/>
<line x1="1145.1" y1="816.7" x2="1145.1" y2="834.7"/>
<line x1="1206.6" y1="816.7" x2="1206.6" y2="834.7"/>
<line x1="1268.1" y1="816.7" x2="1268.1" y2="834.7"/>
<line x1="1329.6" y1="816.7" x2="1329.6" y2="834.7"/>
<line x1="1391.0" y1="816.7" x2="1391.0" y2="834.7"/>
<line x1="1452.5" y1="816.7" x2="1452.5" y2="834.7"/>
<line x1="1514.0" y1="816.7" x2="1514.0" y2="834.7"/>
<line x1="1575.5" y1="816.7" x2="1575.5" y2="834.7"/>
<line x1="1637.0" y1="816.7" x2="1637.0" y2="834.7"/>
<line x1="1698.5" y1="816.7" x2="1698.5" y2="834.7"/>
<line x1="1760.0" y1="816.7" x2="1760.0" y2="834.7"/>
<line x1="1821.5" y1="816.7" x2="1821.5" y2="834.7"/>
<line x1="1883.0" y1="816.7" x2="1883.0" y2="834.7"/>
<line x1="1944.5" y1="816.7" x2="1944.5" y2="834.7"/>
</g>
<g stroke="#000" stroke-width="3.5" fill="none">
<path d="M1071.3 760.2H1095.9M1071.3 777.7H1095.9M1083.6 760.2V777.7"/>
<ellipse cx="1066.7" cy="774.0" rx="8.2" ry="7.0"/>
<ellipse cx="1083.5" cy="760.2" rx="8.2" ry="7.0"/>
<ellipse cx="1100.6" cy="774.0" rx="8.2" ry="7.0"/>
<path d="M1132.8 737.1H1157.4M1132.8 759.0H1157.4M1145.1 737.1V759.0"/>
<ellipse cx="1128.8" cy="739.5" rx="8.2" ry="7.0"/>
<ellipse cx="1128.8" cy="759.0" rx="8.2" ry="7.0"/>
<ellipse cx="1161.2" cy="745.5" rx="8.2" ry="7.0"/>
<path d="M1194.3 602.0H1218.9M1194.3 665.0H1218.9M1206.6 602.0V665.0"/>
<ellipse cx="1190.0" cy="654.0" rx="8.2" ry="7.0"/>
<ellipse cx="1206.6" cy="597.6" rx="8.2" ry="7.0"/>
<ellipse cx="1223.1" cy="649.2" rx="8.2" ry="7.0"/>
<path d="M1255.8 665.7H1280.4M1255.8 678.0H1280.4M1268.1 665.7V678.0"/>
<ellipse cx="1251.6" cy="678.0" rx="8.2" ry="7.0"/>
<ellipse cx="1267.8" cy="665.7" rx="8.2" ry="7.0"/>
<ellipse cx="1284.6" cy="669.0" rx="8.2" ry="7.0"/>
<path d="M1317.3 673.2H1341.9M1317.3 692.7H1341.9M1329.6 673.2V692.7"/>
<ellipse cx="1313.1" cy="673.5" rx="8.2" ry="7.0"/>
<ellipse cx="1313.1" cy="692.1" rx="8.2" ry="7.0"/>
<ellipse cx="1346.1" cy="684.6" rx="8.2" ry="7.0"/>
<path d="M1378.8 677.1H1403.3M1378.8 741.0H1403.3M1391.0 677.1V741.0"/>
<ellipse cx="1390.9" cy="678.6" rx="8.2" ry="7.0"/>
<ellipse cx="1390.9" cy="708.6" rx="8.2" ry="7.0"/>
<ellipse cx="1390.9" cy="741.0" rx="8.2" ry="7.0"/>
<path d="M1440.2 667.8H1464.8M1440.2 712.1H1464.8M1452.5 667.8V712.1"/>
<ellipse cx="1452.4" cy="667.8" rx="8.2" ry="7.0"/>
<ellipse cx="1452.4" cy="689.7" rx="8.2" ry="7.0"/>
<ellipse cx="1452.4" cy="712.1" rx="8.2" ry="7.0"/>
<path d="M1501.7 680.7H1526.3M1501.7 712.1H1526.3M1514.0 680.7V712.1"/>
<ellipse cx="1497.4" cy="687.3" rx="8.2" ry="7.0"/>
<ellipse cx="1513.9" cy="712.7" rx="8.2" ry="7.0"/>
<ellipse cx="1530.4" cy="687.9" rx="8.2" ry="7.0"/>
<path d="M1563.2 792.0H1587.8M1563.2 795.7H1587.8M1575.5 792.0V795.7"/>
<ellipse cx="1558.8" cy="795.7" rx="8.2" ry="7.0"/>
<ellipse cx="1575.3" cy="792.1" rx="8.2" ry="7.0"/>
<ellipse cx="1592.4" cy="795.1" rx="8.2" ry="7.0"/>
<path d="M1624.7 792.0H1649.3M1624.7 795.7H1649.3M1637.0 792.0V795.7"/>
<ellipse cx="1620.3" cy="795.7" rx="8.2" ry="7.0"/>
<ellipse cx="1636.7" cy="792.1" rx="8.2" ry="7.0"/>
<ellipse cx="1653.8" cy="795.1" rx="8.2" ry="7.0"/>
<path d="M1686.2 795.0H1710.8M1686.2 796.0H1710.8M1698.5 795.0V796.0"/>
<ellipse cx="1681.7" cy="796.0" rx="8.2" ry="7.0"/>
<ellipse cx="1698.2" cy="795.7" rx="8.2" ry="7.0"/>
<ellipse cx="1715.3" cy="795.7" rx="8.2" ry="7.0"/>
<path d="M1747.7 790.6H1772.3M1747.7 795.7H1772.3M1760.0 790.6V795.7"/>
<ellipse cx="1743.1" cy="795.7" rx="8.2" ry="7.0"/>
<ellipse cx="1759.6" cy="790.6" rx="8.2" ry="7.0"/>
<ellipse cx="1776.7" cy="794.2" rx="8.2" ry="7.0"/>
<path d="M1809.2 790.6H1833.8M1809.2 794.0H1833.8M1821.5 790.6V794.0"/>
<ellipse cx="1804.6" cy="794.2" rx="8.2" ry="7.0"/>
<ellipse cx="1821.0" cy="790.6" rx="8.2" ry="7.0"/>
<ellipse cx="1838.1" cy="792.1" rx="8.2" ry="7.0"/>
<path d="M1870.7 790.6H1895.3M1870.7 796.0H1895.3M1883.0 790.6V796.0"/>
<ellipse cx="1866.0" cy="796.0" rx="8.2" ry="7.0"/>
<ellipse cx="1882.5" cy="790.6" rx="8.2" ry="7.0"/>
<ellipse cx="1899.6" cy="794.2" rx="8.2" ry="7.0"/>
<path d="M1932.2 792.7H1956.8M1932.2 793.6H1956.8M1944.5 792.7V793.6"/>
<ellipse cx="1927.4" cy="793.6" rx="8.2" ry="7.0"/>
<ellipse cx="1944.5" cy="792.7" rx="8.2" ry="7.0"/>
<ellipse cx="1961.0" cy="793.6" rx="8.2" ry="7.0"/>
</g>
<text transform="translate(1155.4,730.1) rotate(-90)" font-size="27" letter-spacing="0.12">P = 0.0914</text>
<text transform="translate(1238.9,620.6) rotate(-90)" font-size="27">P &lt; 0.0001</text>
<text transform="translate(1283.0,653.0) rotate(-90)" font-size="27">P &lt; 0.0001</text>
<text transform="translate(1339.1,653.0) rotate(-90)" font-size="27">P &lt; 0.0001</text>
<text transform="translate(1400.1,665.0) rotate(-90)" font-size="27">P &lt; 0.0001</text>
<text transform="translate(1465.8,652.7) rotate(-90)" font-size="27">P &lt; 0.0001</text>
<text transform="translate(1525.2,664.7) rotate(-90)" font-size="27">P &lt; 0.0001</text>
<text transform="translate(1580.0,781.3) rotate(-90)" font-size="27">P &lt; 0.0001</text>
<text transform="translate(1641.4,777.7) rotate(-90)" font-size="27">P &lt; 0.0001</text>
<text transform="translate(1703.5,777.7) rotate(-90)" font-size="27">P &lt; 0.0001</text>
<text transform="translate(1767.3,777.7) rotate(-90)" font-size="27">P &lt; 0.0001</text>
<text transform="translate(1826.9,777.7) rotate(-90)" font-size="27" letter-spacing="0.12">P = 0.0001</text>
<text transform="translate(1886.3,769.6) rotate(-90)" font-size="27">P &lt; 0.0001</text>
<text transform="translate(1950.7,769.6) rotate(-90)" font-size="27">P &lt; 0.0001</text>
<text x="1079.5" y="869.9" font-size="27" text-anchor="middle">138</text>
<text x="1146.9" y="869.9" font-size="27" text-anchor="middle">124</text>
<text x="1205.9" y="869.9" font-size="27" text-anchor="middle">130</text>
<text x="1264.4" y="869.9" font-size="27" text-anchor="middle">127</text>
<text x="1324.0" y="869.9" font-size="27" text-anchor="middle">124</text>
<text x="1386.3" y="869.9" font-size="27" text-anchor="middle">130</text>
<text x="1448.7" y="869.9" font-size="27" text-anchor="middle">127</text>
<text x="1508.1" y="869.9" font-size="27" text-anchor="middle">124</text>
<text x="1575.5" y="869.9" font-size="27" text-anchor="middle">130</text>
<text x="1638.1" y="869.9" font-size="27" text-anchor="middle">127</text>
<text x="1697.5" y="869.9" font-size="27" text-anchor="middle">124</text>
<text x="1762.2" y="869.9" font-size="27" text-anchor="middle">138</text>
<text x="1826.3" y="869.9" font-size="27" text-anchor="middle">130</text>
<text x="1889.0" y="869.9" font-size="27" text-anchor="middle">127</text>
<text x="1948.1" y="869.9" font-size="27" text-anchor="middle">124</text>
<text x="893.0" y="869.9" font-size="27" letter-spacing="0.25">Ct ends at</text>
<text x="1000.2" y="601.5" font-size="27" text-anchor="end">3</text>
<text x="1000.2" y="671.4" font-size="27" text-anchor="end">2</text>
<text x="1000.2" y="747.2" font-size="27" text-anchor="end">1</text>
<text x="1000.2" y="820.1" font-size="27" text-anchor="end">0</text>
</g>
<g class="chart">
<rect x="1060.0" y="1169.0" width="49.2" height="65.8" fill="#d2d2d2"/>
<rect x="1121.5" y="1165.7" width="49.2" height="69.1" fill="#e6007e"/>
<rect x="1183.0" y="1065.5" width="49.2" height="169.3" fill="#04bf04"/>
<rect x="1244.4" y="1047.2" width="49.2" height="187.6" fill="#04bf04"/>
<rect x="1305.9" y="1056.2" width="49.2" height="178.6" fill="#04bf04"/>
<rect x="1367.4" y="1124.6" width="49.2" height="110.2" fill="#ff8000"/>
<rect x="1428.9" y="1091.6" width="49.2" height="143.2" fill="#ff8000"/>
<rect x="1490.4" y="1079.9" width="49.2" height="154.9" fill="#ff8000"/>
<rect x="1551.8" y="1200.6" width="49.2" height="34.2" fill="#009ee8"/>
<rect x="1613.3" y="1200.0" width="49.2" height="34.8" fill="#009ee8"/>
<rect x="1674.8" y="1202.1" width="49.2" height="32.7" fill="#009ee8"/>
<rect x="1736.3" y="1202.1" width="49.2" height="32.7" fill="#a757b0"/>
<rect x="1797.8" y="1200.0" width="49.2" height="34.8" fill="#a757b0"/>
<rect x="1859.2" y="1200.0" width="49.2" height="34.8" fill="#a757b0"/>
<rect x="1920.7" y="1202.1" width="49.2" height="32.7" fill="#a757b0"/>
<g stroke="#000" stroke-width="3.4" fill="none">
<line x1="1035.1" y1="1012.5" x2="1035.1" y2="1237.1"/>
<line x1="1011.8" y1="1234.8" x2="1999" y2="1234.8"/>
<line x1="1011.8" y1="1014.2" x2="1035.1" y2="1014.2"/>
<line x1="1011.8" y1="1087.1" x2="1035.1" y2="1087.1"/>
<line x1="1011.8" y1="1161.2" x2="1035.1" y2="1161.2"/>
<line x1="1084.6" y1="1234.8" x2="1084.6" y2="1253.1"/>
<line x1="1146.1" y1="1234.8" x2="1146.1" y2="1253.1"/>
<line x1="1207.6" y1="1234.8" x2="1207.6" y2="1253.1"/>
<line x1="1269.0" y1="1234.8" x2="1269.0" y2="1253.1"/>
<line x1="1330.5" y1="1234.8" x2="1330.5" y2="1253.1"/>
<line x1="1392.0" y1="1234.8" x2="1392.0" y2="1253.1"/>
<line x1="1453.5" y1="1234.8" x2="1453.5" y2="1253.1"/>
<line x1="1515.0" y1="1234.8" x2="1515.0" y2="1253.1"/>
<line x1="1576.4" y1="1234.8" x2="1576.4" y2="1253.1"/>
<line x1="1637.9" y1="1234.8" x2="1637.9" y2="1253.1"/>
<line x1="1699.4" y1="1234.8" x2="1699.4" y2="1253.1"/>
<line x1="1760.9" y1="1234.8" x2="1760.9" y2="1253.1"/>
<line x1="1822.4" y1="1234.8" x2="1822.4" y2="1253.1"/>
<line x1="1883.8" y1="1234.8" x2="1883.8" y2="1253.1"/>
<line x1="1945.3" y1="1234.8" x2="1945.3" y2="1253.1"/>
</g>
<g stroke="#000" stroke-width="3.5" fill="none">
<path d="M1072.3 1154.6H1096.9M1072.3 1183.1H1096.9M1084.6 1154.6V1183.1"/>
<ellipse cx="1067.6" cy="1177.1" rx="8.2" ry="7.0"/>
<ellipse cx="1084.1" cy="1152.5" rx="8.2" ry="7.0"/>
<ellipse cx="1101.2" cy="1176.5" rx="8.2" ry="7.0"/>
<path d="M1133.8 1156.1H1158.4M1133.8 1174.1H1158.4M1146.1 1156.1V1174.1"/>
<ellipse cx="1129.1" cy="1157.6" rx="8.2" ry="7.0"/>
<ellipse cx="1129.1" cy="1173.5" rx="8.2" ry="7.0"/>
<ellipse cx="1162.2" cy="1166.6" rx="8.2" ry="7.0"/>
<path d="M1195.3 1051.1H1219.9M1195.3 1079.6H1219.9M1207.6 1051.1V1079.6"/>
<ellipse cx="1191.3" cy="1056.5" rx="8.2" ry="7.0"/>
<ellipse cx="1207.2" cy="1081.1" rx="8.2" ry="7.0"/>
<ellipse cx="1223.7" cy="1059.2" rx="8.2" ry="7.0"/>
<path d="M1256.7 1038.5H1281.3M1256.7 1054.1H1281.3M1269.0 1038.5V1054.1"/>
<ellipse cx="1252.5" cy="1040.6" rx="8.2" ry="7.0"/>
<ellipse cx="1252.5" cy="1055.0" rx="8.2" ry="7.0"/>
<ellipse cx="1285.2" cy="1044.5" rx="8.2" ry="7.0"/>
<path d="M1318.2 1042.1H1342.8M1318.2 1069.7H1342.8M1330.5 1042.1V1069.7"/>
<ellipse cx="1314.3" cy="1069.1" rx="8.2" ry="7.0"/>
<ellipse cx="1330.2" cy="1041.5" rx="8.2" ry="7.0"/>
<ellipse cx="1346.7" cy="1059.2" rx="8.2" ry="7.0"/>
<path d="M1379.7 1105.1H1404.3M1379.7 1143.5H1404.3M1392.0 1105.1V1143.5"/>
<ellipse cx="1375.3" cy="1111.1" rx="8.2" ry="7.0"/>
<ellipse cx="1391.8" cy="1144.7" rx="8.2" ry="7.0"/>
<ellipse cx="1408.3" cy="1119.2" rx="8.2" ry="7.0"/>
<path d="M1441.2 1075.4H1465.8M1441.2 1108.3H1465.8M1453.5 1075.4V1108.3"/>
<ellipse cx="1437.5" cy="1080.8" rx="8.2" ry="7.0"/>
<ellipse cx="1453.3" cy="1110.1" rx="8.2" ry="7.0"/>
<ellipse cx="1470.4" cy="1084.4" rx="8.2" ry="7.0"/>
<path d="M1502.7 1056.8H1527.3M1502.7 1101.8H1527.3M1515.0 1056.8V1101.8"/>
<ellipse cx="1498.3" cy="1063.4" rx="8.2" ry="7.0"/>
<ellipse cx="1514.8" cy="1104.2" rx="8.2" ry="7.0"/>
<ellipse cx="1531.0" cy="1070.9" rx="8.2" ry="7.0"/>
<path d="M1564.1 1197.0H1588.7M1564.1 1203.0H1588.7M1576.4 1197.0V1203.0"/>
<ellipse cx="1559.7" cy="1203.0" rx="8.2" ry="7.0"/>
<ellipse cx="1576.2" cy="1197.0" rx="8.2" ry="7.0"/>
<ellipse cx="1592.7" cy="1202.1" rx="8.2" ry="7.0"/>
<path d="M1625.6 1196.2H1650.2M1625.6 1202.0H1650.2M1637.9 1196.2V1202.0"/>
<ellipse cx="1621.2" cy="1202.1" rx="8.2" ry="7.0"/>
<ellipse cx="1637.6" cy="1196.2" rx="8.2" ry="7.0"/>
<ellipse cx="1654.1" cy="1202.1" rx="8.2" ry="7.0"/>
<path d="M1687.1 1201.8H1711.7M1687.1 1202.4H1711.7M1699.4 1201.8V1202.4"/>
<ellipse cx="1682.6" cy="1202.4" rx="8.2" ry="7.0"/>
<ellipse cx="1699.1" cy="1201.8" rx="8.2" ry="7.0"/>
<ellipse cx="1715.5" cy="1202.4" rx="8.2" ry="7.0"/>
<path d="M1748.6 1200.6H1773.2M1748.6 1202.4H1773.2M1760.9 1200.6V1202.4"/>
<ellipse cx="1744.0" cy="1202.4" rx="8.2" ry="7.0"/>
<ellipse cx="1760.5" cy="1200.6" rx="8.2" ry="7.0"/>
<ellipse cx="1777.0" cy="1202.4" rx="8.2" ry="7.0"/>
<path d="M1810.1 1197.6H1834.7M1810.1 1203.0H1834.7M1822.4 1197.6V1203.0"/>
<ellipse cx="1805.5" cy="1203.6" rx="8.2" ry="7.0"/>
<ellipse cx="1821.9" cy="1197.6" rx="8.2" ry="7.0"/>
<ellipse cx="1839.0" cy="1198.2" rx="8.2" ry="7.0"/>
<path d="M1871.5 1198.5H1896.1M1871.5 1200.6H1896.1M1883.8 1198.5V1200.6"/>
<ellipse cx="1866.9" cy="1200.6" rx="8.2" ry="7.0"/>
<ellipse cx="1883.4" cy="1198.5" rx="8.2" ry="7.0"/>
<ellipse cx="1900.4" cy="1198.5" rx="8.2" ry="7.0"/>
<path d="M1933.0 1202.0H1957.6M1933.0 1202.7H1957.6M1945.3 1202.0V1202.7"/>
<ellipse cx="1928.3" cy="1202.7" rx="8.2" ry="7.0"/>
<ellipse cx="1944.8" cy="1202.1" rx="8.2" ry="7.0"/>
<ellipse cx="1961.3" cy="1202.1" rx="8.2" ry="7.0"/>
</g>
<text transform="translate(1157.8,1137.7) rotate(-90)" font-size="27">P &gt; 0.9999</text>
<text transform="translate(1220.9,1035.1) rotate(-90)" font-size="27">P &lt; 0.0001</text>
<text transform="translate(1286.0,1023.1) rotate(-90)" font-size="27">P &lt; 0.0001</text>
<text transform="translate(1341.5,1023.1) rotate(-90)" font-size="27">P &lt; 0.0001</text>
<text transform="translate(1402.5,1091.2) rotate(-90)" font-size="27">P &lt; 0.0001</text>
<text transform="translate(1468.8,1058.2) rotate(-90)" font-size="27">P &lt; 0.0001</text>
<text transform="translate(1527.6,1041.7) rotate(-90)" font-size="27">P &lt; 0.0001</text>
<text transform="translate(1582.1,1176.3) rotate(-90)" font-size="27">P &lt; 0.0001</text>
<text transform="translate(1643.5,1176.3) rotate(-90)" font-size="27">P &lt; 0.0001</text>
<text transform="translate(1705.6,1176.3) rotate(-90)" font-size="27">P &lt; 0.0001</text>
<text transform="translate(1764.3,1176.3) rotate(-90)" font-size="27">P &lt; 0.0001</text>
<text transform="translate(1829.3,1176.3) rotate(-90)" font-size="27">P &lt; 0.0001</text>
<text transform="translate(1889.3,1176.3) rotate(-90)" font-size="27">P &lt; 0.0001</text>
<text transform="translate(1948.3,1176.3) rotate(-90)" font-size="27">P &lt; 0.0001</text>
<text x="1068.5" y="1283.5" font-size="27" text-anchor="middle">138</text>
<text x="1131.4" y="1283.5" font-size="27" text-anchor="middle">124</text>
<text x="1195.4" y="1283.5" font-size="27" text-anchor="middle">130</text>
<text x="1257.9" y="1283.5" font-size="27" text-anchor="middle">127</text>
<text x="1317.2" y="1283.5" font-size="27" text-anchor="middle">124</text>
<text x="1387.8" y="1283.5" font-size="27" text-anchor="middle">130</text>
<text x="1450.2" y="1283.5" font-size="27" text-anchor="middle">127</text>
<text x="1509.6" y="1283.5" font-size="27" text-anchor="middle">124</text>
<text x="1577.0" y="1283.5" font-size="27" text-anchor="middle">130</text>
<text x="1639.6" y="1283.5" font-size="27" text-anchor="middle">127</text>
<text x="1699.0" y="1283.5" font-size="27" text-anchor="middle">124</text>
<text x="1763.1" y="1283.5" font-size="27" text-anchor="middle">138</text>
<text x="1827.2" y="1283.5" font-size="27" text-anchor="middle">130</text>
<text x="1889.9" y="1283.5" font-size="27" text-anchor="middle">127</text>
<text x="1949.2" y="1283.5" font-size="27" text-anchor="middle">124</text>
<text x="894.5" y="1283.5" font-size="27" letter-spacing="0.25">Ct ends at</text>
<text x="1007.8" y="1023.4" font-size="27" text-anchor="end">0.6</text>
<text x="1007.8" y="1097.0" font-size="27" text-anchor="end">0.4</text>
<text x="1007.8" y="1170.9" font-size="27" text-anchor="end">0.2</text>
<text x="997.2" y="1241.8" font-size="27" text-anchor="end">0</text>
</g>
<g class="chart">
<rect x="1059.4" y="1486.1" width="49.2" height="151.6" fill="#d2d2d2"/>
<rect x="1120.9" y="1525.7" width="49.2" height="112.0" fill="#e6007e"/>
<rect x="1182.4" y="1534.1" width="49.2" height="103.6" fill="#04bf04"/>
<rect x="1243.8" y="1495.1" width="49.2" height="142.6" fill="#04bf04"/>
<rect x="1305.3" y="1490.6" width="49.2" height="147.1" fill="#04bf04"/>
<rect x="1366.8" y="1522.1" width="49.2" height="115.6" fill="#ff8000"/>
<rect x="1428.3" y="1512.2" width="49.2" height="125.5" fill="#ff8000"/>
<rect x="1489.8" y="1495.4" width="49.2" height="142.3" fill="#ff8000"/>
<rect x="1551.2" y="1464.2" width="49.2" height="173.5" fill="#009ee8"/>
<rect x="1612.7" y="1464.2" width="49.2" height="173.5" fill="#009ee8"/>
<rect x="1674.2" y="1464.2" width="49.2" height="173.5" fill="#009ee8"/>
<rect x="1735.7" y="1480.1" width="49.2" height="157.6" fill="#a757b0"/>
<rect x="1797.2" y="1480.7" width="49.2" height="157.0" fill="#a757b0"/>
<rect x="1858.6" y="1467.2" width="49.2" height="170.5" fill="#a757b0"/>
<rect x="1920.1" y="1487.3" width="49.2" height="150.4" fill="#a757b0"/>
<g stroke="#000" stroke-width="3.4" fill="none">
<line x1="1035.1" y1="1415.3" x2="1035.1" y2="1640.0"/>
<line x1="1011.8" y1="1637.7" x2="1999" y2="1637.7"/>
<line x1="1011.8" y1="1417" x2="1035.1" y2="1417"/>
<line x1="1011.8" y1="1472.6" x2="1035.1" y2="1472.6"/>
<line x1="1011.8" y1="1527.5" x2="1035.1" y2="1527.5"/>
<line x1="1011.8" y1="1582.1" x2="1035.1" y2="1582.1"/>
<line x1="1084.0" y1="1637.7" x2="1084.0" y2="1655.7"/>
<line x1="1145.5" y1="1637.7" x2="1145.5" y2="1655.7"/>
<line x1="1207.0" y1="1637.7" x2="1207.0" y2="1655.7"/>
<line x1="1268.4" y1="1637.7" x2="1268.4" y2="1655.7"/>
<line x1="1329.9" y1="1637.7" x2="1329.9" y2="1655.7"/>
<line x1="1391.4" y1="1637.7" x2="1391.4" y2="1655.7"/>
<line x1="1452.9" y1="1637.7" x2="1452.9" y2="1655.7"/>
<line x1="1514.4" y1="1637.7" x2="1514.4" y2="1655.7"/>
<line x1="1575.8" y1="1637.7" x2="1575.8" y2="1655.7"/>
<line x1="1637.3" y1="1637.7" x2="1637.3" y2="1655.7"/>
<line x1="1698.8" y1="1637.7" x2="1698.8" y2="1655.7"/>
<line x1="1760.3" y1="1637.7" x2="1760.3" y2="1655.7"/>
<line x1="1821.8" y1="1637.7" x2="1821.8" y2="1655.7"/>
<line x1="1883.2" y1="1637.7" x2="1883.2" y2="1655.7"/>
<line x1="1944.7" y1="1637.7" x2="1944.7" y2="1655.7"/>
</g>
<g stroke="#000" stroke-width="3.5" fill="none">
<path d="M1071.7 1483.0H1096.3M1071.7 1489.7H1096.3M1084.0 1483.0V1489.7"/>
<ellipse cx="1067.6" cy="1489.1" rx="8.2" ry="7.0"/>
<ellipse cx="1084.1" cy="1480.7" rx="8.2" ry="7.0"/>
<ellipse cx="1100.6" cy="1488.2" rx="8.2" ry="7.0"/>
<path d="M1133.2 1520.6H1157.8M1133.2 1531.7H1157.8M1145.5 1520.6V1531.7"/>
<ellipse cx="1129.1" cy="1531.7" rx="8.2" ry="7.0"/>
<ellipse cx="1145.6" cy="1519.1" rx="8.2" ry="7.0"/>
<ellipse cx="1162.2" cy="1526.6" rx="8.2" ry="7.0"/>
<path d="M1194.7 1521.5H1219.3M1194.7 1547.0H1219.3M1207.0 1521.5V1547.0"/>
<ellipse cx="1190.7" cy="1522.7" rx="8.2" ry="7.0"/>
<ellipse cx="1207.2" cy="1547.6" rx="8.2" ry="7.0"/>
<ellipse cx="1223.7" cy="1533.5" rx="8.2" ry="7.0"/>
<path d="M1256.1 1493.6H1280.7M1256.1 1497.5H1280.7M1268.4 1493.6V1497.5"/>
<ellipse cx="1252.2" cy="1497.5" rx="8.2" ry="7.0"/>
<ellipse cx="1268.1" cy="1493.6" rx="8.2" ry="7.0"/>
<ellipse cx="1285.2" cy="1495.7" rx="8.2" ry="7.0"/>
<path d="M1317.6 1481.6H1342.2M1317.6 1499.6H1342.2M1329.9 1481.6V1499.6"/>
<ellipse cx="1313.7" cy="1482.5" rx="8.2" ry="7.0"/>
<ellipse cx="1313.7" cy="1499.6" rx="8.2" ry="7.0"/>
<ellipse cx="1346.7" cy="1489.7" rx="8.2" ry="7.0"/>
<path d="M1379.1 1507.1H1403.7M1379.1 1537.1H1403.7M1391.4 1507.1V1537.1"/>
<ellipse cx="1375.3" cy="1508.0" rx="8.2" ry="7.0"/>
<ellipse cx="1391.8" cy="1538.6" rx="8.2" ry="7.0"/>
<ellipse cx="1408.3" cy="1520.0" rx="8.2" ry="7.0"/>
<path d="M1440.6 1503.2H1465.2M1440.6 1522.4H1465.2M1452.9 1503.2V1522.4"/>
<ellipse cx="1436.6" cy="1506.2" rx="8.2" ry="7.0"/>
<ellipse cx="1453.0" cy="1522.4" rx="8.2" ry="7.0"/>
<ellipse cx="1469.5" cy="1507.7" rx="8.2" ry="7.0"/>
<path d="M1502.1 1491.8H1526.7M1502.1 1500.2H1526.7M1514.4 1491.8V1500.2"/>
<ellipse cx="1498.0" cy="1499.3" rx="8.2" ry="7.0"/>
<ellipse cx="1514.5" cy="1491.8" rx="8.2" ry="7.0"/>
<ellipse cx="1531.0" cy="1497.2" rx="8.2" ry="7.0"/>
<path d="M1563.5 1464.8H1588.1M1563.5 1466.3H1588.1M1575.8 1464.8V1466.3"/>
<ellipse cx="1559.4" cy="1466.3" rx="8.2" ry="7.0"/>
<ellipse cx="1575.9" cy="1464.8" rx="8.2" ry="7.0"/>
<ellipse cx="1592.7" cy="1466.3" rx="8.2" ry="7.0"/>
<path d="M1625.0 1464.2H1649.6M1625.0 1467.0H1649.6M1637.3 1464.2V1467.0"/>
<ellipse cx="1621.2" cy="1468.4" rx="8.2" ry="7.0"/>
<ellipse cx="1637.6" cy="1464.2" rx="8.2" ry="7.0"/>
<ellipse cx="1654.1" cy="1465.4" rx="8.2" ry="7.0"/>
<path d="M1686.5 1464.2H1711.1M1686.5 1466.3H1711.1M1698.8 1464.2V1466.3"/>
<ellipse cx="1682.6" cy="1466.3" rx="8.2" ry="7.0"/>
<ellipse cx="1698.8" cy="1464.2" rx="8.2" ry="7.0"/>
<ellipse cx="1715.3" cy="1466.3" rx="8.2" ry="7.0"/>
<path d="M1748.0 1464.2H1772.6M1748.0 1496.3H1772.6M1760.3 1464.2V1496.3"/>
<ellipse cx="1760.5" cy="1466.3" rx="8.2" ry="7.0"/>
<ellipse cx="1760.5" cy="1480.4" rx="8.2" ry="7.0"/>
<ellipse cx="1760.5" cy="1496.3" rx="8.2" ry="7.0"/>
<path d="M1809.5 1479.2H1834.1M1809.5 1483.7H1834.1M1821.8 1479.2V1483.7"/>
<ellipse cx="1805.5" cy="1483.7" rx="8.2" ry="7.0"/>
<ellipse cx="1821.9" cy="1479.2" rx="8.2" ry="7.0"/>
<ellipse cx="1838.4" cy="1482.8" rx="8.2" ry="7.0"/>
<path d="M1870.9 1452.8H1895.5M1870.9 1482.8H1895.5M1883.2 1452.8V1482.8"/>
<ellipse cx="1866.9" cy="1481.3" rx="8.2" ry="7.0"/>
<ellipse cx="1883.4" cy="1451.3" rx="8.2" ry="7.0"/>
<ellipse cx="1899.9" cy="1470.8" rx="8.2" ry="7.0"/>
<path d="M1932.4 1485.0H1957.0M1932.4 1491.0H1957.0M1944.7 1485.0V1491.0"/>
<ellipse cx="1928.3" cy="1491.8" rx="8.2" ry="7.0"/>
<ellipse cx="1944.8" cy="1484.3" rx="8.2" ry="7.0"/>
<ellipse cx="1961.3" cy="1488.8" rx="8.2" ry="7.0"/>
</g>
<text transform="translate(1157.8,1506.1) rotate(-90)" font-size="27" letter-spacing="0.12">P = 0.0004</text>
<text transform="translate(1220.9,1510.0) rotate(-90)" font-size="27" letter-spacing="0.12">P = 0.0001</text>
<text transform="translate(1286.0,1481.2) rotate(-90)" font-size="27" letter-spacing="0.12">P = 0.9871</text>
<text transform="translate(1345.4,1464.1) rotate(-90)" font-size="27">P &gt; 0.9999</text>
<text transform="translate(1403.1,1492.6) rotate(-90)" font-size="27" letter-spacing="0.12">P = 0.0018</text>
<text transform="translate(1468.8,1492.3) rotate(-90)" font-size="27" letter-spacing="0.12">P = 0.0511</text>
<text transform="translate(1527.6,1473.4) rotate(-90)" font-size="27" letter-spacing="0.12">P = 0.9851</text>
<text transform="translate(1582.1,1448.2) rotate(-90)" font-size="27" letter-spacing="0.12">P = 0.3074</text>
<text transform="translate(1647.1,1448.2) rotate(-90)" font-size="27" letter-spacing="0.12">P = 0.3221</text>
<text transform="translate(1705.9,1448.2) rotate(-90)" font-size="27" letter-spacing="0.12">P = 0.2622</text>
<text transform="translate(1770.9,1448.2) rotate(-90)" font-size="27" letter-spacing="0.12">P = 0.9998</text>
<text transform="translate(1829.9,1464.7) rotate(-90)" font-size="27">P &gt; 0.9999</text>
<text transform="translate(1892.9,1436.3) rotate(-90)" font-size="27" letter-spacing="0.12">P = 0.4627</text>
<text transform="translate(1959.1,1464.7) rotate(-90)" font-size="27">P &gt; 0.9999</text>
<text x="1079.5" y="1687.0" font-size="27" text-anchor="middle">138</text>
<text x="1143.1" y="1687.0" font-size="27" text-anchor="middle">124</text>
<text x="1206.2" y="1687.0" font-size="27" text-anchor="middle">130</text>
<text x="1265.0" y="1687.0" font-size="27" text-anchor="middle">127</text>
<text x="1324.4" y="1687.0" font-size="27" text-anchor="middle">124</text>
<text x="1390.2" y="1687.0" font-size="27" text-anchor="middle">130</text>
<text x="1453.2" y="1687.0" font-size="27" text-anchor="middle">127</text>
<text x="1512.3" y="1687.0" font-size="27" text-anchor="middle">124</text>
<text x="1580.0" y="1687.0" font-size="27" text-anchor="middle">130</text>
<text x="1643.2" y="1687.0" font-size="27" text-anchor="middle">127</text>
<text x="1702.4" y="1687.0" font-size="27" text-anchor="middle">124</text>
<text x="1766.1" y="1687.0" font-size="27" text-anchor="middle">138</text>
<text x="1830.5" y="1687.0" font-size="27" text-anchor="middle">130</text>
<text x="1893.5" y="1687.0" font-size="27" text-anchor="middle">127</text>
<text x="1952.5" y="1687.0" font-size="27" text-anchor="middle">124</text>
<text x="897.5" y="1687.0" font-size="27" letter-spacing="0.25">Ct ends at</text>
<text x="1000.8" y="1417.4" font-size="27" text-anchor="end">4</text>
<text x="1000.8" y="1473.5" font-size="27" text-anchor="end">3</text>
<text x="1000.8" y="1528.9" font-size="27" text-anchor="end">2</text>
<text x="1000.8" y="1581.8" font-size="27" text-anchor="end">1</text>
<text x="1000.8" y="1636.4" font-size="27" text-anchor="end">0</text>
</g>
</g>
<text x="-1.3" y="84.6" font-size="27.6" font-weight="bold">a</text>
<text x="-1.0" y="947.5" font-size="27.6" font-weight="bold">b</text>
<text x="868.5" y="85.5" font-size="27.6" font-weight="bold">c</text>
<text x="869.0" y="539.4" font-size="27.6" font-weight="bold">d</text>
<text x="868.6" y="946.7" font-size="27.6" font-weight="bold">e</text>
<text x="878.0" y="1384.0" font-size="27.6" font-weight="bold">f</text>
<text x="926.0" y="20.4" font-size="27" letter-spacing="0.15">Nt starts at</text>
<text x="1092.0" y="20.4" font-size="27" text-anchor="middle">1</text>
<text x="1256.7" y="20.4" font-size="27" text-anchor="middle">21</text>
<text x="1441.2" y="20.4" font-size="27" text-anchor="middle">24</text>
<text x="1633.7" y="20.4" font-size="27" text-anchor="middle">27</text>
<text x="1850.4" y="20.4" font-size="27" text-anchor="middle">29</text>
<g stroke="#000" stroke-width="3.2" fill="none" stroke-linejoin="miter">
<polyline points="1040.6,53.4 1050.5,36.6 1134.5,36.6 1143.5,53.4"/>
<polyline points="1177.8,53.4 1187.7,36.6 1331.1,36.6 1340.1,53.4"/>
<polyline points="1359.4,53.4 1369.3,36.6 1513,36.6 1521.4,53.4"/>
<polyline points="1553.7,53.3 1563.3,36.6 1706.6,36.6 1715.3,53.3"/>
<polyline points="1737.7,53.3 1747.6,36.6 1961.9,36.6 1976,53.3"/>
</g>
<text transform="translate(894.4,411.0) rotate(-90)" font-size="27" letter-spacing="0.2">Relative Activity<tspan font-size="21" dy="12">mutant/wt</tspan></text>
<text transform="translate(956.5,364.5) rotate(-90)" font-size="27" letter-spacing="0.2">(α-LA agg. Prev)</text>
<text transform="translate(949.3,741.8) rotate(-90)" font-size="27" letter-spacing="0.2"><tspan font-style="italic">K</tspan><tspan font-size="22" dy="12">d</tspan><tspan dy="-12" dx="2"> (μM)</tspan></text>
<text transform="translate(949.8,1172.0) rotate(-90)" font-size="27" letter-spacing="0.2"><tspan font-style="italic">k</tspan><tspan font-size="22" dy="12">off</tspan><tspan dy="-12"> (s</tspan><tspan font-size="21" dy="-12">-1</tspan><tspan dy="12">)</tspan></text>
<text transform="translate(949.4,1626.5) rotate(-90)" font-size="27" letter-spacing="0.2"><tspan font-style="italic">k</tspan><tspan font-size="22" dy="12">on</tspan><tspan dy="-12"> (x10</tspan><tspan font-size="21" dy="-12">5</tspan><tspan dy="12"> M</tspan><tspan font-size="21" dy="-12">-1</tspan><tspan dy="12">s</tspan><tspan font-size="21" dy="-12">-1</tspan><tspan dy="12">)</tspan></text>
<text x="431.7" y="956.0" font-size="27" text-anchor="middle">29</text>
<text x="599.8" y="956.0" font-size="27" text-anchor="middle">124</text>
<text x="471.5" y="759.5" font-size="27" text-anchor="middle" letter-spacing="0.17">Modeled Spy full-length structure</text>
<line x1="207.7" y1="983.1" x2="426.4" y2="983.1" stroke="#e2001a" stroke-width="4.2"/>
<line x1="617.7" y1="983.1" x2="696.4" y2="983.1" stroke="#21208c" stroke-width="4.2"/>
<rect x="431.4" y="968.8" width="181.3" height="28.6" fill="#fff" stroke="#1b93d9" stroke-width="2.7"/>
<ellipse cx="431.7" cy="983.1" rx="9.6" ry="15.3" fill="#009fe3"/>
<ellipse cx="612.4" cy="983.1" rx="9.6" ry="15.3" fill="#009fe3"/>
<text x="203.0" y="994.0" font-size="27" text-anchor="end">1</text>
<text x="754.5" y="994.0" font-size="27" text-anchor="end">138</text>
<line x1="207.7" y1="1029.3" x2="426.4" y2="1029.3" stroke="#e2001a" stroke-width="4.2"/>
<rect x="431.4" y="1015.0" width="181.3" height="28.6" fill="#fff" stroke="#1b93d9" stroke-width="2.7"/>
<ellipse cx="431.7" cy="1029.3" rx="9.6" ry="15.3" fill="#009fe3"/>
<ellipse cx="612.4" cy="1029.3" rx="9.6" ry="15.3" fill="#009fe3"/>
<text x="203.0" y="1040.6" font-size="27" text-anchor="end">1</text>
<text x="754.5" y="1039.0" font-size="27" text-anchor="end">124</text>
<line x1="263.7" y1="1086.7" x2="424.1" y2="1086.7" stroke="#e2001a" stroke-width="4.2"/>
<line x1="616.8" y1="1086.7" x2="663.7" y2="1086.7" stroke="#21208c" stroke-width="4.2"/>
<rect x="429.1" y="1072.4" width="182.7" height="28.6" fill="#fff" stroke="#1b93d9" stroke-width="2.7"/>
<ellipse cx="429.4" cy="1086.7" rx="9.6" ry="15.3" fill="#009fe3"/>
<ellipse cx="611.5" cy="1086.7" rx="9.6" ry="15.3" fill="#009fe3"/>
<text x="210.0" y="1096.2" font-size="27" text-anchor="end">21</text>
<text x="754.5" y="1095.0" font-size="27" text-anchor="end">130</text>
<line x1="263.7" y1="1126.6" x2="426" y2="1126.6" stroke="#e2001a" stroke-width="4.2"/>
<line x1="617.7" y1="1126.6" x2="639" y2="1126.6" stroke="#21208c" stroke-width="4.2"/>
<rect x="431.0" y="1112.3" width="181.7" height="28.6" fill="#fff" stroke="#1b93d9" stroke-width="2.7"/>
<ellipse cx="431.3" cy="1126.6" rx="9.6" ry="15.3" fill="#009fe3"/>
<ellipse cx="612.4" cy="1126.6" rx="9.6" ry="15.3" fill="#009fe3"/>
<text x="210.0" y="1137.7" font-size="27" text-anchor="end">21</text>
<text x="754.5" y="1136.0" font-size="27" text-anchor="end">127</text>
<line x1="263.7" y1="1170.2" x2="427" y2="1170.2" stroke="#e2001a" stroke-width="4.2"/>
<rect x="432.0" y="1155.9" width="181.6" height="28.6" fill="#fff" stroke="#1b93d9" stroke-width="2.7"/>
<ellipse cx="432.3" cy="1170.2" rx="9.6" ry="15.3" fill="#009fe3"/>
<ellipse cx="613.3" cy="1170.2" rx="9.6" ry="15.3" fill="#009fe3"/>
<text x="210.0" y="1179.7" font-size="27" text-anchor="end">21</text>
<text x="754.5" y="1177.2" font-size="27" text-anchor="end">124</text>
<line x1="305.5" y1="1230" x2="428.7" y2="1230" stroke="#e2001a" stroke-width="4.2"/>
<line x1="620.5" y1="1230" x2="665" y2="1230" stroke="#21208c" stroke-width="4.2"/>
<rect x="433.7" y="1215.7" width="181.8" height="28.6" fill="#fff" stroke="#1b93d9" stroke-width="2.7"/>
<ellipse cx="434.0" cy="1230" rx="9.6" ry="15.3" fill="#009fe3"/>
<ellipse cx="615.2" cy="1230" rx="9.6" ry="15.3" fill="#009fe3"/>
<text x="210.0" y="1240.2" font-size="27" text-anchor="end">24</text>
<text x="754.5" y="1236.0" font-size="27" text-anchor="end">130</text>
<line x1="305.5" y1="1271.1" x2="428.7" y2="1271.1" stroke="#e2001a" stroke-width="4.2"/>
<line x1="620.5" y1="1271.1" x2="640.5" y2="1271.1" stroke="#21208c" stroke-width="4.2"/>
<rect x="433.7" y="1256.8" width="181.8" height="28.6" fill="#fff" stroke="#1b93d9" stroke-width="2.7"/>
<ellipse cx="434.0" cy="1271.1" rx="9.6" ry="15.3" fill="#009fe3"/>
<ellipse cx="615.2" cy="1271.1" rx="9.6" ry="15.3" fill="#009fe3"/>
<text x="210.0" y="1281.7" font-size="27" text-anchor="end">24</text>
<text x="754.5" y="1276.2" font-size="27" text-anchor="end">127</text>
<line x1="305.5" y1="1313.1" x2="428.7" y2="1313.1" stroke="#e2001a" stroke-width="4.2"/>
<rect x="433.7" y="1298.8" width="181.8" height="28.6" fill="#fff" stroke="#1b93d9" stroke-width="2.7"/>
<ellipse cx="434.0" cy="1313.1" rx="9.6" ry="15.3" fill="#009fe3"/>
<ellipse cx="615.2" cy="1313.1" rx="9.6" ry="15.3" fill="#009fe3"/>
<text x="210.0" y="1323.7" font-size="27" text-anchor="end">24</text>
<text x="754.5" y="1317.3" font-size="27" text-anchor="end">124</text>
<line x1="358" y1="1372.8" x2="427.3" y2="1372.8" stroke="#e2001a" stroke-width="4.2"/>
<line x1="619.1" y1="1372.8" x2="666.3" y2="1372.8" stroke="#21208c" stroke-width="4.2"/>
<rect x="432.3" y="1358.5" width="181.8" height="28.6" fill="#fff" stroke="#1b93d9" stroke-width="2.7"/>
<ellipse cx="432.6" cy="1372.8" rx="9.6" ry="15.3" fill="#009fe3"/>
<ellipse cx="613.8" cy="1372.8" rx="9.6" ry="15.3" fill="#009fe3"/>
<text x="210.0" y="1376.7" font-size="27" text-anchor="end">27</text>
<text x="754.5" y="1373.8" font-size="27" text-anchor="end">130</text>
<line x1="358" y1="1413.9" x2="428.7" y2="1413.9" stroke="#e2001a" stroke-width="4.2"/>
<line x1="620.5" y1="1413.9" x2="642" y2="1413.9" stroke="#21208c" stroke-width="4.2"/>
<rect x="433.7" y="1399.6" width="181.8" height="28.6" fill="#fff" stroke="#1b93d9" stroke-width="2.7"/>
<ellipse cx="434.0" cy="1413.9" rx="9.6" ry="15.3" fill="#009fe3"/>
<ellipse cx="615.2" cy="1413.9" rx="9.6" ry="15.3" fill="#009fe3"/>
<text x="210.0" y="1418.2" font-size="27" text-anchor="end">27</text>
<text x="754.5" y="1413.9" font-size="27" text-anchor="end">127</text>
<line x1="358" y1="1456.4" x2="428.7" y2="1456.4" stroke="#e2001a" stroke-width="4.2"/>
<rect x="433.7" y="1442.1" width="181.8" height="28.6" fill="#fff" stroke="#1b93d9" stroke-width="2.7"/>
<ellipse cx="434.0" cy="1456.4" rx="9.6" ry="15.3" fill="#009fe3"/>
<ellipse cx="615.2" cy="1456.4" rx="9.6" ry="15.3" fill="#009fe3"/>
<text x="210.0" y="1460.7" font-size="27" text-anchor="end">27</text>
<text x="754.5" y="1454.5" font-size="27" text-anchor="end">124</text>
<line x1="619.1" y1="1515.6" x2="691" y2="1515.6" stroke="#21208c" stroke-width="4.2"/>
<rect x="432.3" y="1501.3" width="181.8" height="28.6" fill="#fff" stroke="#1b93d9" stroke-width="2.7"/>
<ellipse cx="432.6" cy="1515.6" rx="9.6" ry="15.3" fill="#009fe3"/>
<ellipse cx="613.8" cy="1515.6" rx="9.6" ry="15.3" fill="#009fe3"/>
<text x="210.0" y="1523.2" font-size="27" text-anchor="end">29</text>
<text x="754.5" y="1520.8" font-size="27" text-anchor="end">138</text>
<line x1="619.1" y1="1552" x2="665" y2="1552" stroke="#21208c" stroke-width="4.2"/>
<rect x="432.3" y="1537.7" width="181.8" height="28.6" fill="#fff" stroke="#1b93d9" stroke-width="2.7"/>
<ellipse cx="432.6" cy="1552" rx="9.6" ry="15.3" fill="#009fe3"/>
<ellipse cx="613.8" cy="1552" rx="9.6" ry="15.3" fill="#009fe3"/>
<text x="210.0" y="1565.2" font-size="27" text-anchor="end">29</text>
<text x="754.5" y="1560.9" font-size="27" text-anchor="end">130</text>
<line x1="620.5" y1="1593.1" x2="640.5" y2="1593.1" stroke="#21208c" stroke-width="4.2"/>
<rect x="433.7" y="1578.8" width="181.8" height="28.6" fill="#fff" stroke="#1b93d9" stroke-width="2.7"/>
<ellipse cx="434.0" cy="1593.1" rx="9.6" ry="15.3" fill="#009fe3"/>
<ellipse cx="615.2" cy="1593.1" rx="9.6" ry="15.3" fill="#009fe3"/>
<text x="210.0" y="1607.2" font-size="27" text-anchor="end">29</text>
<text x="754.5" y="1601.5" font-size="27" text-anchor="end">127</text>
<rect x="433.7" y="1625.0" width="181.8" height="28.6" fill="#fff" stroke="#1b93d9" stroke-width="2.7"/>
<ellipse cx="434.0" cy="1639.3" rx="9.6" ry="15.3" fill="#009fe3"/>
<ellipse cx="615.2" cy="1639.3" rx="9.6" ry="15.3" fill="#009fe3"/>
<text x="210.0" y="1650.7" font-size="27" text-anchor="end">29</text>
<text x="754.5" y="1645.9" font-size="27" text-anchor="end">124</text>
<text x="86.5" y="993.8" font-size="27.5" text-anchor="middle">(WT)</text>
<text x="86.5" y="1041" font-size="27.5" text-anchor="middle">(Spy<tspan font-size="21.5" dy="12">1-124</tspan><tspan dy="-12">)</tspan></text>
<text x="86.5" y="1519.5" font-size="27.5" text-anchor="middle">(Spy<tspan font-size="21.5" dy="12">29-138</tspan><tspan dy="-12">)</tspan></text>
<text x="86.5" y="1647.3" font-size="27.5" text-anchor="middle">(Spy<tspan font-size="21.5" dy="12">29-124</tspan><tspan dy="-12">)</tspan></text>
</svg>
</body>
</html>
